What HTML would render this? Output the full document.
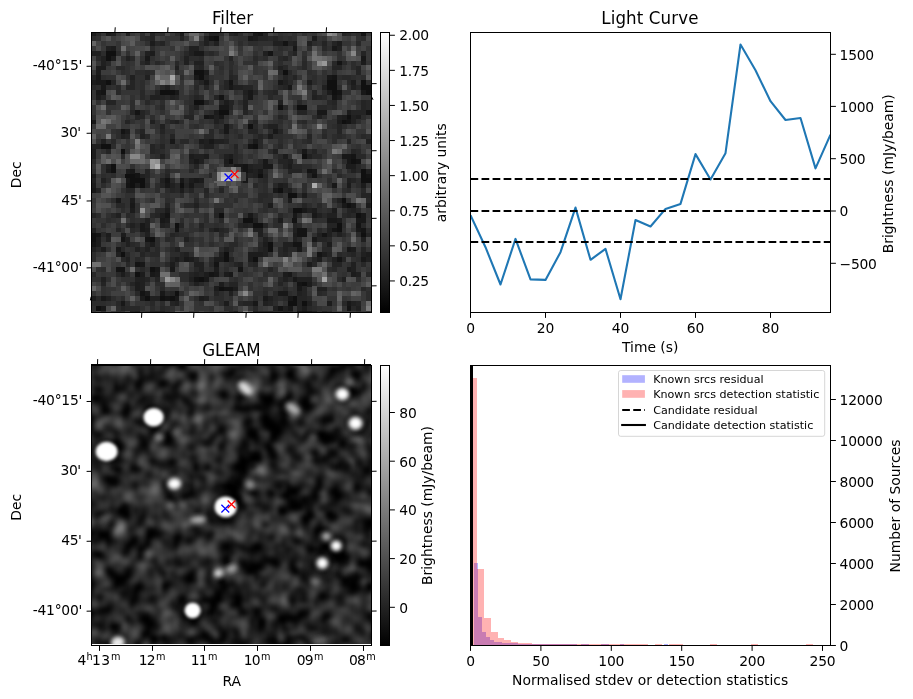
<!DOCTYPE html><html><head><meta charset="utf-8"><title>Candidate plot</title>
<style>html,body{margin:0;padding:0;background:#fff}svg{display:block}text{font-family:"DejaVu Sans","Liberation Sans",sans-serif;fill:#000}</style></head><body>
<svg width="913" height="699" viewBox="0 0 913 699">
<defs>
<linearGradient id="gg" x1="0" y1="1" x2="0" y2="0"><stop offset="0" stop-color="#000"/><stop offset="1" stop-color="#fff"/></linearGradient>
<filter id="b0" x="0" y="0" width="1" height="1" color-interpolation-filters="sRGB"><feGaussianBlur stdDeviation="2.0"/></filter>
<filter id="b1" x="-0.5" y="-0.5" width="2" height="2" color-interpolation-filters="sRGB"><feGaussianBlur stdDeviation="1.9"/></filter>
<filter id="b4" x="-0.5" y="-0.5" width="2" height="2" color-interpolation-filters="sRGB"><feGaussianBlur stdDeviation="1.35"/></filter>
<filter id="b3" x="-0.5" y="-0.5" width="2" height="2" color-interpolation-filters="sRGB"><feGaussianBlur stdDeviation="3"/></filter>
<filter id="b2" x="-0.5" y="-0.5" width="2" height="2" color-interpolation-filters="sRGB"><feGaussianBlur stdDeviation="2.4"/></filter>
<clipPath id="c1"><rect x="92.00" y="33.00" width="279.00" height="279.00"/></clipPath>
<clipPath id="c3"><rect x="91.00" y="364.00" width="280.00" height="279.90"/></clipPath>
<clipPath id="c2"><rect x="471.00" y="33.00" width="359.00" height="279.00"/></clipPath>
</defs>
<g clip-path="url(#c1)" shape-rendering="crispEdges">
<rect x="91" y="32" width="281" height="281" fill="#383838"/>
<path fill="rgb(16,16,16)" d="M213.8 35.9h5.0v5.0h-5.0zM371.0 45.7h5.0v5.0h-5.0zM105.7 50.6h5.0v5.0h-5.0zM110.6 50.6h5.0v5.0h-5.0zM105.7 55.6h5.0v5.0h-5.0zM194.2 70.3h5.0v5.0h-5.0zM199.1 70.3h5.0v5.0h-5.0zM282.6 70.3h5.0v5.0h-5.0zM199.1 75.2h5.0v5.0h-5.0zM105.7 80.1h5.0v5.0h-5.0zM326.8 80.1h5.0v5.0h-5.0zM331.7 80.1h5.0v5.0h-5.0zM361.2 80.1h5.0v5.0h-5.0zM326.8 85.0h5.0v5.0h-5.0zM331.7 85.0h5.0v5.0h-5.0zM361.2 85.0h5.0v5.0h-5.0zM366.1 85.0h5.0v5.0h-5.0zM159.8 89.9h5.0v5.0h-5.0zM164.7 89.9h5.0v5.0h-5.0zM169.6 89.9h5.0v5.0h-5.0zM331.7 89.9h5.0v5.0h-5.0zM366.1 89.9h5.0v5.0h-5.0zM194.2 99.8h5.0v5.0h-5.0zM199.1 99.8h5.0v5.0h-5.0zM277.7 104.7h5.0v5.0h-5.0zM297.3 104.7h5.0v5.0h-5.0zM302.2 104.7h5.0v5.0h-5.0zM218.7 109.6h5.0v5.0h-5.0zM223.6 109.6h5.0v5.0h-5.0zM346.4 114.5h5.0v5.0h-5.0zM341.5 119.4h5.0v5.0h-5.0zM248.2 124.3h5.0v5.0h-5.0zM100.8 144.0h5.0v5.0h-5.0zM105.7 144.0h5.0v5.0h-5.0zM253.1 144.0h5.0v5.0h-5.0zM120.5 148.9h5.0v5.0h-5.0zM302.2 153.8h5.0v5.0h-5.0zM228.5 158.7h5.0v5.0h-5.0zM351.3 158.7h5.0v5.0h-5.0zM110.6 163.6h5.0v5.0h-5.0zM110.6 168.5h5.0v5.0h-5.0zM361.2 168.5h5.0v5.0h-5.0zM125.4 173.4h5.0v5.0h-5.0zM130.3 173.4h5.0v5.0h-5.0zM258.0 173.4h5.0v5.0h-5.0zM361.2 173.4h5.0v5.0h-5.0zM130.3 178.4h5.0v5.0h-5.0zM135.2 178.4h5.0v5.0h-5.0zM140.1 178.4h5.0v5.0h-5.0zM361.2 178.4h5.0v5.0h-5.0zM366.1 178.4h5.0v5.0h-5.0zM130.3 183.3h5.0v5.0h-5.0zM140.1 183.3h5.0v5.0h-5.0zM179.4 183.3h5.0v5.0h-5.0zM277.7 188.2h5.0v5.0h-5.0zM287.5 193.1h5.0v5.0h-5.0zM292.4 193.1h5.0v5.0h-5.0zM341.5 198.0h5.0v5.0h-5.0zM346.4 202.9h5.0v5.0h-5.0zM292.4 207.8h5.0v5.0h-5.0zM297.3 207.8h5.0v5.0h-5.0zM218.7 212.7h5.0v5.0h-5.0zM356.2 212.7h5.0v5.0h-5.0zM243.3 217.7h5.0v5.0h-5.0zM248.2 217.7h5.0v5.0h-5.0zM174.5 222.6h5.0v5.0h-5.0zM253.1 222.6h5.0v5.0h-5.0zM258.0 222.6h5.0v5.0h-5.0zM336.6 222.6h5.0v5.0h-5.0zM336.6 227.5h5.0v5.0h-5.0zM91.0 232.4h5.0v5.0h-5.0zM361.2 232.4h5.0v5.0h-5.0zM91.0 237.3h5.0v5.0h-5.0zM149.9 237.3h5.0v5.0h-5.0zM267.8 242.2h5.0v5.0h-5.0zM267.8 247.1h5.0v5.0h-5.0zM120.5 252.0h5.0v5.0h-5.0zM223.6 252.0h5.0v5.0h-5.0zM223.6 257.0h5.0v5.0h-5.0zM253.1 257.0h5.0v5.0h-5.0zM149.9 266.8h5.0v5.0h-5.0zM135.2 271.7h5.0v5.0h-5.0zM199.1 276.6h5.0v5.0h-5.0zM302.2 281.5h5.0v5.0h-5.0zM218.7 286.4h5.0v5.0h-5.0zM174.5 291.3h5.0v5.0h-5.0zM145.0 296.2h5.0v5.0h-5.0zM159.8 296.2h5.0v5.0h-5.0zM169.6 296.2h5.0v5.0h-5.0zM292.4 296.2h5.0v5.0h-5.0zM287.5 301.2h5.0v5.0h-5.0zM292.4 301.2h5.0v5.0h-5.0zM302.2 301.2h5.0v5.0h-5.0zM95.9 306.1h5.0v5.0h-5.0z"/>
<path fill="rgb(20,20,20)" d="M258.0 31.0h5.0v5.0h-5.0zM361.2 31.0h5.0v5.0h-5.0zM208.9 35.9h5.0v5.0h-5.0zM282.6 40.8h5.0v5.0h-5.0zM267.8 50.6h5.0v5.0h-5.0zM336.6 60.5h5.0v5.0h-5.0zM331.7 75.2h5.0v5.0h-5.0zM228.5 80.1h5.0v5.0h-5.0zM100.8 89.9h5.0v5.0h-5.0zM336.6 89.9h5.0v5.0h-5.0zM218.7 94.9h5.0v5.0h-5.0zM331.7 94.9h5.0v5.0h-5.0zM135.2 109.6h5.0v5.0h-5.0zM366.1 109.6h5.0v5.0h-5.0zM204.0 114.5h5.0v5.0h-5.0zM346.4 119.4h5.0v5.0h-5.0zM120.5 129.2h5.0v5.0h-5.0zM248.2 144.0h5.0v5.0h-5.0zM351.3 153.8h5.0v5.0h-5.0zM356.2 158.7h5.0v5.0h-5.0zM243.3 163.6h5.0v5.0h-5.0zM243.3 168.5h5.0v5.0h-5.0zM307.1 168.5h5.0v5.0h-5.0zM135.2 173.4h5.0v5.0h-5.0zM312.0 173.4h5.0v5.0h-5.0zM366.1 173.4h5.0v5.0h-5.0zM164.7 178.4h5.0v5.0h-5.0zM125.4 183.3h5.0v5.0h-5.0zM164.7 212.7h5.0v5.0h-5.0zM292.4 217.7h5.0v5.0h-5.0zM356.2 222.6h5.0v5.0h-5.0zM174.5 227.5h5.0v5.0h-5.0zM297.3 227.5h5.0v5.0h-5.0zM302.2 227.5h5.0v5.0h-5.0zM331.7 227.5h5.0v5.0h-5.0zM361.2 227.5h5.0v5.0h-5.0zM95.9 232.4h5.0v5.0h-5.0zM297.3 232.4h5.0v5.0h-5.0zM302.2 232.4h5.0v5.0h-5.0zM321.9 232.4h5.0v5.0h-5.0zM120.5 237.3h5.0v5.0h-5.0zM145.0 237.3h5.0v5.0h-5.0zM91.0 242.2h5.0v5.0h-5.0zM292.4 242.2h5.0v5.0h-5.0zM297.3 242.2h5.0v5.0h-5.0zM317.0 252.0h5.0v5.0h-5.0zM336.6 257.0h5.0v5.0h-5.0zM135.2 261.9h5.0v5.0h-5.0zM213.8 261.9h5.0v5.0h-5.0zM115.6 266.8h5.0v5.0h-5.0zM120.5 266.8h5.0v5.0h-5.0zM238.4 266.8h5.0v5.0h-5.0zM208.9 271.7h5.0v5.0h-5.0zM194.2 276.6h5.0v5.0h-5.0zM297.3 281.5h5.0v5.0h-5.0zM223.6 286.4h5.0v5.0h-5.0zM228.5 286.4h5.0v5.0h-5.0zM140.1 291.3h5.0v5.0h-5.0zM164.7 296.2h5.0v5.0h-5.0zM277.7 306.1h5.0v5.0h-5.0zM346.4 306.1h5.0v5.0h-5.0zM302.2 311.0h5.0v5.0h-5.0z"/>
<path fill="rgb(24,24,24)" d="M253.1 31.0h5.0v5.0h-5.0zM248.2 35.9h5.0v5.0h-5.0zM371.0 40.8h5.0v5.0h-5.0zM292.4 45.7h5.0v5.0h-5.0zM331.7 45.7h5.0v5.0h-5.0zM194.2 50.6h5.0v5.0h-5.0zM199.1 50.6h5.0v5.0h-5.0zM145.0 55.6h5.0v5.0h-5.0zM361.2 55.6h5.0v5.0h-5.0zM95.9 75.2h5.0v5.0h-5.0zM194.2 75.2h5.0v5.0h-5.0zM326.8 75.2h5.0v5.0h-5.0zM95.9 80.1h5.0v5.0h-5.0zM100.8 80.1h5.0v5.0h-5.0zM204.0 80.1h5.0v5.0h-5.0zM277.7 80.1h5.0v5.0h-5.0zM100.8 85.0h5.0v5.0h-5.0zM228.5 85.0h5.0v5.0h-5.0zM287.5 85.0h5.0v5.0h-5.0zM95.9 89.9h5.0v5.0h-5.0zM174.5 89.9h5.0v5.0h-5.0zM248.2 89.9h5.0v5.0h-5.0zM361.2 89.9h5.0v5.0h-5.0zM248.2 94.9h5.0v5.0h-5.0zM218.7 104.7h5.0v5.0h-5.0zM223.6 104.7h5.0v5.0h-5.0zM317.0 109.6h5.0v5.0h-5.0zM321.9 109.6h5.0v5.0h-5.0zM208.9 114.5h5.0v5.0h-5.0zM218.7 114.5h5.0v5.0h-5.0zM91.0 119.4h5.0v5.0h-5.0zM223.6 124.3h5.0v5.0h-5.0zM223.6 129.2h5.0v5.0h-5.0zM272.7 129.2h5.0v5.0h-5.0zM169.6 139.1h5.0v5.0h-5.0zM208.9 139.1h5.0v5.0h-5.0zM302.2 148.9h5.0v5.0h-5.0zM341.5 153.8h5.0v5.0h-5.0zM346.4 153.8h5.0v5.0h-5.0zM194.2 158.7h5.0v5.0h-5.0zM262.9 158.7h5.0v5.0h-5.0zM346.4 158.7h5.0v5.0h-5.0zM233.4 163.6h5.0v5.0h-5.0zM238.4 163.6h5.0v5.0h-5.0zM262.9 163.6h5.0v5.0h-5.0zM267.8 163.6h5.0v5.0h-5.0zM130.3 168.5h5.0v5.0h-5.0zM258.0 168.5h5.0v5.0h-5.0zM312.0 168.5h5.0v5.0h-5.0zM91.0 173.4h5.0v5.0h-5.0zM125.4 178.4h5.0v5.0h-5.0zM179.4 178.4h5.0v5.0h-5.0zM194.2 178.4h5.0v5.0h-5.0zM243.3 178.4h5.0v5.0h-5.0zM164.7 183.3h5.0v5.0h-5.0zM189.2 183.3h5.0v5.0h-5.0zM331.7 183.3h5.0v5.0h-5.0zM91.0 188.2h5.0v5.0h-5.0zM272.7 188.2h5.0v5.0h-5.0zM115.6 198.0h5.0v5.0h-5.0zM130.3 202.9h5.0v5.0h-5.0zM341.5 202.9h5.0v5.0h-5.0zM351.3 202.9h5.0v5.0h-5.0zM302.2 207.8h5.0v5.0h-5.0zM248.2 212.7h5.0v5.0h-5.0zM292.4 212.7h5.0v5.0h-5.0zM312.0 212.7h5.0v5.0h-5.0zM361.2 212.7h5.0v5.0h-5.0zM159.8 217.7h5.0v5.0h-5.0zM326.8 217.7h5.0v5.0h-5.0zM331.7 217.7h5.0v5.0h-5.0zM356.2 217.7h5.0v5.0h-5.0zM361.2 217.7h5.0v5.0h-5.0zM140.1 222.6h5.0v5.0h-5.0zM140.1 227.5h5.0v5.0h-5.0zM356.2 227.5h5.0v5.0h-5.0zM312.0 237.3h5.0v5.0h-5.0zM115.6 247.1h5.0v5.0h-5.0zM297.3 247.1h5.0v5.0h-5.0zM346.4 247.1h5.0v5.0h-5.0zM184.3 257.0h5.0v5.0h-5.0zM361.2 257.0h5.0v5.0h-5.0zM140.1 261.9h5.0v5.0h-5.0zM154.9 266.8h5.0v5.0h-5.0zM169.6 266.8h5.0v5.0h-5.0zM149.9 271.7h5.0v5.0h-5.0zM213.8 271.7h5.0v5.0h-5.0zM228.5 271.7h5.0v5.0h-5.0zM287.5 271.7h5.0v5.0h-5.0zM204.0 276.6h5.0v5.0h-5.0zM292.4 276.6h5.0v5.0h-5.0zM297.3 286.4h5.0v5.0h-5.0zM159.8 291.3h5.0v5.0h-5.0zM277.7 291.3h5.0v5.0h-5.0zM282.6 291.3h5.0v5.0h-5.0zM371.0 291.3h5.0v5.0h-5.0zM100.8 296.2h5.0v5.0h-5.0zM174.5 296.2h5.0v5.0h-5.0zM262.9 296.2h5.0v5.0h-5.0zM287.5 296.2h5.0v5.0h-5.0zM120.5 301.2h5.0v5.0h-5.0zM253.1 301.2h5.0v5.0h-5.0zM346.4 301.2h5.0v5.0h-5.0zM100.8 306.1h5.0v5.0h-5.0zM287.5 306.1h5.0v5.0h-5.0zM297.3 311.0h5.0v5.0h-5.0zM307.1 311.0h5.0v5.0h-5.0z"/>
<path fill="rgb(28,28,28)" d="M91.0 31.0h5.0v5.0h-5.0zM105.7 31.0h5.0v5.0h-5.0zM179.4 31.0h5.0v5.0h-5.0zM253.1 35.9h5.0v5.0h-5.0zM312.0 35.9h5.0v5.0h-5.0zM149.9 40.8h5.0v5.0h-5.0zM336.6 40.8h5.0v5.0h-5.0zM110.6 45.7h5.0v5.0h-5.0zM149.9 50.6h5.0v5.0h-5.0zM110.6 55.6h5.0v5.0h-5.0zM361.2 60.5h5.0v5.0h-5.0zM95.9 65.4h5.0v5.0h-5.0zM100.8 65.4h5.0v5.0h-5.0zM95.9 70.3h5.0v5.0h-5.0zM204.0 70.3h5.0v5.0h-5.0zM91.0 80.1h5.0v5.0h-5.0zM307.1 80.1h5.0v5.0h-5.0zM351.3 80.1h5.0v5.0h-5.0zM326.8 89.9h5.0v5.0h-5.0zM371.0 89.9h5.0v5.0h-5.0zM95.9 94.9h5.0v5.0h-5.0zM336.6 94.9h5.0v5.0h-5.0zM223.6 99.8h5.0v5.0h-5.0zM213.8 109.6h5.0v5.0h-5.0zM346.4 109.6h5.0v5.0h-5.0zM341.5 114.5h5.0v5.0h-5.0zM356.2 114.5h5.0v5.0h-5.0zM336.6 119.4h5.0v5.0h-5.0zM125.4 129.2h5.0v5.0h-5.0zM267.8 134.2h5.0v5.0h-5.0zM199.1 139.1h5.0v5.0h-5.0zM253.1 139.1h5.0v5.0h-5.0zM91.0 148.9h5.0v5.0h-5.0zM91.0 153.8h5.0v5.0h-5.0zM189.2 153.8h5.0v5.0h-5.0zM204.0 153.8h5.0v5.0h-5.0zM228.5 153.8h5.0v5.0h-5.0zM282.6 153.8h5.0v5.0h-5.0zM223.6 158.7h5.0v5.0h-5.0zM287.5 163.6h5.0v5.0h-5.0zM346.4 163.6h5.0v5.0h-5.0zM351.3 163.6h5.0v5.0h-5.0zM105.7 168.5h5.0v5.0h-5.0zM125.4 168.5h5.0v5.0h-5.0zM238.4 168.5h5.0v5.0h-5.0zM248.2 168.5h5.0v5.0h-5.0zM243.3 173.4h5.0v5.0h-5.0zM189.2 178.4h5.0v5.0h-5.0zM199.1 178.4h5.0v5.0h-5.0zM371.0 178.4h5.0v5.0h-5.0zM91.0 183.3h5.0v5.0h-5.0zM135.2 183.3h5.0v5.0h-5.0zM277.7 183.3h5.0v5.0h-5.0zM346.4 183.3h5.0v5.0h-5.0zM361.2 183.3h5.0v5.0h-5.0zM179.4 188.2h5.0v5.0h-5.0zM302.2 193.1h5.0v5.0h-5.0zM130.3 198.0h5.0v5.0h-5.0zM287.5 198.0h5.0v5.0h-5.0zM267.8 202.9h5.0v5.0h-5.0zM366.1 202.9h5.0v5.0h-5.0zM130.3 207.8h5.0v5.0h-5.0zM164.7 207.8h5.0v5.0h-5.0zM312.0 207.8h5.0v5.0h-5.0zM331.7 207.8h5.0v5.0h-5.0zM159.8 212.7h5.0v5.0h-5.0zM164.7 217.7h5.0v5.0h-5.0zM277.7 217.7h5.0v5.0h-5.0zM336.6 217.7h5.0v5.0h-5.0zM145.0 227.5h5.0v5.0h-5.0zM213.8 227.5h5.0v5.0h-5.0zM105.7 232.4h5.0v5.0h-5.0zM120.5 232.4h5.0v5.0h-5.0zM292.4 232.4h5.0v5.0h-5.0zM95.9 237.3h5.0v5.0h-5.0zM95.9 242.2h5.0v5.0h-5.0zM149.9 242.2h5.0v5.0h-5.0zM262.9 242.2h5.0v5.0h-5.0zM326.8 242.2h5.0v5.0h-5.0zM100.8 247.1h5.0v5.0h-5.0zM351.3 247.1h5.0v5.0h-5.0zM248.2 252.0h5.0v5.0h-5.0zM253.1 252.0h5.0v5.0h-5.0zM258.0 252.0h5.0v5.0h-5.0zM321.9 252.0h5.0v5.0h-5.0zM366.1 252.0h5.0v5.0h-5.0zM174.5 257.0h5.0v5.0h-5.0zM189.2 257.0h5.0v5.0h-5.0zM213.8 257.0h5.0v5.0h-5.0zM218.7 257.0h5.0v5.0h-5.0zM248.2 257.0h5.0v5.0h-5.0zM317.0 257.0h5.0v5.0h-5.0zM169.6 261.9h5.0v5.0h-5.0zM307.1 261.9h5.0v5.0h-5.0zM213.8 266.8h5.0v5.0h-5.0zM346.4 266.8h5.0v5.0h-5.0zM120.5 271.7h5.0v5.0h-5.0zM140.1 271.7h5.0v5.0h-5.0zM154.9 271.7h5.0v5.0h-5.0zM204.0 271.7h5.0v5.0h-5.0zM223.6 271.7h5.0v5.0h-5.0zM282.6 271.7h5.0v5.0h-5.0zM351.3 271.7h5.0v5.0h-5.0zM135.2 281.5h5.0v5.0h-5.0zM218.7 281.5h5.0v5.0h-5.0zM307.1 281.5h5.0v5.0h-5.0zM135.2 286.4h5.0v5.0h-5.0zM213.8 286.4h5.0v5.0h-5.0zM233.4 286.4h5.0v5.0h-5.0zM371.0 286.4h5.0v5.0h-5.0zM145.0 291.3h5.0v5.0h-5.0zM91.0 296.2h5.0v5.0h-5.0zM140.1 296.2h5.0v5.0h-5.0zM199.1 296.2h5.0v5.0h-5.0zM223.6 301.2h5.0v5.0h-5.0zM326.8 301.2h5.0v5.0h-5.0zM302.2 306.1h5.0v5.0h-5.0z"/>
<path fill="rgb(32,32,32)" d="M110.6 31.0h5.0v5.0h-5.0zM125.4 31.0h5.0v5.0h-5.0zM233.4 31.0h5.0v5.0h-5.0zM204.0 35.9h5.0v5.0h-5.0zM204.0 40.8h5.0v5.0h-5.0zM213.8 40.8h5.0v5.0h-5.0zM272.7 40.8h5.0v5.0h-5.0zM277.7 40.8h5.0v5.0h-5.0zM292.4 40.8h5.0v5.0h-5.0zM307.1 40.8h5.0v5.0h-5.0zM105.7 45.7h5.0v5.0h-5.0zM189.2 45.7h5.0v5.0h-5.0zM194.2 45.7h5.0v5.0h-5.0zM336.6 45.7h5.0v5.0h-5.0zM91.0 50.6h5.0v5.0h-5.0zM95.9 50.6h5.0v5.0h-5.0zM145.0 50.6h5.0v5.0h-5.0zM189.2 50.6h5.0v5.0h-5.0zM262.9 50.6h5.0v5.0h-5.0zM100.8 55.6h5.0v5.0h-5.0zM125.4 55.6h5.0v5.0h-5.0zM184.3 55.6h5.0v5.0h-5.0zM100.8 60.5h5.0v5.0h-5.0zM145.0 60.5h5.0v5.0h-5.0zM184.3 60.5h5.0v5.0h-5.0zM194.2 60.5h5.0v5.0h-5.0zM199.1 60.5h5.0v5.0h-5.0zM174.5 65.4h5.0v5.0h-5.0zM277.7 65.4h5.0v5.0h-5.0zM130.3 75.2h5.0v5.0h-5.0zM145.0 75.2h5.0v5.0h-5.0zM282.6 80.1h5.0v5.0h-5.0zM164.7 85.0h5.0v5.0h-5.0zM233.4 85.0h5.0v5.0h-5.0zM238.4 85.0h5.0v5.0h-5.0zM321.9 85.0h5.0v5.0h-5.0zM351.3 85.0h5.0v5.0h-5.0zM243.3 89.9h5.0v5.0h-5.0zM149.9 94.9h5.0v5.0h-5.0zM154.9 94.9h5.0v5.0h-5.0zM169.6 94.9h5.0v5.0h-5.0zM312.0 94.9h5.0v5.0h-5.0zM243.3 99.8h5.0v5.0h-5.0zM277.7 99.8h5.0v5.0h-5.0zM194.2 104.7h5.0v5.0h-5.0zM243.3 104.7h5.0v5.0h-5.0zM213.8 114.5h5.0v5.0h-5.0zM317.0 114.5h5.0v5.0h-5.0zM336.6 114.5h5.0v5.0h-5.0zM351.3 114.5h5.0v5.0h-5.0zM149.9 119.4h5.0v5.0h-5.0zM174.5 119.4h5.0v5.0h-5.0zM213.8 119.4h5.0v5.0h-5.0zM351.3 119.4h5.0v5.0h-5.0zM159.8 124.3h5.0v5.0h-5.0zM267.8 124.3h5.0v5.0h-5.0zM272.7 124.3h5.0v5.0h-5.0zM120.5 134.2h5.0v5.0h-5.0zM140.1 134.2h5.0v5.0h-5.0zM100.8 139.1h5.0v5.0h-5.0zM204.0 139.1h5.0v5.0h-5.0zM213.8 139.1h5.0v5.0h-5.0zM218.7 139.1h5.0v5.0h-5.0zM366.1 139.1h5.0v5.0h-5.0zM91.0 144.0h5.0v5.0h-5.0zM95.9 144.0h5.0v5.0h-5.0zM204.0 144.0h5.0v5.0h-5.0zM208.9 144.0h5.0v5.0h-5.0zM272.7 148.9h5.0v5.0h-5.0zM159.8 153.8h5.0v5.0h-5.0zM194.2 153.8h5.0v5.0h-5.0zM199.1 153.8h5.0v5.0h-5.0zM223.6 153.8h5.0v5.0h-5.0zM307.1 153.8h5.0v5.0h-5.0zM189.2 158.7h5.0v5.0h-5.0zM199.1 158.7h5.0v5.0h-5.0zM287.5 158.7h5.0v5.0h-5.0zM105.7 163.6h5.0v5.0h-5.0zM223.6 163.6h5.0v5.0h-5.0zM248.2 163.6h5.0v5.0h-5.0zM253.1 168.5h5.0v5.0h-5.0zM351.3 168.5h5.0v5.0h-5.0zM366.1 168.5h5.0v5.0h-5.0zM140.1 173.4h5.0v5.0h-5.0zM253.1 173.4h5.0v5.0h-5.0zM91.0 178.4h5.0v5.0h-5.0zM100.8 178.4h5.0v5.0h-5.0zM159.8 178.4h5.0v5.0h-5.0zM346.4 178.4h5.0v5.0h-5.0zM169.6 183.3h5.0v5.0h-5.0zM282.6 183.3h5.0v5.0h-5.0zM287.5 188.2h5.0v5.0h-5.0zM336.6 198.0h5.0v5.0h-5.0zM194.2 202.9h5.0v5.0h-5.0zM307.1 207.8h5.0v5.0h-5.0zM351.3 207.8h5.0v5.0h-5.0zM115.6 212.7h5.0v5.0h-5.0zM317.0 212.7h5.0v5.0h-5.0zM326.8 212.7h5.0v5.0h-5.0zM331.7 212.7h5.0v5.0h-5.0zM145.0 217.7h5.0v5.0h-5.0zM253.1 217.7h5.0v5.0h-5.0zM130.3 222.6h5.0v5.0h-5.0zM145.0 222.6h5.0v5.0h-5.0zM159.8 222.6h5.0v5.0h-5.0zM243.3 222.6h5.0v5.0h-5.0zM91.0 227.5h5.0v5.0h-5.0zM253.1 227.5h5.0v5.0h-5.0zM258.0 227.5h5.0v5.0h-5.0zM292.4 227.5h5.0v5.0h-5.0zM326.8 227.5h5.0v5.0h-5.0zM145.0 232.4h5.0v5.0h-5.0zM258.0 232.4h5.0v5.0h-5.0zM317.0 232.4h5.0v5.0h-5.0zM326.8 232.4h5.0v5.0h-5.0zM336.6 232.4h5.0v5.0h-5.0zM105.7 237.3h5.0v5.0h-5.0zM125.4 237.3h5.0v5.0h-5.0zM184.3 237.3h5.0v5.0h-5.0zM262.9 237.3h5.0v5.0h-5.0zM292.4 237.3h5.0v5.0h-5.0zM361.2 237.3h5.0v5.0h-5.0zM125.4 242.2h5.0v5.0h-5.0zM282.6 242.2h5.0v5.0h-5.0zM287.5 242.2h5.0v5.0h-5.0zM91.0 247.1h5.0v5.0h-5.0zM135.2 247.1h5.0v5.0h-5.0zM145.0 247.1h5.0v5.0h-5.0zM174.5 247.1h5.0v5.0h-5.0zM223.6 247.1h5.0v5.0h-5.0zM262.9 247.1h5.0v5.0h-5.0zM282.6 247.1h5.0v5.0h-5.0zM115.6 252.0h5.0v5.0h-5.0zM184.3 252.0h5.0v5.0h-5.0zM218.7 252.0h5.0v5.0h-5.0zM262.9 252.0h5.0v5.0h-5.0zM361.2 252.0h5.0v5.0h-5.0zM125.4 257.0h5.0v5.0h-5.0zM331.7 257.0h5.0v5.0h-5.0zM366.1 257.0h5.0v5.0h-5.0zM194.2 261.9h5.0v5.0h-5.0zM199.1 261.9h5.0v5.0h-5.0zM238.4 261.9h5.0v5.0h-5.0zM351.3 261.9h5.0v5.0h-5.0zM199.1 266.8h5.0v5.0h-5.0zM351.3 266.8h5.0v5.0h-5.0zM194.2 271.7h5.0v5.0h-5.0zM356.2 271.7h5.0v5.0h-5.0zM100.8 276.6h5.0v5.0h-5.0zM135.2 276.6h5.0v5.0h-5.0zM140.1 276.6h5.0v5.0h-5.0zM189.2 276.6h5.0v5.0h-5.0zM282.6 276.6h5.0v5.0h-5.0zM297.3 276.6h5.0v5.0h-5.0zM302.2 276.6h5.0v5.0h-5.0zM307.1 276.6h5.0v5.0h-5.0zM341.5 276.6h5.0v5.0h-5.0zM140.1 281.5h5.0v5.0h-5.0zM194.2 281.5h5.0v5.0h-5.0zM140.1 286.4h5.0v5.0h-5.0zM317.0 286.4h5.0v5.0h-5.0zM321.9 286.4h5.0v5.0h-5.0zM228.5 291.3h5.0v5.0h-5.0zM297.3 291.3h5.0v5.0h-5.0zM105.7 296.2h5.0v5.0h-5.0zM149.9 296.2h5.0v5.0h-5.0zM154.9 296.2h5.0v5.0h-5.0zM204.0 296.2h5.0v5.0h-5.0zM267.8 296.2h5.0v5.0h-5.0zM174.5 301.2h5.0v5.0h-5.0zM262.9 301.2h5.0v5.0h-5.0zM307.1 301.2h5.0v5.0h-5.0zM351.3 301.2h5.0v5.0h-5.0zM272.7 306.1h5.0v5.0h-5.0zM282.6 306.1h5.0v5.0h-5.0zM356.2 306.1h5.0v5.0h-5.0zM135.2 311.0h5.0v5.0h-5.0zM159.8 311.0h5.0v5.0h-5.0zM233.4 311.0h5.0v5.0h-5.0zM253.1 311.0h5.0v5.0h-5.0zM312.0 311.0h5.0v5.0h-5.0z"/>
<path fill="rgb(36,36,36)" d="M149.9 31.0h5.0v5.0h-5.0zM208.9 31.0h5.0v5.0h-5.0zM213.8 31.0h5.0v5.0h-5.0zM228.5 31.0h5.0v5.0h-5.0zM262.9 31.0h5.0v5.0h-5.0zM341.5 31.0h5.0v5.0h-5.0zM149.9 35.9h5.0v5.0h-5.0zM179.4 35.9h5.0v5.0h-5.0zM258.0 35.9h5.0v5.0h-5.0zM262.9 35.9h5.0v5.0h-5.0zM272.7 35.9h5.0v5.0h-5.0zM159.8 40.8h5.0v5.0h-5.0zM287.5 40.8h5.0v5.0h-5.0zM321.9 40.8h5.0v5.0h-5.0zM331.7 40.8h5.0v5.0h-5.0zM292.4 50.6h5.0v5.0h-5.0zM361.2 50.6h5.0v5.0h-5.0zM228.5 55.6h5.0v5.0h-5.0zM282.6 55.6h5.0v5.0h-5.0zM199.1 65.4h5.0v5.0h-5.0zM331.7 65.4h5.0v5.0h-5.0zM336.6 65.4h5.0v5.0h-5.0zM356.2 65.4h5.0v5.0h-5.0zM356.2 70.3h5.0v5.0h-5.0zM91.0 75.2h5.0v5.0h-5.0zM204.0 75.2h5.0v5.0h-5.0zM228.5 75.2h5.0v5.0h-5.0zM282.6 75.2h5.0v5.0h-5.0zM292.4 75.2h5.0v5.0h-5.0zM110.6 80.1h5.0v5.0h-5.0zM130.3 80.1h5.0v5.0h-5.0zM199.1 80.1h5.0v5.0h-5.0zM223.6 80.1h5.0v5.0h-5.0zM125.4 85.0h5.0v5.0h-5.0zM130.3 85.0h5.0v5.0h-5.0zM204.0 85.0h5.0v5.0h-5.0zM223.6 85.0h5.0v5.0h-5.0zM243.3 85.0h5.0v5.0h-5.0zM248.2 85.0h5.0v5.0h-5.0zM282.6 85.0h5.0v5.0h-5.0zM154.9 89.9h5.0v5.0h-5.0zM253.1 89.9h5.0v5.0h-5.0zM272.7 89.9h5.0v5.0h-5.0zM312.0 89.9h5.0v5.0h-5.0zM100.8 94.9h5.0v5.0h-5.0zM159.8 94.9h5.0v5.0h-5.0zM174.5 94.9h5.0v5.0h-5.0zM194.2 94.9h5.0v5.0h-5.0zM213.8 94.9h5.0v5.0h-5.0zM243.3 94.9h5.0v5.0h-5.0zM317.0 94.9h5.0v5.0h-5.0zM105.7 99.8h5.0v5.0h-5.0zM110.6 99.8h5.0v5.0h-5.0zM204.0 99.8h5.0v5.0h-5.0zM228.5 99.8h5.0v5.0h-5.0zM331.7 99.8h5.0v5.0h-5.0zM361.2 99.8h5.0v5.0h-5.0zM228.5 104.7h5.0v5.0h-5.0zM361.2 104.7h5.0v5.0h-5.0zM130.3 109.6h5.0v5.0h-5.0zM140.1 109.6h5.0v5.0h-5.0zM243.3 109.6h5.0v5.0h-5.0zM297.3 109.6h5.0v5.0h-5.0zM302.2 109.6h5.0v5.0h-5.0zM351.3 109.6h5.0v5.0h-5.0zM356.2 109.6h5.0v5.0h-5.0zM361.2 109.6h5.0v5.0h-5.0zM135.2 114.5h5.0v5.0h-5.0zM140.1 114.5h5.0v5.0h-5.0zM184.3 114.5h5.0v5.0h-5.0zM189.2 114.5h5.0v5.0h-5.0zM277.7 114.5h5.0v5.0h-5.0zM125.4 119.4h5.0v5.0h-5.0zM169.6 119.4h5.0v5.0h-5.0zM253.1 119.4h5.0v5.0h-5.0zM336.6 124.3h5.0v5.0h-5.0zM140.1 129.2h5.0v5.0h-5.0zM159.8 129.2h5.0v5.0h-5.0zM248.2 129.2h5.0v5.0h-5.0zM253.1 129.2h5.0v5.0h-5.0zM277.7 129.2h5.0v5.0h-5.0zM336.6 129.2h5.0v5.0h-5.0zM125.4 134.2h5.0v5.0h-5.0zM169.6 134.2h5.0v5.0h-5.0zM258.0 134.2h5.0v5.0h-5.0zM307.1 134.2h5.0v5.0h-5.0zM223.6 139.1h5.0v5.0h-5.0zM346.4 139.1h5.0v5.0h-5.0zM371.0 139.1h5.0v5.0h-5.0zM149.9 144.0h5.0v5.0h-5.0zM159.8 144.0h5.0v5.0h-5.0zM233.4 144.0h5.0v5.0h-5.0zM105.7 148.9h5.0v5.0h-5.0zM149.9 148.9h5.0v5.0h-5.0zM312.0 148.9h5.0v5.0h-5.0zM351.3 148.9h5.0v5.0h-5.0zM277.7 158.7h5.0v5.0h-5.0zM282.6 158.7h5.0v5.0h-5.0zM194.2 163.6h5.0v5.0h-5.0zM228.5 163.6h5.0v5.0h-5.0zM253.1 163.6h5.0v5.0h-5.0zM258.0 163.6h5.0v5.0h-5.0zM282.6 163.6h5.0v5.0h-5.0zM145.0 168.5h5.0v5.0h-5.0zM287.5 168.5h5.0v5.0h-5.0zM292.4 168.5h5.0v5.0h-5.0zM297.3 168.5h5.0v5.0h-5.0zM145.0 173.4h5.0v5.0h-5.0zM164.7 173.4h5.0v5.0h-5.0zM248.2 173.4h5.0v5.0h-5.0zM262.9 173.4h5.0v5.0h-5.0zM307.1 173.4h5.0v5.0h-5.0zM351.3 178.4h5.0v5.0h-5.0zM145.0 183.3h5.0v5.0h-5.0zM159.8 183.3h5.0v5.0h-5.0zM184.3 183.3h5.0v5.0h-5.0zM95.9 188.2h5.0v5.0h-5.0zM125.4 188.2h5.0v5.0h-5.0zM130.3 188.2h5.0v5.0h-5.0zM169.6 188.2h5.0v5.0h-5.0zM189.2 188.2h5.0v5.0h-5.0zM204.0 188.2h5.0v5.0h-5.0zM218.7 188.2h5.0v5.0h-5.0zM282.6 188.2h5.0v5.0h-5.0zM361.2 193.1h5.0v5.0h-5.0zM366.1 193.1h5.0v5.0h-5.0zM164.7 202.9h5.0v5.0h-5.0zM302.2 202.9h5.0v5.0h-5.0zM346.4 207.8h5.0v5.0h-5.0zM91.0 212.7h5.0v5.0h-5.0zM154.9 212.7h5.0v5.0h-5.0zM213.8 212.7h5.0v5.0h-5.0zM346.4 212.7h5.0v5.0h-5.0zM371.0 212.7h5.0v5.0h-5.0zM164.7 222.6h5.0v5.0h-5.0zM179.4 222.6h5.0v5.0h-5.0zM199.1 222.6h5.0v5.0h-5.0zM238.4 222.6h5.0v5.0h-5.0zM248.2 222.6h5.0v5.0h-5.0zM262.9 222.6h5.0v5.0h-5.0zM292.4 222.6h5.0v5.0h-5.0zM326.8 222.6h5.0v5.0h-5.0zM331.7 222.6h5.0v5.0h-5.0zM115.6 227.5h5.0v5.0h-5.0zM208.9 227.5h5.0v5.0h-5.0zM218.7 227.5h5.0v5.0h-5.0zM169.6 232.4h5.0v5.0h-5.0zM366.1 232.4h5.0v5.0h-5.0zM317.0 237.3h5.0v5.0h-5.0zM321.9 237.3h5.0v5.0h-5.0zM145.0 242.2h5.0v5.0h-5.0zM258.0 247.1h5.0v5.0h-5.0zM361.2 247.1h5.0v5.0h-5.0zM140.1 252.0h5.0v5.0h-5.0zM179.4 252.0h5.0v5.0h-5.0zM282.6 252.0h5.0v5.0h-5.0zM326.8 252.0h5.0v5.0h-5.0zM351.3 252.0h5.0v5.0h-5.0zM371.0 252.0h5.0v5.0h-5.0zM169.6 257.0h5.0v5.0h-5.0zM179.4 257.0h5.0v5.0h-5.0zM194.2 257.0h5.0v5.0h-5.0zM228.5 257.0h5.0v5.0h-5.0zM312.0 257.0h5.0v5.0h-5.0zM341.5 257.0h5.0v5.0h-5.0zM233.4 261.9h5.0v5.0h-5.0zM253.1 261.9h5.0v5.0h-5.0zM331.7 261.9h5.0v5.0h-5.0zM336.6 261.9h5.0v5.0h-5.0zM267.8 266.8h5.0v5.0h-5.0zM189.2 271.7h5.0v5.0h-5.0zM199.1 271.7h5.0v5.0h-5.0zM145.0 276.6h5.0v5.0h-5.0zM154.9 276.6h5.0v5.0h-5.0zM100.8 281.5h5.0v5.0h-5.0zM130.3 281.5h5.0v5.0h-5.0zM228.5 281.5h5.0v5.0h-5.0zM233.4 281.5h5.0v5.0h-5.0zM277.7 281.5h5.0v5.0h-5.0zM302.2 286.4h5.0v5.0h-5.0zM169.6 291.3h5.0v5.0h-5.0zM213.8 291.3h5.0v5.0h-5.0zM302.2 291.3h5.0v5.0h-5.0zM297.3 296.2h5.0v5.0h-5.0zM302.2 296.2h5.0v5.0h-5.0zM169.6 301.2h5.0v5.0h-5.0zM243.3 301.2h5.0v5.0h-5.0zM248.2 301.2h5.0v5.0h-5.0zM267.8 301.2h5.0v5.0h-5.0zM297.3 301.2h5.0v5.0h-5.0zM356.2 301.2h5.0v5.0h-5.0zM120.5 306.1h5.0v5.0h-5.0zM297.3 306.1h5.0v5.0h-5.0zM130.3 311.0h5.0v5.0h-5.0zM149.9 311.0h5.0v5.0h-5.0zM154.9 311.0h5.0v5.0h-5.0zM282.6 311.0h5.0v5.0h-5.0zM321.9 311.0h5.0v5.0h-5.0z"/>
<path fill="rgb(40,40,40)" d="M95.9 31.0h5.0v5.0h-5.0zM346.4 31.0h5.0v5.0h-5.0zM145.0 35.9h5.0v5.0h-5.0zM267.8 35.9h5.0v5.0h-5.0zM154.9 40.8h5.0v5.0h-5.0zM356.2 40.8h5.0v5.0h-5.0zM321.9 45.7h5.0v5.0h-5.0zM184.3 50.6h5.0v5.0h-5.0zM208.9 50.6h5.0v5.0h-5.0zM95.9 55.6h5.0v5.0h-5.0zM130.3 55.6h5.0v5.0h-5.0zM199.1 55.6h5.0v5.0h-5.0zM253.1 55.6h5.0v5.0h-5.0zM277.7 55.6h5.0v5.0h-5.0zM105.7 60.5h5.0v5.0h-5.0zM140.1 60.5h5.0v5.0h-5.0zM154.9 60.5h5.0v5.0h-5.0zM174.5 60.5h5.0v5.0h-5.0zM302.2 60.5h5.0v5.0h-5.0zM331.7 60.5h5.0v5.0h-5.0zM341.5 60.5h5.0v5.0h-5.0zM115.6 65.4h5.0v5.0h-5.0zM120.5 65.4h5.0v5.0h-5.0zM194.2 65.4h5.0v5.0h-5.0zM282.6 65.4h5.0v5.0h-5.0zM302.2 65.4h5.0v5.0h-5.0zM145.0 70.3h5.0v5.0h-5.0zM228.5 70.3h5.0v5.0h-5.0zM277.7 70.3h5.0v5.0h-5.0zM287.5 70.3h5.0v5.0h-5.0zM233.4 75.2h5.0v5.0h-5.0zM341.5 75.2h5.0v5.0h-5.0zM346.4 75.2h5.0v5.0h-5.0zM287.5 80.1h5.0v5.0h-5.0zM346.4 80.1h5.0v5.0h-5.0zM91.0 85.0h5.0v5.0h-5.0zM115.6 85.0h5.0v5.0h-5.0zM159.8 85.0h5.0v5.0h-5.0zM194.2 85.0h5.0v5.0h-5.0zM277.7 85.0h5.0v5.0h-5.0zM356.2 85.0h5.0v5.0h-5.0zM115.6 89.9h5.0v5.0h-5.0zM140.1 89.9h5.0v5.0h-5.0zM267.8 89.9h5.0v5.0h-5.0zM140.1 94.9h5.0v5.0h-5.0zM164.7 94.9h5.0v5.0h-5.0zM199.1 94.9h5.0v5.0h-5.0zM267.8 94.9h5.0v5.0h-5.0zM321.9 94.9h5.0v5.0h-5.0zM145.0 99.8h5.0v5.0h-5.0zM218.7 99.8h5.0v5.0h-5.0zM297.3 99.8h5.0v5.0h-5.0zM326.8 99.8h5.0v5.0h-5.0zM366.1 99.8h5.0v5.0h-5.0zM159.8 104.7h5.0v5.0h-5.0zM189.2 104.7h5.0v5.0h-5.0zM282.6 104.7h5.0v5.0h-5.0zM317.0 104.7h5.0v5.0h-5.0zM321.9 104.7h5.0v5.0h-5.0zM331.7 104.7h5.0v5.0h-5.0zM366.1 104.7h5.0v5.0h-5.0zM371.0 104.7h5.0v5.0h-5.0zM189.2 109.6h5.0v5.0h-5.0zM371.0 109.6h5.0v5.0h-5.0zM218.7 119.4h5.0v5.0h-5.0zM302.2 119.4h5.0v5.0h-5.0zM228.5 124.3h5.0v5.0h-5.0zM253.1 124.3h5.0v5.0h-5.0zM262.9 124.3h5.0v5.0h-5.0zM208.9 129.2h5.0v5.0h-5.0zM218.7 129.2h5.0v5.0h-5.0zM145.0 134.2h5.0v5.0h-5.0zM204.0 134.2h5.0v5.0h-5.0zM208.9 134.2h5.0v5.0h-5.0zM238.4 134.2h5.0v5.0h-5.0zM321.9 134.2h5.0v5.0h-5.0zM336.6 134.2h5.0v5.0h-5.0zM361.2 134.2h5.0v5.0h-5.0zM110.6 139.1h5.0v5.0h-5.0zM179.4 139.1h5.0v5.0h-5.0zM184.3 139.1h5.0v5.0h-5.0zM258.0 139.1h5.0v5.0h-5.0zM307.1 139.1h5.0v5.0h-5.0zM199.1 144.0h5.0v5.0h-5.0zM258.0 144.0h5.0v5.0h-5.0zM277.7 144.0h5.0v5.0h-5.0zM154.9 148.9h5.0v5.0h-5.0zM233.4 148.9h5.0v5.0h-5.0zM356.2 148.9h5.0v5.0h-5.0zM120.5 153.8h5.0v5.0h-5.0zM233.4 153.8h5.0v5.0h-5.0zM277.7 153.8h5.0v5.0h-5.0zM312.0 153.8h5.0v5.0h-5.0zM317.0 153.8h5.0v5.0h-5.0zM356.2 153.8h5.0v5.0h-5.0zM361.2 153.8h5.0v5.0h-5.0zM91.0 158.7h5.0v5.0h-5.0zM233.4 158.7h5.0v5.0h-5.0zM258.0 158.7h5.0v5.0h-5.0zM292.4 163.6h5.0v5.0h-5.0zM297.3 163.6h5.0v5.0h-5.0zM356.2 163.6h5.0v5.0h-5.0zM164.7 168.5h5.0v5.0h-5.0zM189.2 168.5h5.0v5.0h-5.0zM233.4 168.5h5.0v5.0h-5.0zM262.9 168.5h5.0v5.0h-5.0zM331.7 168.5h5.0v5.0h-5.0zM356.2 168.5h5.0v5.0h-5.0zM208.9 173.4h5.0v5.0h-5.0zM336.6 173.4h5.0v5.0h-5.0zM145.0 178.4h5.0v5.0h-5.0zM169.6 178.4h5.0v5.0h-5.0zM184.3 178.4h5.0v5.0h-5.0zM223.6 178.4h5.0v5.0h-5.0zM238.4 178.4h5.0v5.0h-5.0zM262.9 178.4h5.0v5.0h-5.0zM174.5 183.3h5.0v5.0h-5.0zM194.2 183.3h5.0v5.0h-5.0zM199.1 183.3h5.0v5.0h-5.0zM253.1 183.3h5.0v5.0h-5.0zM272.7 183.3h5.0v5.0h-5.0zM174.5 188.2h5.0v5.0h-5.0zM346.4 188.2h5.0v5.0h-5.0zM361.2 188.2h5.0v5.0h-5.0zM204.0 193.1h5.0v5.0h-5.0zM258.0 193.1h5.0v5.0h-5.0zM262.9 193.1h5.0v5.0h-5.0zM194.2 198.0h5.0v5.0h-5.0zM258.0 198.0h5.0v5.0h-5.0zM366.1 198.0h5.0v5.0h-5.0zM115.6 202.9h5.0v5.0h-5.0zM120.5 202.9h5.0v5.0h-5.0zM184.3 202.9h5.0v5.0h-5.0zM189.2 202.9h5.0v5.0h-5.0zM317.0 202.9h5.0v5.0h-5.0zM154.9 207.8h5.0v5.0h-5.0zM159.8 207.8h5.0v5.0h-5.0zM213.8 207.8h5.0v5.0h-5.0zM218.7 207.8h5.0v5.0h-5.0zM356.2 207.8h5.0v5.0h-5.0zM110.6 212.7h5.0v5.0h-5.0zM125.4 212.7h5.0v5.0h-5.0zM149.9 212.7h5.0v5.0h-5.0zM253.1 212.7h5.0v5.0h-5.0zM277.7 212.7h5.0v5.0h-5.0zM297.3 212.7h5.0v5.0h-5.0zM321.9 212.7h5.0v5.0h-5.0zM341.5 212.7h5.0v5.0h-5.0zM351.3 212.7h5.0v5.0h-5.0zM218.7 217.7h5.0v5.0h-5.0zM125.4 222.6h5.0v5.0h-5.0zM135.2 222.6h5.0v5.0h-5.0zM297.3 222.6h5.0v5.0h-5.0zM361.2 222.6h5.0v5.0h-5.0zM130.3 227.5h5.0v5.0h-5.0zM199.1 227.5h5.0v5.0h-5.0zM223.6 227.5h5.0v5.0h-5.0zM317.0 227.5h5.0v5.0h-5.0zM100.8 232.4h5.0v5.0h-5.0zM174.5 232.4h5.0v5.0h-5.0zM218.7 232.4h5.0v5.0h-5.0zM341.5 232.4h5.0v5.0h-5.0zM356.2 232.4h5.0v5.0h-5.0zM371.0 232.4h5.0v5.0h-5.0zM164.7 237.3h5.0v5.0h-5.0zM297.3 237.3h5.0v5.0h-5.0zM326.8 237.3h5.0v5.0h-5.0zM130.3 242.2h5.0v5.0h-5.0zM228.5 242.2h5.0v5.0h-5.0zM233.4 242.2h5.0v5.0h-5.0zM258.0 242.2h5.0v5.0h-5.0zM371.0 242.2h5.0v5.0h-5.0zM95.9 247.1h5.0v5.0h-5.0zM120.5 247.1h5.0v5.0h-5.0zM140.1 247.1h5.0v5.0h-5.0zM154.9 247.1h5.0v5.0h-5.0zM169.6 247.1h5.0v5.0h-5.0zM228.5 247.1h5.0v5.0h-5.0zM277.7 247.1h5.0v5.0h-5.0zM287.5 247.1h5.0v5.0h-5.0zM292.4 247.1h5.0v5.0h-5.0zM321.9 247.1h5.0v5.0h-5.0zM326.8 247.1h5.0v5.0h-5.0zM125.4 252.0h5.0v5.0h-5.0zM149.9 252.0h5.0v5.0h-5.0zM154.9 252.0h5.0v5.0h-5.0zM277.7 252.0h5.0v5.0h-5.0zM336.6 252.0h5.0v5.0h-5.0zM346.4 252.0h5.0v5.0h-5.0zM120.5 257.0h5.0v5.0h-5.0zM135.2 257.0h5.0v5.0h-5.0zM125.4 261.9h5.0v5.0h-5.0zM164.7 261.9h5.0v5.0h-5.0zM208.9 261.9h5.0v5.0h-5.0zM248.2 261.9h5.0v5.0h-5.0zM312.0 261.9h5.0v5.0h-5.0zM361.2 261.9h5.0v5.0h-5.0zM140.1 266.8h5.0v5.0h-5.0zM194.2 266.8h5.0v5.0h-5.0zM331.7 266.8h5.0v5.0h-5.0zM91.0 271.7h5.0v5.0h-5.0zM115.6 271.7h5.0v5.0h-5.0zM125.4 271.7h5.0v5.0h-5.0zM366.1 271.7h5.0v5.0h-5.0zM277.7 276.6h5.0v5.0h-5.0zM287.5 276.6h5.0v5.0h-5.0zM199.1 281.5h5.0v5.0h-5.0zM159.8 286.4h5.0v5.0h-5.0zM282.6 286.4h5.0v5.0h-5.0zM361.2 286.4h5.0v5.0h-5.0zM135.2 291.3h5.0v5.0h-5.0zM164.7 291.3h5.0v5.0h-5.0zM262.9 291.3h5.0v5.0h-5.0zM272.7 291.3h5.0v5.0h-5.0zM317.0 291.3h5.0v5.0h-5.0zM95.9 296.2h5.0v5.0h-5.0zM272.7 296.2h5.0v5.0h-5.0zM282.6 296.2h5.0v5.0h-5.0zM307.1 296.2h5.0v5.0h-5.0zM115.6 301.2h5.0v5.0h-5.0zM149.9 301.2h5.0v5.0h-5.0zM238.4 301.2h5.0v5.0h-5.0zM341.5 301.2h5.0v5.0h-5.0zM125.4 306.1h5.0v5.0h-5.0zM130.3 306.1h5.0v5.0h-5.0zM135.2 306.1h5.0v5.0h-5.0zM159.8 306.1h5.0v5.0h-5.0zM253.1 306.1h5.0v5.0h-5.0zM307.1 306.1h5.0v5.0h-5.0zM351.3 306.1h5.0v5.0h-5.0zM228.5 311.0h5.0v5.0h-5.0zM258.0 311.0h5.0v5.0h-5.0zM262.9 311.0h5.0v5.0h-5.0zM267.8 311.0h5.0v5.0h-5.0zM287.5 311.0h5.0v5.0h-5.0z"/>
<path fill="rgb(44,44,44)" d="M140.1 31.0h5.0v5.0h-5.0zM159.8 31.0h5.0v5.0h-5.0zM174.5 31.0h5.0v5.0h-5.0zM218.7 31.0h5.0v5.0h-5.0zM238.4 31.0h5.0v5.0h-5.0zM356.2 31.0h5.0v5.0h-5.0zM91.0 35.9h5.0v5.0h-5.0zM140.1 35.9h5.0v5.0h-5.0zM277.7 35.9h5.0v5.0h-5.0zM287.5 35.9h5.0v5.0h-5.0zM361.2 35.9h5.0v5.0h-5.0zM199.1 40.8h5.0v5.0h-5.0zM208.9 40.8h5.0v5.0h-5.0zM238.4 40.8h5.0v5.0h-5.0zM248.2 40.8h5.0v5.0h-5.0zM253.1 40.8h5.0v5.0h-5.0zM312.0 40.8h5.0v5.0h-5.0zM149.9 45.7h5.0v5.0h-5.0zM277.7 45.7h5.0v5.0h-5.0zM307.1 45.7h5.0v5.0h-5.0zM100.8 50.6h5.0v5.0h-5.0zM115.6 50.6h5.0v5.0h-5.0zM204.0 50.6h5.0v5.0h-5.0zM287.5 50.6h5.0v5.0h-5.0zM371.0 50.6h5.0v5.0h-5.0zM189.2 55.6h5.0v5.0h-5.0zM194.2 55.6h5.0v5.0h-5.0zM262.9 55.6h5.0v5.0h-5.0zM302.2 55.6h5.0v5.0h-5.0zM213.8 60.5h5.0v5.0h-5.0zM228.5 60.5h5.0v5.0h-5.0zM253.1 60.5h5.0v5.0h-5.0zM277.7 60.5h5.0v5.0h-5.0zM351.3 60.5h5.0v5.0h-5.0zM218.7 65.4h5.0v5.0h-5.0zM228.5 65.4h5.0v5.0h-5.0zM351.3 65.4h5.0v5.0h-5.0zM120.5 70.3h5.0v5.0h-5.0zM135.2 70.3h5.0v5.0h-5.0zM140.1 70.3h5.0v5.0h-5.0zM149.9 70.3h5.0v5.0h-5.0zM174.5 70.3h5.0v5.0h-5.0zM307.1 70.3h5.0v5.0h-5.0zM331.7 70.3h5.0v5.0h-5.0zM100.8 75.2h5.0v5.0h-5.0zM179.4 75.2h5.0v5.0h-5.0zM287.5 75.2h5.0v5.0h-5.0zM312.0 75.2h5.0v5.0h-5.0zM336.6 75.2h5.0v5.0h-5.0zM351.3 75.2h5.0v5.0h-5.0zM361.2 75.2h5.0v5.0h-5.0zM140.1 80.1h5.0v5.0h-5.0zM194.2 80.1h5.0v5.0h-5.0zM208.9 80.1h5.0v5.0h-5.0zM233.4 80.1h5.0v5.0h-5.0zM312.0 80.1h5.0v5.0h-5.0zM321.9 80.1h5.0v5.0h-5.0zM366.1 80.1h5.0v5.0h-5.0zM95.9 85.0h5.0v5.0h-5.0zM105.7 85.0h5.0v5.0h-5.0zM140.1 85.0h5.0v5.0h-5.0zM218.7 85.0h5.0v5.0h-5.0zM307.1 85.0h5.0v5.0h-5.0zM336.6 85.0h5.0v5.0h-5.0zM194.2 89.9h5.0v5.0h-5.0zM262.9 89.9h5.0v5.0h-5.0zM321.9 89.9h5.0v5.0h-5.0zM189.2 94.9h5.0v5.0h-5.0zM130.3 99.8h5.0v5.0h-5.0zM159.8 99.8h5.0v5.0h-5.0zM189.2 99.8h5.0v5.0h-5.0zM238.4 99.8h5.0v5.0h-5.0zM130.3 104.7h5.0v5.0h-5.0zM292.4 104.7h5.0v5.0h-5.0zM326.8 104.7h5.0v5.0h-5.0zM145.0 109.6h5.0v5.0h-5.0zM208.9 109.6h5.0v5.0h-5.0zM228.5 109.6h5.0v5.0h-5.0zM91.0 114.5h5.0v5.0h-5.0zM149.9 114.5h5.0v5.0h-5.0zM282.6 114.5h5.0v5.0h-5.0zM312.0 114.5h5.0v5.0h-5.0zM321.9 114.5h5.0v5.0h-5.0zM361.2 114.5h5.0v5.0h-5.0zM164.7 119.4h5.0v5.0h-5.0zM179.4 119.4h5.0v5.0h-5.0zM248.2 119.4h5.0v5.0h-5.0zM277.7 119.4h5.0v5.0h-5.0zM297.3 119.4h5.0v5.0h-5.0zM356.2 119.4h5.0v5.0h-5.0zM194.2 124.3h5.0v5.0h-5.0zM213.8 124.3h5.0v5.0h-5.0zM331.7 124.3h5.0v5.0h-5.0zM341.5 124.3h5.0v5.0h-5.0zM115.6 129.2h5.0v5.0h-5.0zM135.2 129.2h5.0v5.0h-5.0zM233.4 129.2h5.0v5.0h-5.0zM267.8 129.2h5.0v5.0h-5.0zM321.9 129.2h5.0v5.0h-5.0zM115.6 134.2h5.0v5.0h-5.0zM159.8 134.2h5.0v5.0h-5.0zM223.6 134.2h5.0v5.0h-5.0zM253.1 134.2h5.0v5.0h-5.0zM262.9 134.2h5.0v5.0h-5.0zM272.7 134.2h5.0v5.0h-5.0zM277.7 134.2h5.0v5.0h-5.0zM331.7 134.2h5.0v5.0h-5.0zM341.5 134.2h5.0v5.0h-5.0zM366.1 134.2h5.0v5.0h-5.0zM159.8 139.1h5.0v5.0h-5.0zM248.2 139.1h5.0v5.0h-5.0zM277.7 139.1h5.0v5.0h-5.0zM302.2 139.1h5.0v5.0h-5.0zM331.7 139.1h5.0v5.0h-5.0zM110.6 144.0h5.0v5.0h-5.0zM154.9 144.0h5.0v5.0h-5.0zM174.5 144.0h5.0v5.0h-5.0zM159.8 148.9h5.0v5.0h-5.0zM267.8 148.9h5.0v5.0h-5.0zM297.3 148.9h5.0v5.0h-5.0zM307.1 148.9h5.0v5.0h-5.0zM154.9 153.8h5.0v5.0h-5.0zM218.7 153.8h5.0v5.0h-5.0zM238.4 153.8h5.0v5.0h-5.0zM341.5 158.7h5.0v5.0h-5.0zM302.2 163.6h5.0v5.0h-5.0zM307.1 163.6h5.0v5.0h-5.0zM91.0 168.5h5.0v5.0h-5.0zM346.4 168.5h5.0v5.0h-5.0zM100.8 173.4h5.0v5.0h-5.0zM110.6 173.4h5.0v5.0h-5.0zM213.8 173.4h5.0v5.0h-5.0zM238.4 173.4h5.0v5.0h-5.0zM317.0 173.4h5.0v5.0h-5.0zM105.7 178.4h5.0v5.0h-5.0zM218.7 178.4h5.0v5.0h-5.0zM258.0 178.4h5.0v5.0h-5.0zM326.8 178.4h5.0v5.0h-5.0zM356.2 178.4h5.0v5.0h-5.0zM100.8 183.3h5.0v5.0h-5.0zM154.9 183.3h5.0v5.0h-5.0zM218.7 183.3h5.0v5.0h-5.0zM262.9 183.3h5.0v5.0h-5.0zM302.2 183.3h5.0v5.0h-5.0zM356.2 183.3h5.0v5.0h-5.0zM154.9 188.2h5.0v5.0h-5.0zM164.7 188.2h5.0v5.0h-5.0zM184.3 188.2h5.0v5.0h-5.0zM262.9 188.2h5.0v5.0h-5.0zM302.2 188.2h5.0v5.0h-5.0zM341.5 188.2h5.0v5.0h-5.0zM179.4 193.1h5.0v5.0h-5.0zM267.8 193.1h5.0v5.0h-5.0zM277.7 193.1h5.0v5.0h-5.0zM297.3 193.1h5.0v5.0h-5.0zM110.6 198.0h5.0v5.0h-5.0zM164.7 198.0h5.0v5.0h-5.0zM233.4 198.0h5.0v5.0h-5.0zM262.9 198.0h5.0v5.0h-5.0zM267.8 198.0h5.0v5.0h-5.0zM331.7 198.0h5.0v5.0h-5.0zM262.9 202.9h5.0v5.0h-5.0zM307.1 202.9h5.0v5.0h-5.0zM336.6 202.9h5.0v5.0h-5.0zM120.5 207.8h5.0v5.0h-5.0zM262.9 207.8h5.0v5.0h-5.0zM287.5 207.8h5.0v5.0h-5.0zM317.0 207.8h5.0v5.0h-5.0zM326.8 207.8h5.0v5.0h-5.0zM95.9 212.7h5.0v5.0h-5.0zM130.3 212.7h5.0v5.0h-5.0zM204.0 212.7h5.0v5.0h-5.0zM243.3 212.7h5.0v5.0h-5.0zM105.7 217.7h5.0v5.0h-5.0zM130.3 217.7h5.0v5.0h-5.0zM140.1 217.7h5.0v5.0h-5.0zM179.4 217.7h5.0v5.0h-5.0zM204.0 217.7h5.0v5.0h-5.0zM272.7 217.7h5.0v5.0h-5.0zM312.0 217.7h5.0v5.0h-5.0zM100.8 222.6h5.0v5.0h-5.0zM213.8 222.6h5.0v5.0h-5.0zM272.7 222.6h5.0v5.0h-5.0zM277.7 222.6h5.0v5.0h-5.0zM341.5 222.6h5.0v5.0h-5.0zM135.2 227.5h5.0v5.0h-5.0zM366.1 227.5h5.0v5.0h-5.0zM140.1 232.4h5.0v5.0h-5.0zM179.4 232.4h5.0v5.0h-5.0zM184.3 232.4h5.0v5.0h-5.0zM331.7 232.4h5.0v5.0h-5.0zM154.9 237.3h5.0v5.0h-5.0zM169.6 237.3h5.0v5.0h-5.0zM189.2 237.3h5.0v5.0h-5.0zM233.4 237.3h5.0v5.0h-5.0zM267.8 237.3h5.0v5.0h-5.0zM371.0 237.3h5.0v5.0h-5.0zM120.5 242.2h5.0v5.0h-5.0zM135.2 242.2h5.0v5.0h-5.0zM154.9 242.2h5.0v5.0h-5.0zM208.9 242.2h5.0v5.0h-5.0zM321.9 242.2h5.0v5.0h-5.0zM218.7 247.1h5.0v5.0h-5.0zM91.0 252.0h5.0v5.0h-5.0zM145.0 252.0h5.0v5.0h-5.0zM169.6 252.0h5.0v5.0h-5.0zM174.5 252.0h5.0v5.0h-5.0zM189.2 252.0h5.0v5.0h-5.0zM287.5 252.0h5.0v5.0h-5.0zM341.5 252.0h5.0v5.0h-5.0zM91.0 257.0h5.0v5.0h-5.0zM140.1 257.0h5.0v5.0h-5.0zM208.9 257.0h5.0v5.0h-5.0zM326.8 257.0h5.0v5.0h-5.0zM356.2 257.0h5.0v5.0h-5.0zM174.5 261.9h5.0v5.0h-5.0zM228.5 261.9h5.0v5.0h-5.0zM100.8 266.8h5.0v5.0h-5.0zM223.6 266.8h5.0v5.0h-5.0zM326.8 266.8h5.0v5.0h-5.0zM179.4 271.7h5.0v5.0h-5.0zM184.3 271.7h5.0v5.0h-5.0zM262.9 271.7h5.0v5.0h-5.0zM292.4 271.7h5.0v5.0h-5.0zM179.4 276.6h5.0v5.0h-5.0zM184.3 276.6h5.0v5.0h-5.0zM233.4 276.6h5.0v5.0h-5.0zM336.6 276.6h5.0v5.0h-5.0zM356.2 276.6h5.0v5.0h-5.0zM154.9 281.5h5.0v5.0h-5.0zM159.8 281.5h5.0v5.0h-5.0zM189.2 281.5h5.0v5.0h-5.0zM223.6 281.5h5.0v5.0h-5.0zM312.0 281.5h5.0v5.0h-5.0zM262.9 286.4h5.0v5.0h-5.0zM179.4 291.3h5.0v5.0h-5.0zM218.7 291.3h5.0v5.0h-5.0zM287.5 291.3h5.0v5.0h-5.0zM321.9 291.3h5.0v5.0h-5.0zM366.1 291.3h5.0v5.0h-5.0zM110.6 296.2h5.0v5.0h-5.0zM120.5 296.2h5.0v5.0h-5.0zM194.2 296.2h5.0v5.0h-5.0zM213.8 296.2h5.0v5.0h-5.0zM218.7 296.2h5.0v5.0h-5.0zM253.1 296.2h5.0v5.0h-5.0zM277.7 296.2h5.0v5.0h-5.0zM366.1 296.2h5.0v5.0h-5.0zM371.0 296.2h5.0v5.0h-5.0zM91.0 301.2h5.0v5.0h-5.0zM95.9 301.2h5.0v5.0h-5.0zM100.8 301.2h5.0v5.0h-5.0zM125.4 301.2h5.0v5.0h-5.0zM159.8 301.2h5.0v5.0h-5.0zM218.7 301.2h5.0v5.0h-5.0zM272.7 301.2h5.0v5.0h-5.0zM115.6 306.1h5.0v5.0h-5.0zM149.9 306.1h5.0v5.0h-5.0zM164.7 306.1h5.0v5.0h-5.0zM223.6 306.1h5.0v5.0h-5.0zM228.5 306.1h5.0v5.0h-5.0zM312.0 306.1h5.0v5.0h-5.0zM164.7 311.0h5.0v5.0h-5.0zM272.7 311.0h5.0v5.0h-5.0zM277.7 311.0h5.0v5.0h-5.0zM326.8 311.0h5.0v5.0h-5.0z"/>
<path fill="rgb(48,48,48)" d="M154.9 31.0h5.0v5.0h-5.0zM277.7 31.0h5.0v5.0h-5.0zM292.4 31.0h5.0v5.0h-5.0zM302.2 31.0h5.0v5.0h-5.0zM351.3 31.0h5.0v5.0h-5.0zM95.9 35.9h5.0v5.0h-5.0zM238.4 35.9h5.0v5.0h-5.0zM243.3 35.9h5.0v5.0h-5.0zM282.6 35.9h5.0v5.0h-5.0zM292.4 35.9h5.0v5.0h-5.0zM321.9 35.9h5.0v5.0h-5.0zM356.2 35.9h5.0v5.0h-5.0zM145.0 40.8h5.0v5.0h-5.0zM258.0 40.8h5.0v5.0h-5.0zM262.9 40.8h5.0v5.0h-5.0zM267.8 40.8h5.0v5.0h-5.0zM317.0 40.8h5.0v5.0h-5.0zM199.1 45.7h5.0v5.0h-5.0zM282.6 45.7h5.0v5.0h-5.0zM326.8 45.7h5.0v5.0h-5.0zM125.4 50.6h5.0v5.0h-5.0zM213.8 50.6h5.0v5.0h-5.0zM253.1 50.6h5.0v5.0h-5.0zM272.7 50.6h5.0v5.0h-5.0zM277.7 50.6h5.0v5.0h-5.0zM302.2 50.6h5.0v5.0h-5.0zM336.6 50.6h5.0v5.0h-5.0zM120.5 55.6h5.0v5.0h-5.0zM140.1 55.6h5.0v5.0h-5.0zM149.9 55.6h5.0v5.0h-5.0zM179.4 55.6h5.0v5.0h-5.0zM258.0 55.6h5.0v5.0h-5.0zM287.5 55.6h5.0v5.0h-5.0zM336.6 55.6h5.0v5.0h-5.0zM125.4 60.5h5.0v5.0h-5.0zM159.8 60.5h5.0v5.0h-5.0zM218.7 60.5h5.0v5.0h-5.0zM243.3 60.5h5.0v5.0h-5.0zM248.2 60.5h5.0v5.0h-5.0zM125.4 65.4h5.0v5.0h-5.0zM272.7 65.4h5.0v5.0h-5.0zM297.3 65.4h5.0v5.0h-5.0zM125.4 70.3h5.0v5.0h-5.0zM218.7 70.3h5.0v5.0h-5.0zM312.0 70.3h5.0v5.0h-5.0zM321.9 70.3h5.0v5.0h-5.0zM105.7 75.2h5.0v5.0h-5.0zM110.6 75.2h5.0v5.0h-5.0zM125.4 75.2h5.0v5.0h-5.0zM135.2 75.2h5.0v5.0h-5.0zM140.1 75.2h5.0v5.0h-5.0zM208.9 75.2h5.0v5.0h-5.0zM277.7 75.2h5.0v5.0h-5.0zM307.1 75.2h5.0v5.0h-5.0zM321.9 75.2h5.0v5.0h-5.0zM356.2 75.2h5.0v5.0h-5.0zM135.2 80.1h5.0v5.0h-5.0zM218.7 80.1h5.0v5.0h-5.0zM253.1 80.1h5.0v5.0h-5.0zM110.6 85.0h5.0v5.0h-5.0zM135.2 85.0h5.0v5.0h-5.0zM169.6 85.0h5.0v5.0h-5.0zM253.1 85.0h5.0v5.0h-5.0zM272.7 85.0h5.0v5.0h-5.0zM346.4 85.0h5.0v5.0h-5.0zM233.4 89.9h5.0v5.0h-5.0zM341.5 89.9h5.0v5.0h-5.0zM346.4 89.9h5.0v5.0h-5.0zM130.3 94.9h5.0v5.0h-5.0zM145.0 94.9h5.0v5.0h-5.0zM223.6 94.9h5.0v5.0h-5.0zM272.7 94.9h5.0v5.0h-5.0zM277.7 94.9h5.0v5.0h-5.0zM95.9 99.8h5.0v5.0h-5.0zM149.9 99.8h5.0v5.0h-5.0zM184.3 99.8h5.0v5.0h-5.0zM208.9 99.8h5.0v5.0h-5.0zM356.2 99.8h5.0v5.0h-5.0zM154.9 104.7h5.0v5.0h-5.0zM105.7 109.6h5.0v5.0h-5.0zM159.8 109.6h5.0v5.0h-5.0zM204.0 109.6h5.0v5.0h-5.0zM248.2 109.6h5.0v5.0h-5.0zM125.4 114.5h5.0v5.0h-5.0zM223.6 114.5h5.0v5.0h-5.0zM238.4 114.5h5.0v5.0h-5.0zM130.3 119.4h5.0v5.0h-5.0zM154.9 119.4h5.0v5.0h-5.0zM199.1 119.4h5.0v5.0h-5.0zM208.9 119.4h5.0v5.0h-5.0zM272.7 119.4h5.0v5.0h-5.0zM326.8 119.4h5.0v5.0h-5.0zM331.7 119.4h5.0v5.0h-5.0zM154.9 124.3h5.0v5.0h-5.0zM189.2 124.3h5.0v5.0h-5.0zM218.7 124.3h5.0v5.0h-5.0zM277.7 124.3h5.0v5.0h-5.0zM326.8 124.3h5.0v5.0h-5.0zM110.6 129.2h5.0v5.0h-5.0zM164.7 129.2h5.0v5.0h-5.0zM169.6 129.2h5.0v5.0h-5.0zM228.5 129.2h5.0v5.0h-5.0zM233.4 134.2h5.0v5.0h-5.0zM282.6 134.2h5.0v5.0h-5.0zM287.5 134.2h5.0v5.0h-5.0zM356.2 134.2h5.0v5.0h-5.0zM95.9 139.1h5.0v5.0h-5.0zM164.7 139.1h5.0v5.0h-5.0zM194.2 139.1h5.0v5.0h-5.0zM292.4 139.1h5.0v5.0h-5.0zM169.6 144.0h5.0v5.0h-5.0zM213.8 144.0h5.0v5.0h-5.0zM228.5 144.0h5.0v5.0h-5.0zM243.3 144.0h5.0v5.0h-5.0zM272.7 144.0h5.0v5.0h-5.0zM292.4 144.0h5.0v5.0h-5.0zM356.2 144.0h5.0v5.0h-5.0zM100.8 148.9h5.0v5.0h-5.0zM125.4 148.9h5.0v5.0h-5.0zM189.2 148.9h5.0v5.0h-5.0zM213.8 148.9h5.0v5.0h-5.0zM218.7 148.9h5.0v5.0h-5.0zM223.6 148.9h5.0v5.0h-5.0zM228.5 148.9h5.0v5.0h-5.0zM321.9 148.9h5.0v5.0h-5.0zM149.9 153.8h5.0v5.0h-5.0zM164.7 153.8h5.0v5.0h-5.0zM248.2 153.8h5.0v5.0h-5.0zM272.7 153.8h5.0v5.0h-5.0zM287.5 153.8h5.0v5.0h-5.0zM238.4 158.7h5.0v5.0h-5.0zM267.8 158.7h5.0v5.0h-5.0zM91.0 163.6h5.0v5.0h-5.0zM100.8 163.6h5.0v5.0h-5.0zM130.3 163.6h5.0v5.0h-5.0zM189.2 163.6h5.0v5.0h-5.0zM277.7 163.6h5.0v5.0h-5.0zM361.2 163.6h5.0v5.0h-5.0zM100.8 168.5h5.0v5.0h-5.0zM169.6 168.5h5.0v5.0h-5.0zM174.5 168.5h5.0v5.0h-5.0zM213.8 168.5h5.0v5.0h-5.0zM302.2 168.5h5.0v5.0h-5.0zM336.6 168.5h5.0v5.0h-5.0zM105.7 173.4h5.0v5.0h-5.0zM159.8 173.4h5.0v5.0h-5.0zM228.5 173.4h5.0v5.0h-5.0zM233.4 173.4h5.0v5.0h-5.0zM341.5 173.4h5.0v5.0h-5.0zM282.6 178.4h5.0v5.0h-5.0zM258.0 183.3h5.0v5.0h-5.0zM326.8 183.3h5.0v5.0h-5.0zM120.5 188.2h5.0v5.0h-5.0zM258.0 188.2h5.0v5.0h-5.0zM292.4 188.2h5.0v5.0h-5.0zM125.4 193.1h5.0v5.0h-5.0zM130.3 193.1h5.0v5.0h-5.0zM164.7 193.1h5.0v5.0h-5.0zM194.2 193.1h5.0v5.0h-5.0zM228.5 193.1h5.0v5.0h-5.0zM238.4 193.1h5.0v5.0h-5.0zM243.3 193.1h5.0v5.0h-5.0zM307.1 193.1h5.0v5.0h-5.0zM312.0 193.1h5.0v5.0h-5.0zM120.5 198.0h5.0v5.0h-5.0zM125.4 198.0h5.0v5.0h-5.0zM149.9 198.0h5.0v5.0h-5.0zM169.6 198.0h5.0v5.0h-5.0zM223.6 198.0h5.0v5.0h-5.0zM253.1 198.0h5.0v5.0h-5.0zM346.4 198.0h5.0v5.0h-5.0zM125.4 202.9h5.0v5.0h-5.0zM135.2 202.9h5.0v5.0h-5.0zM199.1 202.9h5.0v5.0h-5.0zM204.0 202.9h5.0v5.0h-5.0zM213.8 202.9h5.0v5.0h-5.0zM218.7 202.9h5.0v5.0h-5.0zM223.6 202.9h5.0v5.0h-5.0zM228.5 202.9h5.0v5.0h-5.0zM297.3 202.9h5.0v5.0h-5.0zM371.0 202.9h5.0v5.0h-5.0zM135.2 207.8h5.0v5.0h-5.0zM194.2 207.8h5.0v5.0h-5.0zM258.0 207.8h5.0v5.0h-5.0zM272.7 207.8h5.0v5.0h-5.0zM321.9 207.8h5.0v5.0h-5.0zM341.5 207.8h5.0v5.0h-5.0zM105.7 212.7h5.0v5.0h-5.0zM184.3 212.7h5.0v5.0h-5.0zM282.6 212.7h5.0v5.0h-5.0zM110.6 217.7h5.0v5.0h-5.0zM135.2 217.7h5.0v5.0h-5.0zM149.9 217.7h5.0v5.0h-5.0zM238.4 217.7h5.0v5.0h-5.0zM317.0 217.7h5.0v5.0h-5.0zM321.9 217.7h5.0v5.0h-5.0zM341.5 217.7h5.0v5.0h-5.0zM115.6 222.6h5.0v5.0h-5.0zM189.2 222.6h5.0v5.0h-5.0zM204.0 222.6h5.0v5.0h-5.0zM208.9 222.6h5.0v5.0h-5.0zM218.7 222.6h5.0v5.0h-5.0zM371.0 222.6h5.0v5.0h-5.0zM120.5 227.5h5.0v5.0h-5.0zM179.4 227.5h5.0v5.0h-5.0zM189.2 227.5h5.0v5.0h-5.0zM194.2 227.5h5.0v5.0h-5.0zM321.9 227.5h5.0v5.0h-5.0zM341.5 227.5h5.0v5.0h-5.0zM371.0 227.5h5.0v5.0h-5.0zM262.9 232.4h5.0v5.0h-5.0zM312.0 232.4h5.0v5.0h-5.0zM100.8 237.3h5.0v5.0h-5.0zM199.1 237.3h5.0v5.0h-5.0zM258.0 237.3h5.0v5.0h-5.0zM169.6 242.2h5.0v5.0h-5.0zM184.3 242.2h5.0v5.0h-5.0zM189.2 242.2h5.0v5.0h-5.0zM199.1 242.2h5.0v5.0h-5.0zM223.6 242.2h5.0v5.0h-5.0zM312.0 242.2h5.0v5.0h-5.0zM105.7 247.1h5.0v5.0h-5.0zM130.3 247.1h5.0v5.0h-5.0zM149.9 247.1h5.0v5.0h-5.0zM164.7 247.1h5.0v5.0h-5.0zM253.1 247.1h5.0v5.0h-5.0zM228.5 252.0h5.0v5.0h-5.0zM267.8 252.0h5.0v5.0h-5.0zM356.2 252.0h5.0v5.0h-5.0zM154.9 257.0h5.0v5.0h-5.0zM351.3 257.0h5.0v5.0h-5.0zM149.9 261.9h5.0v5.0h-5.0zM154.9 261.9h5.0v5.0h-5.0zM223.6 261.9h5.0v5.0h-5.0zM346.4 261.9h5.0v5.0h-5.0zM95.9 266.8h5.0v5.0h-5.0zM135.2 266.8h5.0v5.0h-5.0zM145.0 266.8h5.0v5.0h-5.0zM208.9 266.8h5.0v5.0h-5.0zM253.1 266.8h5.0v5.0h-5.0zM272.7 266.8h5.0v5.0h-5.0zM218.7 271.7h5.0v5.0h-5.0zM243.3 271.7h5.0v5.0h-5.0zM272.7 271.7h5.0v5.0h-5.0zM341.5 271.7h5.0v5.0h-5.0zM371.0 271.7h5.0v5.0h-5.0zM91.0 276.6h5.0v5.0h-5.0zM95.9 276.6h5.0v5.0h-5.0zM105.7 276.6h5.0v5.0h-5.0zM120.5 276.6h5.0v5.0h-5.0zM125.4 276.6h5.0v5.0h-5.0zM130.3 276.6h5.0v5.0h-5.0zM228.5 276.6h5.0v5.0h-5.0zM258.0 276.6h5.0v5.0h-5.0zM371.0 276.6h5.0v5.0h-5.0zM125.4 281.5h5.0v5.0h-5.0zM145.0 281.5h5.0v5.0h-5.0zM204.0 281.5h5.0v5.0h-5.0zM248.2 281.5h5.0v5.0h-5.0zM282.6 281.5h5.0v5.0h-5.0zM292.4 281.5h5.0v5.0h-5.0zM100.8 286.4h5.0v5.0h-5.0zM130.3 286.4h5.0v5.0h-5.0zM248.2 286.4h5.0v5.0h-5.0zM267.8 286.4h5.0v5.0h-5.0zM277.7 286.4h5.0v5.0h-5.0zM292.4 286.4h5.0v5.0h-5.0zM331.7 286.4h5.0v5.0h-5.0zM366.1 286.4h5.0v5.0h-5.0zM100.8 291.3h5.0v5.0h-5.0zM253.1 291.3h5.0v5.0h-5.0zM258.0 291.3h5.0v5.0h-5.0zM292.4 291.3h5.0v5.0h-5.0zM228.5 296.2h5.0v5.0h-5.0zM105.7 301.2h5.0v5.0h-5.0zM145.0 301.2h5.0v5.0h-5.0zM179.4 301.2h5.0v5.0h-5.0zM199.1 301.2h5.0v5.0h-5.0zM282.6 301.2h5.0v5.0h-5.0zM312.0 301.2h5.0v5.0h-5.0zM91.0 306.1h5.0v5.0h-5.0zM140.1 306.1h5.0v5.0h-5.0zM169.6 306.1h5.0v5.0h-5.0zM208.9 306.1h5.0v5.0h-5.0zM317.0 306.1h5.0v5.0h-5.0zM100.8 311.0h5.0v5.0h-5.0zM115.6 311.0h5.0v5.0h-5.0zM356.2 311.0h5.0v5.0h-5.0z"/>
<path fill="rgb(52,52,52)" d="M100.8 31.0h5.0v5.0h-5.0zM204.0 31.0h5.0v5.0h-5.0zM248.2 31.0h5.0v5.0h-5.0zM282.6 31.0h5.0v5.0h-5.0zM312.0 31.0h5.0v5.0h-5.0zM164.7 35.9h5.0v5.0h-5.0zM169.6 35.9h5.0v5.0h-5.0zM174.5 35.9h5.0v5.0h-5.0zM184.3 35.9h5.0v5.0h-5.0zM233.4 35.9h5.0v5.0h-5.0zM317.0 35.9h5.0v5.0h-5.0zM100.8 40.8h5.0v5.0h-5.0zM115.6 40.8h5.0v5.0h-5.0zM164.7 40.8h5.0v5.0h-5.0zM243.3 40.8h5.0v5.0h-5.0zM326.8 40.8h5.0v5.0h-5.0zM341.5 40.8h5.0v5.0h-5.0zM346.4 40.8h5.0v5.0h-5.0zM115.6 45.7h5.0v5.0h-5.0zM169.6 45.7h5.0v5.0h-5.0zM184.3 45.7h5.0v5.0h-5.0zM238.4 45.7h5.0v5.0h-5.0zM258.0 45.7h5.0v5.0h-5.0zM272.7 45.7h5.0v5.0h-5.0zM287.5 45.7h5.0v5.0h-5.0zM366.1 45.7h5.0v5.0h-5.0zM179.4 50.6h5.0v5.0h-5.0zM223.6 55.6h5.0v5.0h-5.0zM341.5 55.6h5.0v5.0h-5.0zM95.9 60.5h5.0v5.0h-5.0zM120.5 60.5h5.0v5.0h-5.0zM130.3 60.5h5.0v5.0h-5.0zM149.9 60.5h5.0v5.0h-5.0zM179.4 60.5h5.0v5.0h-5.0zM189.2 60.5h5.0v5.0h-5.0zM272.7 60.5h5.0v5.0h-5.0zM356.2 60.5h5.0v5.0h-5.0zM366.1 60.5h5.0v5.0h-5.0zM371.0 60.5h5.0v5.0h-5.0zM233.4 65.4h5.0v5.0h-5.0zM253.1 65.4h5.0v5.0h-5.0zM341.5 65.4h5.0v5.0h-5.0zM179.4 70.3h5.0v5.0h-5.0zM213.8 70.3h5.0v5.0h-5.0zM233.4 70.3h5.0v5.0h-5.0zM253.1 70.3h5.0v5.0h-5.0zM262.9 70.3h5.0v5.0h-5.0zM292.4 70.3h5.0v5.0h-5.0zM213.8 75.2h5.0v5.0h-5.0zM218.7 75.2h5.0v5.0h-5.0zM262.9 75.2h5.0v5.0h-5.0zM297.3 75.2h5.0v5.0h-5.0zM317.0 75.2h5.0v5.0h-5.0zM179.4 80.1h5.0v5.0h-5.0zM248.2 80.1h5.0v5.0h-5.0zM272.7 80.1h5.0v5.0h-5.0zM317.0 80.1h5.0v5.0h-5.0zM336.6 80.1h5.0v5.0h-5.0zM356.2 80.1h5.0v5.0h-5.0zM154.9 85.0h5.0v5.0h-5.0zM179.4 85.0h5.0v5.0h-5.0zM208.9 85.0h5.0v5.0h-5.0zM371.0 85.0h5.0v5.0h-5.0zM91.0 89.9h5.0v5.0h-5.0zM120.5 89.9h5.0v5.0h-5.0zM125.4 89.9h5.0v5.0h-5.0zM130.3 89.9h5.0v5.0h-5.0zM135.2 89.9h5.0v5.0h-5.0zM149.9 89.9h5.0v5.0h-5.0zM179.4 89.9h5.0v5.0h-5.0zM189.2 89.9h5.0v5.0h-5.0zM208.9 89.9h5.0v5.0h-5.0zM218.7 89.9h5.0v5.0h-5.0zM238.4 89.9h5.0v5.0h-5.0zM91.0 94.9h5.0v5.0h-5.0zM179.4 94.9h5.0v5.0h-5.0zM184.3 94.9h5.0v5.0h-5.0zM253.1 94.9h5.0v5.0h-5.0zM292.4 94.9h5.0v5.0h-5.0zM297.3 94.9h5.0v5.0h-5.0zM326.8 94.9h5.0v5.0h-5.0zM302.2 99.8h5.0v5.0h-5.0zM91.0 104.7h5.0v5.0h-5.0zM105.7 104.7h5.0v5.0h-5.0zM110.6 104.7h5.0v5.0h-5.0zM199.1 104.7h5.0v5.0h-5.0zM238.4 104.7h5.0v5.0h-5.0zM356.2 104.7h5.0v5.0h-5.0zM91.0 109.6h5.0v5.0h-5.0zM184.3 109.6h5.0v5.0h-5.0zM194.2 109.6h5.0v5.0h-5.0zM262.9 109.6h5.0v5.0h-5.0zM277.7 109.6h5.0v5.0h-5.0zM307.1 109.6h5.0v5.0h-5.0zM253.1 114.5h5.0v5.0h-5.0zM272.7 114.5h5.0v5.0h-5.0zM366.1 114.5h5.0v5.0h-5.0zM140.1 119.4h5.0v5.0h-5.0zM204.0 119.4h5.0v5.0h-5.0zM223.6 119.4h5.0v5.0h-5.0zM267.8 119.4h5.0v5.0h-5.0zM287.5 119.4h5.0v5.0h-5.0zM312.0 119.4h5.0v5.0h-5.0zM140.1 124.3h5.0v5.0h-5.0zM149.9 124.3h5.0v5.0h-5.0zM164.7 124.3h5.0v5.0h-5.0zM199.1 124.3h5.0v5.0h-5.0zM233.4 124.3h5.0v5.0h-5.0zM243.3 124.3h5.0v5.0h-5.0zM287.5 124.3h5.0v5.0h-5.0zM302.2 124.3h5.0v5.0h-5.0zM351.3 124.3h5.0v5.0h-5.0zM154.9 129.2h5.0v5.0h-5.0zM238.4 129.2h5.0v5.0h-5.0zM258.0 129.2h5.0v5.0h-5.0zM307.1 129.2h5.0v5.0h-5.0zM326.8 129.2h5.0v5.0h-5.0zM331.7 129.2h5.0v5.0h-5.0zM356.2 129.2h5.0v5.0h-5.0zM361.2 129.2h5.0v5.0h-5.0zM164.7 134.2h5.0v5.0h-5.0zM189.2 134.2h5.0v5.0h-5.0zM228.5 134.2h5.0v5.0h-5.0zM326.8 134.2h5.0v5.0h-5.0zM346.4 134.2h5.0v5.0h-5.0zM105.7 139.1h5.0v5.0h-5.0zM125.4 139.1h5.0v5.0h-5.0zM154.9 139.1h5.0v5.0h-5.0zM174.5 139.1h5.0v5.0h-5.0zM228.5 139.1h5.0v5.0h-5.0zM233.4 139.1h5.0v5.0h-5.0zM282.6 139.1h5.0v5.0h-5.0zM297.3 139.1h5.0v5.0h-5.0zM125.4 144.0h5.0v5.0h-5.0zM164.7 144.0h5.0v5.0h-5.0zM179.4 144.0h5.0v5.0h-5.0zM297.3 144.0h5.0v5.0h-5.0zM351.3 144.0h5.0v5.0h-5.0zM371.0 144.0h5.0v5.0h-5.0zM164.7 148.9h5.0v5.0h-5.0zM194.2 148.9h5.0v5.0h-5.0zM204.0 148.9h5.0v5.0h-5.0zM238.4 148.9h5.0v5.0h-5.0zM253.1 148.9h5.0v5.0h-5.0zM317.0 148.9h5.0v5.0h-5.0zM321.9 153.8h5.0v5.0h-5.0zM253.1 158.7h5.0v5.0h-5.0zM208.9 163.6h5.0v5.0h-5.0zM312.0 163.6h5.0v5.0h-5.0zM194.2 168.5h5.0v5.0h-5.0zM223.6 168.5h5.0v5.0h-5.0zM149.9 173.4h5.0v5.0h-5.0zM204.0 173.4h5.0v5.0h-5.0zM326.8 173.4h5.0v5.0h-5.0zM346.4 173.4h5.0v5.0h-5.0zM351.3 173.4h5.0v5.0h-5.0zM371.0 173.4h5.0v5.0h-5.0zM272.7 178.4h5.0v5.0h-5.0zM277.7 178.4h5.0v5.0h-5.0zM287.5 183.3h5.0v5.0h-5.0zM341.5 183.3h5.0v5.0h-5.0zM351.3 183.3h5.0v5.0h-5.0zM366.1 183.3h5.0v5.0h-5.0zM140.1 188.2h5.0v5.0h-5.0zM194.2 188.2h5.0v5.0h-5.0zM199.1 188.2h5.0v5.0h-5.0zM213.8 188.2h5.0v5.0h-5.0zM238.4 188.2h5.0v5.0h-5.0zM331.7 188.2h5.0v5.0h-5.0zM159.8 193.1h5.0v5.0h-5.0zM169.6 193.1h5.0v5.0h-5.0zM174.5 193.1h5.0v5.0h-5.0zM189.2 193.1h5.0v5.0h-5.0zM208.9 193.1h5.0v5.0h-5.0zM233.4 193.1h5.0v5.0h-5.0zM272.7 193.1h5.0v5.0h-5.0zM282.6 193.1h5.0v5.0h-5.0zM91.0 198.0h5.0v5.0h-5.0zM204.0 198.0h5.0v5.0h-5.0zM228.5 198.0h5.0v5.0h-5.0zM248.2 198.0h5.0v5.0h-5.0zM282.6 198.0h5.0v5.0h-5.0zM312.0 198.0h5.0v5.0h-5.0zM179.4 202.9h5.0v5.0h-5.0zM287.5 202.9h5.0v5.0h-5.0zM292.4 202.9h5.0v5.0h-5.0zM312.0 202.9h5.0v5.0h-5.0zM321.9 202.9h5.0v5.0h-5.0zM125.4 207.8h5.0v5.0h-5.0zM169.6 207.8h5.0v5.0h-5.0zM243.3 207.8h5.0v5.0h-5.0zM267.8 207.8h5.0v5.0h-5.0zM366.1 207.8h5.0v5.0h-5.0zM189.2 212.7h5.0v5.0h-5.0zM194.2 212.7h5.0v5.0h-5.0zM199.1 212.7h5.0v5.0h-5.0zM228.5 212.7h5.0v5.0h-5.0zM233.4 212.7h5.0v5.0h-5.0zM287.5 212.7h5.0v5.0h-5.0zM366.1 212.7h5.0v5.0h-5.0zM95.9 217.7h5.0v5.0h-5.0zM100.8 217.7h5.0v5.0h-5.0zM115.6 217.7h5.0v5.0h-5.0zM213.8 217.7h5.0v5.0h-5.0zM371.0 217.7h5.0v5.0h-5.0zM91.0 222.6h5.0v5.0h-5.0zM95.9 227.5h5.0v5.0h-5.0zM169.6 227.5h5.0v5.0h-5.0zM238.4 227.5h5.0v5.0h-5.0zM307.1 227.5h5.0v5.0h-5.0zM351.3 227.5h5.0v5.0h-5.0zM164.7 232.4h5.0v5.0h-5.0zM208.9 232.4h5.0v5.0h-5.0zM346.4 232.4h5.0v5.0h-5.0zM194.2 237.3h5.0v5.0h-5.0zM208.9 237.3h5.0v5.0h-5.0zM218.7 237.3h5.0v5.0h-5.0zM277.7 237.3h5.0v5.0h-5.0zM282.6 237.3h5.0v5.0h-5.0zM341.5 237.3h5.0v5.0h-5.0zM115.6 242.2h5.0v5.0h-5.0zM213.8 242.2h5.0v5.0h-5.0zM238.4 242.2h5.0v5.0h-5.0zM272.7 242.2h5.0v5.0h-5.0zM277.7 242.2h5.0v5.0h-5.0zM346.4 242.2h5.0v5.0h-5.0zM361.2 242.2h5.0v5.0h-5.0zM125.4 247.1h5.0v5.0h-5.0zM302.2 247.1h5.0v5.0h-5.0zM341.5 247.1h5.0v5.0h-5.0zM366.1 247.1h5.0v5.0h-5.0zM130.3 252.0h5.0v5.0h-5.0zM130.3 257.0h5.0v5.0h-5.0zM149.9 257.0h5.0v5.0h-5.0zM199.1 257.0h5.0v5.0h-5.0zM307.1 257.0h5.0v5.0h-5.0zM130.3 261.9h5.0v5.0h-5.0zM159.8 261.9h5.0v5.0h-5.0zM302.2 261.9h5.0v5.0h-5.0zM341.5 261.9h5.0v5.0h-5.0zM356.2 261.9h5.0v5.0h-5.0zM189.2 266.8h5.0v5.0h-5.0zM204.0 266.8h5.0v5.0h-5.0zM218.7 266.8h5.0v5.0h-5.0zM243.3 266.8h5.0v5.0h-5.0zM262.9 266.8h5.0v5.0h-5.0zM336.6 266.8h5.0v5.0h-5.0zM341.5 266.8h5.0v5.0h-5.0zM356.2 266.8h5.0v5.0h-5.0zM366.1 266.8h5.0v5.0h-5.0zM100.8 271.7h5.0v5.0h-5.0zM238.4 271.7h5.0v5.0h-5.0zM248.2 271.7h5.0v5.0h-5.0zM267.8 271.7h5.0v5.0h-5.0zM277.7 271.7h5.0v5.0h-5.0zM307.1 271.7h5.0v5.0h-5.0zM336.6 271.7h5.0v5.0h-5.0zM149.9 276.6h5.0v5.0h-5.0zM208.9 276.6h5.0v5.0h-5.0zM238.4 276.6h5.0v5.0h-5.0zM262.9 276.6h5.0v5.0h-5.0zM115.6 281.5h5.0v5.0h-5.0zM272.7 281.5h5.0v5.0h-5.0zM105.7 286.4h5.0v5.0h-5.0zM110.6 286.4h5.0v5.0h-5.0zM154.9 286.4h5.0v5.0h-5.0zM169.6 286.4h5.0v5.0h-5.0zM174.5 286.4h5.0v5.0h-5.0zM204.0 286.4h5.0v5.0h-5.0zM258.0 286.4h5.0v5.0h-5.0zM272.7 286.4h5.0v5.0h-5.0zM287.5 286.4h5.0v5.0h-5.0zM326.8 286.4h5.0v5.0h-5.0zM346.4 286.4h5.0v5.0h-5.0zM91.0 291.3h5.0v5.0h-5.0zM105.7 291.3h5.0v5.0h-5.0zM223.6 291.3h5.0v5.0h-5.0zM233.4 291.3h5.0v5.0h-5.0zM307.1 291.3h5.0v5.0h-5.0zM115.6 296.2h5.0v5.0h-5.0zM208.9 296.2h5.0v5.0h-5.0zM223.6 296.2h5.0v5.0h-5.0zM258.0 296.2h5.0v5.0h-5.0zM326.8 296.2h5.0v5.0h-5.0zM331.7 296.2h5.0v5.0h-5.0zM341.5 296.2h5.0v5.0h-5.0zM110.6 301.2h5.0v5.0h-5.0zM135.2 301.2h5.0v5.0h-5.0zM140.1 301.2h5.0v5.0h-5.0zM194.2 301.2h5.0v5.0h-5.0zM228.5 301.2h5.0v5.0h-5.0zM331.7 301.2h5.0v5.0h-5.0zM154.9 306.1h5.0v5.0h-5.0zM179.4 306.1h5.0v5.0h-5.0zM194.2 306.1h5.0v5.0h-5.0zM199.1 306.1h5.0v5.0h-5.0zM204.0 306.1h5.0v5.0h-5.0zM233.4 306.1h5.0v5.0h-5.0zM248.2 306.1h5.0v5.0h-5.0zM321.9 306.1h5.0v5.0h-5.0zM326.8 306.1h5.0v5.0h-5.0zM341.5 306.1h5.0v5.0h-5.0zM120.5 311.0h5.0v5.0h-5.0zM145.0 311.0h5.0v5.0h-5.0zM169.6 311.0h5.0v5.0h-5.0zM317.0 311.0h5.0v5.0h-5.0zM366.1 311.0h5.0v5.0h-5.0z"/>
<path fill="rgb(60,60,60)" d="M243.3 31.0h5.0v5.0h-5.0zM272.7 31.0h5.0v5.0h-5.0zM297.3 31.0h5.0v5.0h-5.0zM110.6 35.9h5.0v5.0h-5.0zM159.8 35.9h5.0v5.0h-5.0zM199.1 35.9h5.0v5.0h-5.0zM346.4 35.9h5.0v5.0h-5.0zM105.7 40.8h5.0v5.0h-5.0zM110.6 40.8h5.0v5.0h-5.0zM140.1 40.8h5.0v5.0h-5.0zM218.7 40.8h5.0v5.0h-5.0zM159.8 45.7h5.0v5.0h-5.0zM164.7 45.7h5.0v5.0h-5.0zM204.0 45.7h5.0v5.0h-5.0zM346.4 45.7h5.0v5.0h-5.0zM356.2 45.7h5.0v5.0h-5.0zM174.5 50.6h5.0v5.0h-5.0zM331.7 50.6h5.0v5.0h-5.0zM174.5 55.6h5.0v5.0h-5.0zM233.4 55.6h5.0v5.0h-5.0zM243.3 55.6h5.0v5.0h-5.0zM272.7 55.6h5.0v5.0h-5.0zM164.7 60.5h5.0v5.0h-5.0zM208.9 60.5h5.0v5.0h-5.0zM110.6 65.4h5.0v5.0h-5.0zM140.1 65.4h5.0v5.0h-5.0zM179.4 65.4h5.0v5.0h-5.0zM204.0 65.4h5.0v5.0h-5.0zM262.9 65.4h5.0v5.0h-5.0zM326.8 65.4h5.0v5.0h-5.0zM346.4 65.4h5.0v5.0h-5.0zM371.0 65.4h5.0v5.0h-5.0zM100.8 70.3h5.0v5.0h-5.0zM105.7 70.3h5.0v5.0h-5.0zM223.6 70.3h5.0v5.0h-5.0zM336.6 70.3h5.0v5.0h-5.0zM351.3 70.3h5.0v5.0h-5.0zM361.2 70.3h5.0v5.0h-5.0zM189.2 75.2h5.0v5.0h-5.0zM223.6 75.2h5.0v5.0h-5.0zM125.4 80.1h5.0v5.0h-5.0zM267.8 80.1h5.0v5.0h-5.0zM189.2 85.0h5.0v5.0h-5.0zM267.8 85.0h5.0v5.0h-5.0zM199.1 89.9h5.0v5.0h-5.0zM223.6 89.9h5.0v5.0h-5.0zM258.0 89.9h5.0v5.0h-5.0zM287.5 89.9h5.0v5.0h-5.0zM317.0 89.9h5.0v5.0h-5.0zM356.2 89.9h5.0v5.0h-5.0zM120.5 94.9h5.0v5.0h-5.0zM258.0 94.9h5.0v5.0h-5.0zM125.4 99.8h5.0v5.0h-5.0zM258.0 99.8h5.0v5.0h-5.0zM292.4 99.8h5.0v5.0h-5.0zM312.0 99.8h5.0v5.0h-5.0zM317.0 99.8h5.0v5.0h-5.0zM336.6 99.8h5.0v5.0h-5.0zM346.4 99.8h5.0v5.0h-5.0zM233.4 104.7h5.0v5.0h-5.0zM253.1 104.7h5.0v5.0h-5.0zM258.0 104.7h5.0v5.0h-5.0zM272.7 104.7h5.0v5.0h-5.0zM336.6 104.7h5.0v5.0h-5.0zM346.4 104.7h5.0v5.0h-5.0zM125.4 109.6h5.0v5.0h-5.0zM164.7 109.6h5.0v5.0h-5.0zM253.1 109.6h5.0v5.0h-5.0zM292.4 109.6h5.0v5.0h-5.0zM120.5 114.5h5.0v5.0h-5.0zM145.0 114.5h5.0v5.0h-5.0zM154.9 114.5h5.0v5.0h-5.0zM169.6 114.5h5.0v5.0h-5.0zM179.4 114.5h5.0v5.0h-5.0zM228.5 114.5h5.0v5.0h-5.0zM194.2 119.4h5.0v5.0h-5.0zM233.4 119.4h5.0v5.0h-5.0zM321.9 119.4h5.0v5.0h-5.0zM174.5 124.3h5.0v5.0h-5.0zM208.9 124.3h5.0v5.0h-5.0zM282.6 124.3h5.0v5.0h-5.0zM361.2 124.3h5.0v5.0h-5.0zM243.3 129.2h5.0v5.0h-5.0zM341.5 129.2h5.0v5.0h-5.0zM95.9 134.2h5.0v5.0h-5.0zM135.2 134.2h5.0v5.0h-5.0zM154.9 134.2h5.0v5.0h-5.0zM184.3 134.2h5.0v5.0h-5.0zM199.1 134.2h5.0v5.0h-5.0zM213.8 134.2h5.0v5.0h-5.0zM351.3 134.2h5.0v5.0h-5.0zM371.0 134.2h5.0v5.0h-5.0zM115.6 139.1h5.0v5.0h-5.0zM149.9 139.1h5.0v5.0h-5.0zM287.5 139.1h5.0v5.0h-5.0zM336.6 139.1h5.0v5.0h-5.0zM351.3 139.1h5.0v5.0h-5.0zM130.3 144.0h5.0v5.0h-5.0zM194.2 144.0h5.0v5.0h-5.0zM312.0 144.0h5.0v5.0h-5.0zM346.4 144.0h5.0v5.0h-5.0zM361.2 144.0h5.0v5.0h-5.0zM208.9 148.9h5.0v5.0h-5.0zM248.2 148.9h5.0v5.0h-5.0zM292.4 148.9h5.0v5.0h-5.0zM331.7 153.8h5.0v5.0h-5.0zM366.1 153.8h5.0v5.0h-5.0zM179.4 158.7h5.0v5.0h-5.0zM218.7 158.7h5.0v5.0h-5.0zM317.0 158.7h5.0v5.0h-5.0zM164.7 163.6h5.0v5.0h-5.0zM199.1 163.6h5.0v5.0h-5.0zM115.6 168.5h5.0v5.0h-5.0zM140.1 168.5h5.0v5.0h-5.0zM115.6 173.4h5.0v5.0h-5.0zM179.4 173.4h5.0v5.0h-5.0zM184.3 173.4h5.0v5.0h-5.0zM189.2 173.4h5.0v5.0h-5.0zM194.2 173.4h5.0v5.0h-5.0zM267.8 173.4h5.0v5.0h-5.0zM267.8 178.4h5.0v5.0h-5.0zM312.0 178.4h5.0v5.0h-5.0zM321.9 178.4h5.0v5.0h-5.0zM331.7 178.4h5.0v5.0h-5.0zM341.5 178.4h5.0v5.0h-5.0zM95.9 183.3h5.0v5.0h-5.0zM120.5 183.3h5.0v5.0h-5.0zM223.6 188.2h5.0v5.0h-5.0zM243.3 188.2h5.0v5.0h-5.0zM351.3 188.2h5.0v5.0h-5.0zM115.6 193.1h5.0v5.0h-5.0zM223.6 193.1h5.0v5.0h-5.0zM253.1 193.1h5.0v5.0h-5.0zM371.0 193.1h5.0v5.0h-5.0zM135.2 198.0h5.0v5.0h-5.0zM189.2 198.0h5.0v5.0h-5.0zM238.4 198.0h5.0v5.0h-5.0zM110.6 202.9h5.0v5.0h-5.0zM208.9 202.9h5.0v5.0h-5.0zM238.4 202.9h5.0v5.0h-5.0zM258.0 202.9h5.0v5.0h-5.0zM282.6 202.9h5.0v5.0h-5.0zM356.2 202.9h5.0v5.0h-5.0zM91.0 207.8h5.0v5.0h-5.0zM105.7 207.8h5.0v5.0h-5.0zM282.6 207.8h5.0v5.0h-5.0zM361.2 207.8h5.0v5.0h-5.0zM135.2 212.7h5.0v5.0h-5.0zM169.6 212.7h5.0v5.0h-5.0zM307.1 212.7h5.0v5.0h-5.0zM282.6 217.7h5.0v5.0h-5.0zM95.9 222.6h5.0v5.0h-5.0zM120.5 222.6h5.0v5.0h-5.0zM223.6 222.6h5.0v5.0h-5.0zM307.1 222.6h5.0v5.0h-5.0zM351.3 222.6h5.0v5.0h-5.0zM366.1 222.6h5.0v5.0h-5.0zM110.6 227.5h5.0v5.0h-5.0zM164.7 227.5h5.0v5.0h-5.0zM228.5 227.5h5.0v5.0h-5.0zM287.5 227.5h5.0v5.0h-5.0zM110.6 232.4h5.0v5.0h-5.0zM115.6 232.4h5.0v5.0h-5.0zM135.2 232.4h5.0v5.0h-5.0zM199.1 232.4h5.0v5.0h-5.0zM233.4 232.4h5.0v5.0h-5.0zM159.8 237.3h5.0v5.0h-5.0zM179.4 237.3h5.0v5.0h-5.0zM243.3 237.3h5.0v5.0h-5.0zM346.4 237.3h5.0v5.0h-5.0zM105.7 242.2h5.0v5.0h-5.0zM174.5 242.2h5.0v5.0h-5.0zM194.2 242.2h5.0v5.0h-5.0zM341.5 242.2h5.0v5.0h-5.0zM159.8 247.1h5.0v5.0h-5.0zM238.4 247.1h5.0v5.0h-5.0zM100.8 252.0h5.0v5.0h-5.0zM164.7 252.0h5.0v5.0h-5.0zM233.4 252.0h5.0v5.0h-5.0zM312.0 252.0h5.0v5.0h-5.0zM238.4 257.0h5.0v5.0h-5.0zM371.0 257.0h5.0v5.0h-5.0zM110.6 261.9h5.0v5.0h-5.0zM243.3 261.9h5.0v5.0h-5.0zM272.7 261.9h5.0v5.0h-5.0zM125.4 266.8h5.0v5.0h-5.0zM174.5 266.8h5.0v5.0h-5.0zM233.4 266.8h5.0v5.0h-5.0zM248.2 266.8h5.0v5.0h-5.0zM361.2 266.8h5.0v5.0h-5.0zM253.1 271.7h5.0v5.0h-5.0zM326.8 271.7h5.0v5.0h-5.0zM95.9 281.5h5.0v5.0h-5.0zM184.3 281.5h5.0v5.0h-5.0zM243.3 281.5h5.0v5.0h-5.0zM253.1 281.5h5.0v5.0h-5.0zM317.0 281.5h5.0v5.0h-5.0zM351.3 281.5h5.0v5.0h-5.0zM356.2 281.5h5.0v5.0h-5.0zM115.6 286.4h5.0v5.0h-5.0zM238.4 286.4h5.0v5.0h-5.0zM336.6 286.4h5.0v5.0h-5.0zM351.3 286.4h5.0v5.0h-5.0zM130.3 291.3h5.0v5.0h-5.0zM208.9 291.3h5.0v5.0h-5.0zM326.8 291.3h5.0v5.0h-5.0zM331.7 291.3h5.0v5.0h-5.0zM258.0 301.2h5.0v5.0h-5.0zM277.7 301.2h5.0v5.0h-5.0zM145.0 306.1h5.0v5.0h-5.0zM262.9 306.1h5.0v5.0h-5.0zM331.7 306.1h5.0v5.0h-5.0zM189.2 311.0h5.0v5.0h-5.0zM204.0 311.0h5.0v5.0h-5.0zM218.7 311.0h5.0v5.0h-5.0zM331.7 311.0h5.0v5.0h-5.0zM361.2 311.0h5.0v5.0h-5.0z"/>
<path fill="rgb(64,64,64)" d="M120.5 31.0h5.0v5.0h-5.0zM135.2 31.0h5.0v5.0h-5.0zM145.0 31.0h5.0v5.0h-5.0zM307.1 35.9h5.0v5.0h-5.0zM341.5 35.9h5.0v5.0h-5.0zM135.2 40.8h5.0v5.0h-5.0zM189.2 40.8h5.0v5.0h-5.0zM194.2 40.8h5.0v5.0h-5.0zM351.3 40.8h5.0v5.0h-5.0zM361.2 40.8h5.0v5.0h-5.0zM366.1 40.8h5.0v5.0h-5.0zM125.4 45.7h5.0v5.0h-5.0zM179.4 45.7h5.0v5.0h-5.0zM262.9 45.7h5.0v5.0h-5.0zM297.3 45.7h5.0v5.0h-5.0zM164.7 50.6h5.0v5.0h-5.0zM169.6 50.6h5.0v5.0h-5.0zM282.6 50.6h5.0v5.0h-5.0zM307.1 50.6h5.0v5.0h-5.0zM326.8 50.6h5.0v5.0h-5.0zM356.2 50.6h5.0v5.0h-5.0zM159.8 55.6h5.0v5.0h-5.0zM208.9 55.6h5.0v5.0h-5.0zM267.8 55.6h5.0v5.0h-5.0zM204.0 60.5h5.0v5.0h-5.0zM297.3 60.5h5.0v5.0h-5.0zM238.4 65.4h5.0v5.0h-5.0zM317.0 70.3h5.0v5.0h-5.0zM341.5 70.3h5.0v5.0h-5.0zM149.9 75.2h5.0v5.0h-5.0zM184.3 75.2h5.0v5.0h-5.0zM248.2 75.2h5.0v5.0h-5.0zM272.7 75.2h5.0v5.0h-5.0zM238.4 80.1h5.0v5.0h-5.0zM262.9 80.1h5.0v5.0h-5.0zM302.2 80.1h5.0v5.0h-5.0zM341.5 80.1h5.0v5.0h-5.0zM120.5 85.0h5.0v5.0h-5.0zM145.0 85.0h5.0v5.0h-5.0zM262.9 85.0h5.0v5.0h-5.0zM292.4 85.0h5.0v5.0h-5.0zM312.0 85.0h5.0v5.0h-5.0zM213.8 89.9h5.0v5.0h-5.0zM105.7 94.9h5.0v5.0h-5.0zM125.4 94.9h5.0v5.0h-5.0zM233.4 94.9h5.0v5.0h-5.0zM238.4 94.9h5.0v5.0h-5.0zM341.5 94.9h5.0v5.0h-5.0zM351.3 94.9h5.0v5.0h-5.0zM371.0 94.9h5.0v5.0h-5.0zM100.8 99.8h5.0v5.0h-5.0zM179.4 99.8h5.0v5.0h-5.0zM307.1 99.8h5.0v5.0h-5.0zM140.1 104.7h5.0v5.0h-5.0zM149.9 104.7h5.0v5.0h-5.0zM174.5 104.7h5.0v5.0h-5.0zM208.9 104.7h5.0v5.0h-5.0zM213.8 104.7h5.0v5.0h-5.0zM307.1 104.7h5.0v5.0h-5.0zM149.9 109.6h5.0v5.0h-5.0zM272.7 109.6h5.0v5.0h-5.0zM326.8 109.6h5.0v5.0h-5.0zM341.5 109.6h5.0v5.0h-5.0zM233.4 114.5h5.0v5.0h-5.0zM326.8 114.5h5.0v5.0h-5.0zM159.8 119.4h5.0v5.0h-5.0zM262.9 119.4h5.0v5.0h-5.0zM105.7 124.3h5.0v5.0h-5.0zM110.6 124.3h5.0v5.0h-5.0zM135.2 124.3h5.0v5.0h-5.0zM204.0 124.3h5.0v5.0h-5.0zM297.3 124.3h5.0v5.0h-5.0zM307.1 124.3h5.0v5.0h-5.0zM174.5 129.2h5.0v5.0h-5.0zM179.4 129.2h5.0v5.0h-5.0zM184.3 129.2h5.0v5.0h-5.0zM189.2 129.2h5.0v5.0h-5.0zM262.9 129.2h5.0v5.0h-5.0zM149.9 134.2h5.0v5.0h-5.0zM174.5 134.2h5.0v5.0h-5.0zM179.4 134.2h5.0v5.0h-5.0zM302.2 134.2h5.0v5.0h-5.0zM312.0 134.2h5.0v5.0h-5.0zM243.3 139.1h5.0v5.0h-5.0zM312.0 139.1h5.0v5.0h-5.0zM341.5 139.1h5.0v5.0h-5.0zM218.7 144.0h5.0v5.0h-5.0zM321.9 144.0h5.0v5.0h-5.0zM326.8 144.0h5.0v5.0h-5.0zM179.4 148.9h5.0v5.0h-5.0zM243.3 148.9h5.0v5.0h-5.0zM341.5 148.9h5.0v5.0h-5.0zM145.0 153.8h5.0v5.0h-5.0zM184.3 153.8h5.0v5.0h-5.0zM371.0 153.8h5.0v5.0h-5.0zM120.5 158.7h5.0v5.0h-5.0zM159.8 158.7h5.0v5.0h-5.0zM184.3 158.7h5.0v5.0h-5.0zM248.2 158.7h5.0v5.0h-5.0zM302.2 158.7h5.0v5.0h-5.0zM307.1 158.7h5.0v5.0h-5.0zM331.7 158.7h5.0v5.0h-5.0zM135.2 163.6h5.0v5.0h-5.0zM120.5 168.5h5.0v5.0h-5.0zM277.7 168.5h5.0v5.0h-5.0zM341.5 168.5h5.0v5.0h-5.0zM218.7 173.4h5.0v5.0h-5.0zM223.6 173.4h5.0v5.0h-5.0zM331.7 173.4h5.0v5.0h-5.0zM356.2 173.4h5.0v5.0h-5.0zM95.9 178.4h5.0v5.0h-5.0zM174.5 178.4h5.0v5.0h-5.0zM204.0 178.4h5.0v5.0h-5.0zM228.5 178.4h5.0v5.0h-5.0zM292.4 178.4h5.0v5.0h-5.0zM204.0 183.3h5.0v5.0h-5.0zM307.1 183.3h5.0v5.0h-5.0zM371.0 183.3h5.0v5.0h-5.0zM297.3 188.2h5.0v5.0h-5.0zM336.6 188.2h5.0v5.0h-5.0zM91.0 193.1h5.0v5.0h-5.0zM317.0 193.1h5.0v5.0h-5.0zM243.3 198.0h5.0v5.0h-5.0zM159.8 202.9h5.0v5.0h-5.0zM233.4 202.9h5.0v5.0h-5.0zM243.3 202.9h5.0v5.0h-5.0zM149.9 207.8h5.0v5.0h-5.0zM228.5 207.8h5.0v5.0h-5.0zM253.1 207.8h5.0v5.0h-5.0zM277.7 207.8h5.0v5.0h-5.0zM100.8 212.7h5.0v5.0h-5.0zM120.5 212.7h5.0v5.0h-5.0zM174.5 212.7h5.0v5.0h-5.0zM223.6 212.7h5.0v5.0h-5.0zM262.9 212.7h5.0v5.0h-5.0zM272.7 212.7h5.0v5.0h-5.0zM336.6 212.7h5.0v5.0h-5.0zM154.9 217.7h5.0v5.0h-5.0zM174.5 217.7h5.0v5.0h-5.0zM184.3 217.7h5.0v5.0h-5.0zM228.5 217.7h5.0v5.0h-5.0zM233.4 217.7h5.0v5.0h-5.0zM267.8 217.7h5.0v5.0h-5.0zM297.3 217.7h5.0v5.0h-5.0zM110.6 222.6h5.0v5.0h-5.0zM169.6 222.6h5.0v5.0h-5.0zM184.3 222.6h5.0v5.0h-5.0zM302.2 222.6h5.0v5.0h-5.0zM317.0 222.6h5.0v5.0h-5.0zM105.7 227.5h5.0v5.0h-5.0zM243.3 227.5h5.0v5.0h-5.0zM262.9 227.5h5.0v5.0h-5.0zM312.0 227.5h5.0v5.0h-5.0zM204.0 232.4h5.0v5.0h-5.0zM213.8 232.4h5.0v5.0h-5.0zM130.3 237.3h5.0v5.0h-5.0zM174.5 237.3h5.0v5.0h-5.0zM204.0 237.3h5.0v5.0h-5.0zM331.7 237.3h5.0v5.0h-5.0zM336.6 237.3h5.0v5.0h-5.0zM356.2 237.3h5.0v5.0h-5.0zM140.1 242.2h5.0v5.0h-5.0zM164.7 242.2h5.0v5.0h-5.0zM243.3 242.2h5.0v5.0h-5.0zM356.2 242.2h5.0v5.0h-5.0zM272.7 247.1h5.0v5.0h-5.0zM95.9 257.0h5.0v5.0h-5.0zM100.8 257.0h5.0v5.0h-5.0zM110.6 257.0h5.0v5.0h-5.0zM120.5 261.9h5.0v5.0h-5.0zM326.8 261.9h5.0v5.0h-5.0zM164.7 266.8h5.0v5.0h-5.0zM302.2 266.8h5.0v5.0h-5.0zM307.1 266.8h5.0v5.0h-5.0zM272.7 276.6h5.0v5.0h-5.0zM361.2 276.6h5.0v5.0h-5.0zM105.7 281.5h5.0v5.0h-5.0zM120.5 281.5h5.0v5.0h-5.0zM179.4 281.5h5.0v5.0h-5.0zM208.9 281.5h5.0v5.0h-5.0zM331.7 281.5h5.0v5.0h-5.0zM346.4 281.5h5.0v5.0h-5.0zM194.2 286.4h5.0v5.0h-5.0zM356.2 286.4h5.0v5.0h-5.0zM95.9 291.3h5.0v5.0h-5.0zM110.6 291.3h5.0v5.0h-5.0zM115.6 291.3h5.0v5.0h-5.0zM120.5 291.3h5.0v5.0h-5.0zM184.3 291.3h5.0v5.0h-5.0zM135.2 296.2h5.0v5.0h-5.0zM130.3 301.2h5.0v5.0h-5.0zM361.2 301.2h5.0v5.0h-5.0zM174.5 306.1h5.0v5.0h-5.0zM110.6 311.0h5.0v5.0h-5.0zM238.4 311.0h5.0v5.0h-5.0z"/>
<path fill="rgb(68,68,68)" d="M223.6 31.0h5.0v5.0h-5.0zM317.0 31.0h5.0v5.0h-5.0zM115.6 35.9h5.0v5.0h-5.0zM154.9 35.9h5.0v5.0h-5.0zM95.9 40.8h5.0v5.0h-5.0zM169.6 40.8h5.0v5.0h-5.0zM223.6 40.8h5.0v5.0h-5.0zM130.3 45.7h5.0v5.0h-5.0zM208.9 45.7h5.0v5.0h-5.0zM213.8 45.7h5.0v5.0h-5.0zM223.6 45.7h5.0v5.0h-5.0zM267.8 45.7h5.0v5.0h-5.0zM317.0 45.7h5.0v5.0h-5.0zM361.2 45.7h5.0v5.0h-5.0zM130.3 50.6h5.0v5.0h-5.0zM218.7 50.6h5.0v5.0h-5.0zM223.6 50.6h5.0v5.0h-5.0zM248.2 50.6h5.0v5.0h-5.0zM341.5 50.6h5.0v5.0h-5.0zM91.0 55.6h5.0v5.0h-5.0zM204.0 55.6h5.0v5.0h-5.0zM371.0 55.6h5.0v5.0h-5.0zM110.6 60.5h5.0v5.0h-5.0zM169.6 60.5h5.0v5.0h-5.0zM135.2 65.4h5.0v5.0h-5.0zM184.3 65.4h5.0v5.0h-5.0zM243.3 65.4h5.0v5.0h-5.0zM361.2 65.4h5.0v5.0h-5.0zM110.6 70.3h5.0v5.0h-5.0zM297.3 70.3h5.0v5.0h-5.0zM346.4 70.3h5.0v5.0h-5.0zM258.0 75.2h5.0v5.0h-5.0zM184.3 89.9h5.0v5.0h-5.0zM277.7 89.9h5.0v5.0h-5.0zM135.2 104.7h5.0v5.0h-5.0zM164.7 104.7h5.0v5.0h-5.0zM204.0 104.7h5.0v5.0h-5.0zM287.5 104.7h5.0v5.0h-5.0zM312.0 104.7h5.0v5.0h-5.0zM341.5 104.7h5.0v5.0h-5.0zM110.6 109.6h5.0v5.0h-5.0zM115.6 109.6h5.0v5.0h-5.0zM120.5 109.6h5.0v5.0h-5.0zM199.1 109.6h5.0v5.0h-5.0zM258.0 109.6h5.0v5.0h-5.0zM307.1 114.5h5.0v5.0h-5.0zM371.0 114.5h5.0v5.0h-5.0zM130.3 124.3h5.0v5.0h-5.0zM169.6 124.3h5.0v5.0h-5.0zM184.3 124.3h5.0v5.0h-5.0zM95.9 129.2h5.0v5.0h-5.0zM100.8 129.2h5.0v5.0h-5.0zM312.0 129.2h5.0v5.0h-5.0zM100.8 134.2h5.0v5.0h-5.0zM120.5 139.1h5.0v5.0h-5.0zM130.3 139.1h5.0v5.0h-5.0zM140.1 139.1h5.0v5.0h-5.0zM356.2 139.1h5.0v5.0h-5.0zM189.2 144.0h5.0v5.0h-5.0zM115.6 148.9h5.0v5.0h-5.0zM199.1 148.9h5.0v5.0h-5.0zM258.0 148.9h5.0v5.0h-5.0zM277.7 148.9h5.0v5.0h-5.0zM287.5 148.9h5.0v5.0h-5.0zM326.8 148.9h5.0v5.0h-5.0zM258.0 153.8h5.0v5.0h-5.0zM326.8 153.8h5.0v5.0h-5.0zM95.9 158.7h5.0v5.0h-5.0zM208.9 158.7h5.0v5.0h-5.0zM336.6 158.7h5.0v5.0h-5.0zM371.0 158.7h5.0v5.0h-5.0zM145.0 163.6h5.0v5.0h-5.0zM184.3 163.6h5.0v5.0h-5.0zM218.7 163.6h5.0v5.0h-5.0zM228.5 168.5h5.0v5.0h-5.0zM317.0 168.5h5.0v5.0h-5.0zM302.2 173.4h5.0v5.0h-5.0zM208.9 178.4h5.0v5.0h-5.0zM233.4 178.4h5.0v5.0h-5.0zM248.2 178.4h5.0v5.0h-5.0zM297.3 178.4h5.0v5.0h-5.0zM302.2 178.4h5.0v5.0h-5.0zM149.9 183.3h5.0v5.0h-5.0zM213.8 183.3h5.0v5.0h-5.0zM267.8 183.3h5.0v5.0h-5.0zM321.9 183.3h5.0v5.0h-5.0zM115.6 188.2h5.0v5.0h-5.0zM159.8 188.2h5.0v5.0h-5.0zM208.9 188.2h5.0v5.0h-5.0zM248.2 188.2h5.0v5.0h-5.0zM307.1 188.2h5.0v5.0h-5.0zM95.9 193.1h5.0v5.0h-5.0zM149.9 193.1h5.0v5.0h-5.0zM184.3 193.1h5.0v5.0h-5.0zM248.2 193.1h5.0v5.0h-5.0zM100.8 198.0h5.0v5.0h-5.0zM140.1 198.0h5.0v5.0h-5.0zM159.8 198.0h5.0v5.0h-5.0zM184.3 198.0h5.0v5.0h-5.0zM253.1 202.9h5.0v5.0h-5.0zM272.7 202.9h5.0v5.0h-5.0zM100.8 207.8h5.0v5.0h-5.0zM110.6 207.8h5.0v5.0h-5.0zM204.0 207.8h5.0v5.0h-5.0zM336.6 207.8h5.0v5.0h-5.0zM302.2 212.7h5.0v5.0h-5.0zM208.9 217.7h5.0v5.0h-5.0zM346.4 217.7h5.0v5.0h-5.0zM228.5 222.6h5.0v5.0h-5.0zM312.0 222.6h5.0v5.0h-5.0zM149.9 227.5h5.0v5.0h-5.0zM159.8 227.5h5.0v5.0h-5.0zM346.4 227.5h5.0v5.0h-5.0zM194.2 232.4h5.0v5.0h-5.0zM238.4 232.4h5.0v5.0h-5.0zM277.7 232.4h5.0v5.0h-5.0zM272.7 237.3h5.0v5.0h-5.0zM287.5 237.3h5.0v5.0h-5.0zM302.2 237.3h5.0v5.0h-5.0zM110.6 242.2h5.0v5.0h-5.0zM159.8 242.2h5.0v5.0h-5.0zM302.2 242.2h5.0v5.0h-5.0zM331.7 242.2h5.0v5.0h-5.0zM366.1 242.2h5.0v5.0h-5.0zM110.6 247.1h5.0v5.0h-5.0zM317.0 247.1h5.0v5.0h-5.0zM243.3 252.0h5.0v5.0h-5.0zM145.0 257.0h5.0v5.0h-5.0zM204.0 257.0h5.0v5.0h-5.0zM243.3 257.0h5.0v5.0h-5.0zM277.7 261.9h5.0v5.0h-5.0zM233.4 271.7h5.0v5.0h-5.0zM258.0 271.7h5.0v5.0h-5.0zM213.8 276.6h5.0v5.0h-5.0zM243.3 276.6h5.0v5.0h-5.0zM91.0 281.5h5.0v5.0h-5.0zM287.5 281.5h5.0v5.0h-5.0zM371.0 281.5h5.0v5.0h-5.0zM125.4 286.4h5.0v5.0h-5.0zM189.2 286.4h5.0v5.0h-5.0zM149.9 291.3h5.0v5.0h-5.0zM125.4 296.2h5.0v5.0h-5.0zM243.3 296.2h5.0v5.0h-5.0zM351.3 296.2h5.0v5.0h-5.0zM356.2 296.2h5.0v5.0h-5.0zM164.7 301.2h5.0v5.0h-5.0zM218.7 306.1h5.0v5.0h-5.0zM238.4 306.1h5.0v5.0h-5.0zM267.8 306.1h5.0v5.0h-5.0zM361.2 306.1h5.0v5.0h-5.0zM95.9 311.0h5.0v5.0h-5.0zM371.0 311.0h5.0v5.0h-5.0z"/>
<path fill="rgb(72,72,72)" d="M164.7 31.0h5.0v5.0h-5.0zM267.8 31.0h5.0v5.0h-5.0zM371.0 31.0h5.0v5.0h-5.0zM100.8 35.9h5.0v5.0h-5.0zM326.8 35.9h5.0v5.0h-5.0zM366.1 35.9h5.0v5.0h-5.0zM120.5 40.8h5.0v5.0h-5.0zM174.5 40.8h5.0v5.0h-5.0zM179.4 40.8h5.0v5.0h-5.0zM135.2 45.7h5.0v5.0h-5.0zM140.1 45.7h5.0v5.0h-5.0zM302.2 45.7h5.0v5.0h-5.0zM120.5 50.6h5.0v5.0h-5.0zM243.3 50.6h5.0v5.0h-5.0zM297.3 50.6h5.0v5.0h-5.0zM135.2 55.6h5.0v5.0h-5.0zM213.8 55.6h5.0v5.0h-5.0zM218.7 55.6h5.0v5.0h-5.0zM238.4 55.6h5.0v5.0h-5.0zM297.3 55.6h5.0v5.0h-5.0zM331.7 55.6h5.0v5.0h-5.0zM135.2 60.5h5.0v5.0h-5.0zM238.4 60.5h5.0v5.0h-5.0zM258.0 60.5h5.0v5.0h-5.0zM169.6 65.4h5.0v5.0h-5.0zM321.9 65.4h5.0v5.0h-5.0zM208.9 70.3h5.0v5.0h-5.0zM248.2 70.3h5.0v5.0h-5.0zM302.2 70.3h5.0v5.0h-5.0zM120.5 75.2h5.0v5.0h-5.0zM253.1 75.2h5.0v5.0h-5.0zM115.6 80.1h5.0v5.0h-5.0zM149.9 80.1h5.0v5.0h-5.0zM213.8 80.1h5.0v5.0h-5.0zM243.3 80.1h5.0v5.0h-5.0zM149.9 85.0h5.0v5.0h-5.0zM184.3 85.0h5.0v5.0h-5.0zM204.0 89.9h5.0v5.0h-5.0zM228.5 89.9h5.0v5.0h-5.0zM351.3 89.9h5.0v5.0h-5.0zM346.4 94.9h5.0v5.0h-5.0zM356.2 94.9h5.0v5.0h-5.0zM91.0 99.8h5.0v5.0h-5.0zM164.7 99.8h5.0v5.0h-5.0zM174.5 99.8h5.0v5.0h-5.0zM262.9 99.8h5.0v5.0h-5.0zM371.0 99.8h5.0v5.0h-5.0zM262.9 104.7h5.0v5.0h-5.0zM351.3 104.7h5.0v5.0h-5.0zM95.9 109.6h5.0v5.0h-5.0zM238.4 109.6h5.0v5.0h-5.0zM174.5 114.5h5.0v5.0h-5.0zM243.3 114.5h5.0v5.0h-5.0zM287.5 114.5h5.0v5.0h-5.0zM302.2 114.5h5.0v5.0h-5.0zM184.3 119.4h5.0v5.0h-5.0zM228.5 119.4h5.0v5.0h-5.0zM258.0 119.4h5.0v5.0h-5.0zM317.0 119.4h5.0v5.0h-5.0zM145.0 124.3h5.0v5.0h-5.0zM356.2 124.3h5.0v5.0h-5.0zM366.1 124.3h5.0v5.0h-5.0zM371.0 124.3h5.0v5.0h-5.0zM91.0 129.2h5.0v5.0h-5.0zM105.7 129.2h5.0v5.0h-5.0zM130.3 129.2h5.0v5.0h-5.0zM317.0 129.2h5.0v5.0h-5.0zM351.3 129.2h5.0v5.0h-5.0zM297.3 134.2h5.0v5.0h-5.0zM262.9 139.1h5.0v5.0h-5.0zM317.0 139.1h5.0v5.0h-5.0zM321.9 139.1h5.0v5.0h-5.0zM361.2 139.1h5.0v5.0h-5.0zM267.8 144.0h5.0v5.0h-5.0zM140.1 148.9h5.0v5.0h-5.0zM262.9 148.9h5.0v5.0h-5.0zM282.6 148.9h5.0v5.0h-5.0zM267.8 153.8h5.0v5.0h-5.0zM213.8 158.7h5.0v5.0h-5.0zM312.0 158.7h5.0v5.0h-5.0zM361.2 158.7h5.0v5.0h-5.0zM125.4 163.6h5.0v5.0h-5.0zM140.1 163.6h5.0v5.0h-5.0zM179.4 163.6h5.0v5.0h-5.0zM272.7 163.6h5.0v5.0h-5.0zM366.1 163.6h5.0v5.0h-5.0zM204.0 168.5h5.0v5.0h-5.0zM169.6 173.4h5.0v5.0h-5.0zM287.5 178.4h5.0v5.0h-5.0zM100.8 188.2h5.0v5.0h-5.0zM135.2 188.2h5.0v5.0h-5.0zM317.0 188.2h5.0v5.0h-5.0zM366.1 188.2h5.0v5.0h-5.0zM110.6 193.1h5.0v5.0h-5.0zM145.0 193.1h5.0v5.0h-5.0zM179.4 198.0h5.0v5.0h-5.0zM208.9 198.0h5.0v5.0h-5.0zM218.7 198.0h5.0v5.0h-5.0zM184.3 207.8h5.0v5.0h-5.0zM189.2 207.8h5.0v5.0h-5.0zM145.0 212.7h5.0v5.0h-5.0zM208.9 212.7h5.0v5.0h-5.0zM351.3 217.7h5.0v5.0h-5.0zM321.9 222.6h5.0v5.0h-5.0zM253.1 232.4h5.0v5.0h-5.0zM267.8 232.4h5.0v5.0h-5.0zM307.1 232.4h5.0v5.0h-5.0zM213.8 237.3h5.0v5.0h-5.0zM366.1 237.3h5.0v5.0h-5.0zM199.1 247.1h5.0v5.0h-5.0zM204.0 247.1h5.0v5.0h-5.0zM371.0 247.1h5.0v5.0h-5.0zM105.7 257.0h5.0v5.0h-5.0zM302.2 257.0h5.0v5.0h-5.0zM346.4 257.0h5.0v5.0h-5.0zM100.8 261.9h5.0v5.0h-5.0zM105.7 261.9h5.0v5.0h-5.0zM292.4 261.9h5.0v5.0h-5.0zM331.7 271.7h5.0v5.0h-5.0zM361.2 271.7h5.0v5.0h-5.0zM218.7 276.6h5.0v5.0h-5.0zM223.6 276.6h5.0v5.0h-5.0zM248.2 276.6h5.0v5.0h-5.0zM331.7 276.6h5.0v5.0h-5.0zM149.9 281.5h5.0v5.0h-5.0zM262.9 281.5h5.0v5.0h-5.0zM361.2 281.5h5.0v5.0h-5.0zM149.9 286.4h5.0v5.0h-5.0zM179.4 286.4h5.0v5.0h-5.0zM199.1 286.4h5.0v5.0h-5.0zM125.4 291.3h5.0v5.0h-5.0zM346.4 291.3h5.0v5.0h-5.0zM179.4 296.2h5.0v5.0h-5.0zM312.0 296.2h5.0v5.0h-5.0zM317.0 296.2h5.0v5.0h-5.0zM317.0 301.2h5.0v5.0h-5.0zM321.9 301.2h5.0v5.0h-5.0zM105.7 306.1h5.0v5.0h-5.0zM213.8 306.1h5.0v5.0h-5.0zM125.4 311.0h5.0v5.0h-5.0zM199.1 311.0h5.0v5.0h-5.0zM213.8 311.0h5.0v5.0h-5.0z"/>
<path fill="rgb(76,76,76)" d="M184.3 31.0h5.0v5.0h-5.0zM321.9 31.0h5.0v5.0h-5.0zM120.5 35.9h5.0v5.0h-5.0zM135.2 35.9h5.0v5.0h-5.0zM351.3 35.9h5.0v5.0h-5.0zM125.4 40.8h5.0v5.0h-5.0zM95.9 45.7h5.0v5.0h-5.0zM218.7 45.7h5.0v5.0h-5.0zM233.4 45.7h5.0v5.0h-5.0zM243.3 45.7h5.0v5.0h-5.0zM341.5 45.7h5.0v5.0h-5.0zM159.8 50.6h5.0v5.0h-5.0zM317.0 50.6h5.0v5.0h-5.0zM115.6 55.6h5.0v5.0h-5.0zM326.8 60.5h5.0v5.0h-5.0zM91.0 65.4h5.0v5.0h-5.0zM154.9 65.4h5.0v5.0h-5.0zM267.8 65.4h5.0v5.0h-5.0zM189.2 70.3h5.0v5.0h-5.0zM238.4 70.3h5.0v5.0h-5.0zM366.1 70.3h5.0v5.0h-5.0zM371.0 70.3h5.0v5.0h-5.0zM238.4 75.2h5.0v5.0h-5.0zM302.2 75.2h5.0v5.0h-5.0zM105.7 89.9h5.0v5.0h-5.0zM204.0 94.9h5.0v5.0h-5.0zM228.5 94.9h5.0v5.0h-5.0zM213.8 99.8h5.0v5.0h-5.0zM287.5 99.8h5.0v5.0h-5.0zM341.5 99.8h5.0v5.0h-5.0zM169.6 104.7h5.0v5.0h-5.0zM100.8 109.6h5.0v5.0h-5.0zM115.6 114.5h5.0v5.0h-5.0zM194.2 114.5h5.0v5.0h-5.0zM248.2 114.5h5.0v5.0h-5.0zM267.8 114.5h5.0v5.0h-5.0zM297.3 114.5h5.0v5.0h-5.0zM115.6 119.4h5.0v5.0h-5.0zM238.4 119.4h5.0v5.0h-5.0zM366.1 119.4h5.0v5.0h-5.0zM115.6 124.3h5.0v5.0h-5.0zM238.4 124.3h5.0v5.0h-5.0zM312.0 124.3h5.0v5.0h-5.0zM145.0 129.2h5.0v5.0h-5.0zM194.2 129.2h5.0v5.0h-5.0zM204.0 129.2h5.0v5.0h-5.0zM371.0 129.2h5.0v5.0h-5.0zM115.6 144.0h5.0v5.0h-5.0zM145.0 144.0h5.0v5.0h-5.0zM184.3 144.0h5.0v5.0h-5.0zM307.1 144.0h5.0v5.0h-5.0zM110.6 148.9h5.0v5.0h-5.0zM145.0 148.9h5.0v5.0h-5.0zM366.1 148.9h5.0v5.0h-5.0zM105.7 153.8h5.0v5.0h-5.0zM262.9 153.8h5.0v5.0h-5.0zM110.6 158.7h5.0v5.0h-5.0zM321.9 158.7h5.0v5.0h-5.0zM115.6 163.6h5.0v5.0h-5.0zM120.5 163.6h5.0v5.0h-5.0zM169.6 163.6h5.0v5.0h-5.0zM321.9 163.6h5.0v5.0h-5.0zM336.6 163.6h5.0v5.0h-5.0zM218.7 168.5h5.0v5.0h-5.0zM120.5 178.4h5.0v5.0h-5.0zM149.9 178.4h5.0v5.0h-5.0zM115.6 183.3h5.0v5.0h-5.0zM292.4 183.3h5.0v5.0h-5.0zM326.8 188.2h5.0v5.0h-5.0zM154.9 193.1h5.0v5.0h-5.0zM199.1 193.1h5.0v5.0h-5.0zM336.6 193.1h5.0v5.0h-5.0zM346.4 193.1h5.0v5.0h-5.0zM351.3 193.1h5.0v5.0h-5.0zM95.9 198.0h5.0v5.0h-5.0zM174.5 198.0h5.0v5.0h-5.0zM351.3 198.0h5.0v5.0h-5.0zM145.0 202.9h5.0v5.0h-5.0zM199.1 207.8h5.0v5.0h-5.0zM223.6 207.8h5.0v5.0h-5.0zM154.9 222.6h5.0v5.0h-5.0zM125.4 227.5h5.0v5.0h-5.0zM233.4 227.5h5.0v5.0h-5.0zM140.1 237.3h5.0v5.0h-5.0zM253.1 237.3h5.0v5.0h-5.0zM307.1 237.3h5.0v5.0h-5.0zM248.2 242.2h5.0v5.0h-5.0zM317.0 242.2h5.0v5.0h-5.0zM351.3 242.2h5.0v5.0h-5.0zM208.9 247.1h5.0v5.0h-5.0zM243.3 247.1h5.0v5.0h-5.0zM110.6 252.0h5.0v5.0h-5.0zM297.3 252.0h5.0v5.0h-5.0zM331.7 252.0h5.0v5.0h-5.0zM159.8 257.0h5.0v5.0h-5.0zM258.0 261.9h5.0v5.0h-5.0zM267.8 261.9h5.0v5.0h-5.0zM297.3 261.9h5.0v5.0h-5.0zM317.0 261.9h5.0v5.0h-5.0zM91.0 266.8h5.0v5.0h-5.0zM105.7 266.8h5.0v5.0h-5.0zM282.6 266.8h5.0v5.0h-5.0zM110.6 276.6h5.0v5.0h-5.0zM366.1 276.6h5.0v5.0h-5.0zM110.6 281.5h5.0v5.0h-5.0zM321.9 281.5h5.0v5.0h-5.0zM326.8 281.5h5.0v5.0h-5.0zM336.6 281.5h5.0v5.0h-5.0zM95.9 286.4h5.0v5.0h-5.0zM199.1 291.3h5.0v5.0h-5.0zM341.5 291.3h5.0v5.0h-5.0zM233.4 296.2h5.0v5.0h-5.0zM321.9 296.2h5.0v5.0h-5.0zM208.9 301.2h5.0v5.0h-5.0zM189.2 306.1h5.0v5.0h-5.0zM336.6 311.0h5.0v5.0h-5.0z"/>
<path fill="rgb(80,80,80)" d="M199.1 31.0h5.0v5.0h-5.0zM223.6 35.9h5.0v5.0h-5.0zM297.3 35.9h5.0v5.0h-5.0zM336.6 35.9h5.0v5.0h-5.0zM228.5 40.8h5.0v5.0h-5.0zM297.3 40.8h5.0v5.0h-5.0zM145.0 45.7h5.0v5.0h-5.0zM174.5 45.7h5.0v5.0h-5.0zM356.2 55.6h5.0v5.0h-5.0zM262.9 60.5h5.0v5.0h-5.0zM292.4 60.5h5.0v5.0h-5.0zM312.0 60.5h5.0v5.0h-5.0zM145.0 65.4h5.0v5.0h-5.0zM149.9 65.4h5.0v5.0h-5.0zM164.7 70.3h5.0v5.0h-5.0zM243.3 70.3h5.0v5.0h-5.0zM115.6 75.2h5.0v5.0h-5.0zM174.5 80.1h5.0v5.0h-5.0zM125.4 104.7h5.0v5.0h-5.0zM267.8 109.6h5.0v5.0h-5.0zM287.5 109.6h5.0v5.0h-5.0zM331.7 109.6h5.0v5.0h-5.0zM100.8 114.5h5.0v5.0h-5.0zM159.8 114.5h5.0v5.0h-5.0zM110.6 119.4h5.0v5.0h-5.0zM145.0 119.4h5.0v5.0h-5.0zM292.4 119.4h5.0v5.0h-5.0zM149.9 129.2h5.0v5.0h-5.0zM346.4 129.2h5.0v5.0h-5.0zM91.0 139.1h5.0v5.0h-5.0zM287.5 144.0h5.0v5.0h-5.0zM169.6 148.9h5.0v5.0h-5.0zM174.5 148.9h5.0v5.0h-5.0zM115.6 153.8h5.0v5.0h-5.0zM125.4 153.8h5.0v5.0h-5.0zM125.4 158.7h5.0v5.0h-5.0zM154.9 168.5h5.0v5.0h-5.0zM199.1 168.5h5.0v5.0h-5.0zM326.8 168.5h5.0v5.0h-5.0zM277.7 173.4h5.0v5.0h-5.0zM110.6 183.3h5.0v5.0h-5.0zM208.9 183.3h5.0v5.0h-5.0zM248.2 183.3h5.0v5.0h-5.0zM336.6 183.3h5.0v5.0h-5.0zM110.6 188.2h5.0v5.0h-5.0zM228.5 188.2h5.0v5.0h-5.0zM312.0 188.2h5.0v5.0h-5.0zM321.9 188.2h5.0v5.0h-5.0zM331.7 193.1h5.0v5.0h-5.0zM154.9 198.0h5.0v5.0h-5.0zM292.4 198.0h5.0v5.0h-5.0zM100.8 202.9h5.0v5.0h-5.0zM105.7 202.9h5.0v5.0h-5.0zM95.9 207.8h5.0v5.0h-5.0zM145.0 207.8h5.0v5.0h-5.0zM174.5 207.8h5.0v5.0h-5.0zM169.6 217.7h5.0v5.0h-5.0zM194.2 217.7h5.0v5.0h-5.0zM262.9 217.7h5.0v5.0h-5.0zM346.4 222.6h5.0v5.0h-5.0zM287.5 232.4h5.0v5.0h-5.0zM213.8 247.1h5.0v5.0h-5.0zM199.1 252.0h5.0v5.0h-5.0zM208.9 252.0h5.0v5.0h-5.0zM302.2 252.0h5.0v5.0h-5.0zM115.6 257.0h5.0v5.0h-5.0zM179.4 261.9h5.0v5.0h-5.0zM159.8 266.8h5.0v5.0h-5.0zM179.4 266.8h5.0v5.0h-5.0zM184.3 266.8h5.0v5.0h-5.0zM351.3 276.6h5.0v5.0h-5.0zM145.0 286.4h5.0v5.0h-5.0zM312.0 286.4h5.0v5.0h-5.0zM184.3 301.2h5.0v5.0h-5.0zM189.2 301.2h5.0v5.0h-5.0zM204.0 301.2h5.0v5.0h-5.0zM105.7 311.0h5.0v5.0h-5.0z"/>
<path fill="rgb(84,84,84)" d="M336.6 31.0h5.0v5.0h-5.0zM105.7 35.9h5.0v5.0h-5.0zM125.4 35.9h5.0v5.0h-5.0zM189.2 35.9h5.0v5.0h-5.0zM302.2 35.9h5.0v5.0h-5.0zM184.3 40.8h5.0v5.0h-5.0zM248.2 45.7h5.0v5.0h-5.0zM292.4 55.6h5.0v5.0h-5.0zM307.1 55.6h5.0v5.0h-5.0zM346.4 55.6h5.0v5.0h-5.0zM91.0 60.5h5.0v5.0h-5.0zM115.6 60.5h5.0v5.0h-5.0zM312.0 65.4h5.0v5.0h-5.0zM302.2 85.0h5.0v5.0h-5.0zM110.6 89.9h5.0v5.0h-5.0zM292.4 89.9h5.0v5.0h-5.0zM115.6 94.9h5.0v5.0h-5.0zM272.7 99.8h5.0v5.0h-5.0zM95.9 104.7h5.0v5.0h-5.0zM179.4 109.6h5.0v5.0h-5.0zM336.6 109.6h5.0v5.0h-5.0zM95.9 114.5h5.0v5.0h-5.0zM262.9 114.5h5.0v5.0h-5.0zM321.9 124.3h5.0v5.0h-5.0zM302.2 129.2h5.0v5.0h-5.0zM366.1 129.2h5.0v5.0h-5.0zM130.3 134.2h5.0v5.0h-5.0zM140.1 144.0h5.0v5.0h-5.0zM331.7 144.0h5.0v5.0h-5.0zM130.3 148.9h5.0v5.0h-5.0zM110.6 153.8h5.0v5.0h-5.0zM297.3 153.8h5.0v5.0h-5.0zM164.7 158.7h5.0v5.0h-5.0zM174.5 158.7h5.0v5.0h-5.0zM174.5 163.6h5.0v5.0h-5.0zM326.8 163.6h5.0v5.0h-5.0zM95.9 168.5h5.0v5.0h-5.0zM292.4 173.4h5.0v5.0h-5.0zM297.3 183.3h5.0v5.0h-5.0zM100.8 193.1h5.0v5.0h-5.0zM105.7 193.1h5.0v5.0h-5.0zM135.2 193.1h5.0v5.0h-5.0zM140.1 193.1h5.0v5.0h-5.0zM277.7 198.0h5.0v5.0h-5.0zM326.8 198.0h5.0v5.0h-5.0zM95.9 202.9h5.0v5.0h-5.0zM140.1 202.9h5.0v5.0h-5.0zM277.7 202.9h5.0v5.0h-5.0zM361.2 202.9h5.0v5.0h-5.0zM208.9 207.8h5.0v5.0h-5.0zM267.8 212.7h5.0v5.0h-5.0zM287.5 222.6h5.0v5.0h-5.0zM159.8 232.4h5.0v5.0h-5.0zM115.6 237.3h5.0v5.0h-5.0zM253.1 242.2h5.0v5.0h-5.0zM105.7 252.0h5.0v5.0h-5.0zM204.0 252.0h5.0v5.0h-5.0zM272.7 252.0h5.0v5.0h-5.0zM277.7 266.8h5.0v5.0h-5.0zM321.9 266.8h5.0v5.0h-5.0zM159.8 276.6h5.0v5.0h-5.0zM326.8 276.6h5.0v5.0h-5.0zM346.4 276.6h5.0v5.0h-5.0zM243.3 286.4h5.0v5.0h-5.0zM248.2 291.3h5.0v5.0h-5.0zM336.6 301.2h5.0v5.0h-5.0zM184.3 306.1h5.0v5.0h-5.0zM243.3 306.1h5.0v5.0h-5.0zM184.3 311.0h5.0v5.0h-5.0z"/>
<path fill="rgb(88,88,88)" d="M130.3 35.9h5.0v5.0h-5.0zM331.7 35.9h5.0v5.0h-5.0zM302.2 40.8h5.0v5.0h-5.0zM312.0 45.7h5.0v5.0h-5.0zM351.3 55.6h5.0v5.0h-5.0zM159.8 65.4h5.0v5.0h-5.0zM189.2 65.4h5.0v5.0h-5.0zM248.2 65.4h5.0v5.0h-5.0zM317.0 65.4h5.0v5.0h-5.0zM159.8 70.3h5.0v5.0h-5.0zM174.5 75.2h5.0v5.0h-5.0zM267.8 75.2h5.0v5.0h-5.0zM366.1 75.2h5.0v5.0h-5.0zM184.3 80.1h5.0v5.0h-5.0zM213.8 85.0h5.0v5.0h-5.0zM341.5 85.0h5.0v5.0h-5.0zM282.6 94.9h5.0v5.0h-5.0zM135.2 99.8h5.0v5.0h-5.0zM233.4 109.6h5.0v5.0h-5.0zM105.7 114.5h5.0v5.0h-5.0zM258.0 114.5h5.0v5.0h-5.0zM95.9 119.4h5.0v5.0h-5.0zM371.0 119.4h5.0v5.0h-5.0zM287.5 129.2h5.0v5.0h-5.0zM336.6 144.0h5.0v5.0h-5.0zM184.3 148.9h5.0v5.0h-5.0zM95.9 163.6h5.0v5.0h-5.0zM204.0 163.6h5.0v5.0h-5.0zM297.3 173.4h5.0v5.0h-5.0zM110.6 178.4h5.0v5.0h-5.0zM149.9 202.9h5.0v5.0h-5.0zM154.9 202.9h5.0v5.0h-5.0zM174.5 202.9h5.0v5.0h-5.0zM326.8 202.9h5.0v5.0h-5.0zM238.4 212.7h5.0v5.0h-5.0zM223.6 217.7h5.0v5.0h-5.0zM154.9 227.5h5.0v5.0h-5.0zM282.6 227.5h5.0v5.0h-5.0zM228.5 232.4h5.0v5.0h-5.0zM243.3 232.4h5.0v5.0h-5.0zM351.3 232.4h5.0v5.0h-5.0zM110.6 237.3h5.0v5.0h-5.0zM135.2 237.3h5.0v5.0h-5.0zM223.6 237.3h5.0v5.0h-5.0zM228.5 237.3h5.0v5.0h-5.0zM336.6 242.2h5.0v5.0h-5.0zM312.0 247.1h5.0v5.0h-5.0zM336.6 247.1h5.0v5.0h-5.0zM159.8 252.0h5.0v5.0h-5.0zM277.7 257.0h5.0v5.0h-5.0zM287.5 257.0h5.0v5.0h-5.0zM184.3 261.9h5.0v5.0h-5.0zM287.5 266.8h5.0v5.0h-5.0zM292.4 266.8h5.0v5.0h-5.0zM297.3 266.8h5.0v5.0h-5.0zM317.0 276.6h5.0v5.0h-5.0zM267.8 281.5h5.0v5.0h-5.0zM194.2 291.3h5.0v5.0h-5.0zM312.0 291.3h5.0v5.0h-5.0zM233.4 301.2h5.0v5.0h-5.0zM179.4 311.0h5.0v5.0h-5.0zM248.2 311.0h5.0v5.0h-5.0z"/>
<path fill="rgb(92,92,92)" d="M130.3 40.8h5.0v5.0h-5.0zM233.4 50.6h5.0v5.0h-5.0zM346.4 50.6h5.0v5.0h-5.0zM169.6 55.6h5.0v5.0h-5.0zM326.8 55.6h5.0v5.0h-5.0zM208.9 65.4h5.0v5.0h-5.0zM366.1 65.4h5.0v5.0h-5.0zM169.6 70.3h5.0v5.0h-5.0zM189.2 80.1h5.0v5.0h-5.0zM297.3 80.1h5.0v5.0h-5.0zM282.6 89.9h5.0v5.0h-5.0zM110.6 94.9h5.0v5.0h-5.0zM302.2 94.9h5.0v5.0h-5.0zM282.6 99.8h5.0v5.0h-5.0zM120.5 104.7h5.0v5.0h-5.0zM248.2 104.7h5.0v5.0h-5.0zM169.6 109.6h5.0v5.0h-5.0zM174.5 109.6h5.0v5.0h-5.0zM110.6 114.5h5.0v5.0h-5.0zM292.4 114.5h5.0v5.0h-5.0zM297.3 129.2h5.0v5.0h-5.0zM100.8 153.8h5.0v5.0h-5.0zM169.6 153.8h5.0v5.0h-5.0zM292.4 153.8h5.0v5.0h-5.0zM100.8 158.7h5.0v5.0h-5.0zM145.0 158.7h5.0v5.0h-5.0zM169.6 158.7h5.0v5.0h-5.0zM159.8 163.6h5.0v5.0h-5.0zM272.7 168.5h5.0v5.0h-5.0zM297.3 198.0h5.0v5.0h-5.0zM179.4 207.8h5.0v5.0h-5.0zM272.7 232.4h5.0v5.0h-5.0zM331.7 247.1h5.0v5.0h-5.0zM267.8 257.0h5.0v5.0h-5.0zM272.7 257.0h5.0v5.0h-5.0zM317.0 271.7h5.0v5.0h-5.0zM366.1 281.5h5.0v5.0h-5.0zM120.5 286.4h5.0v5.0h-5.0zM356.2 291.3h5.0v5.0h-5.0zM371.0 301.2h5.0v5.0h-5.0z"/>
<path fill="rgb(96,96,96)" d="M135.2 50.6h5.0v5.0h-5.0zM267.8 60.5h5.0v5.0h-5.0zM164.7 65.4h5.0v5.0h-5.0zM154.9 70.3h5.0v5.0h-5.0zM243.3 75.2h5.0v5.0h-5.0zM258.0 80.1h5.0v5.0h-5.0zM267.8 99.8h5.0v5.0h-5.0zM179.4 104.7h5.0v5.0h-5.0zM267.8 104.7h5.0v5.0h-5.0zM243.3 119.4h5.0v5.0h-5.0zM91.0 134.2h5.0v5.0h-5.0zM135.2 148.9h5.0v5.0h-5.0zM366.1 158.7h5.0v5.0h-5.0zM213.8 178.4h5.0v5.0h-5.0zM336.6 178.4h5.0v5.0h-5.0zM105.7 188.2h5.0v5.0h-5.0zM233.4 188.2h5.0v5.0h-5.0zM321.9 193.1h5.0v5.0h-5.0zM272.7 198.0h5.0v5.0h-5.0zM140.1 212.7h5.0v5.0h-5.0zM149.9 222.6h5.0v5.0h-5.0zM154.9 232.4h5.0v5.0h-5.0zM194.2 252.0h5.0v5.0h-5.0zM297.3 257.0h5.0v5.0h-5.0zM371.0 261.9h5.0v5.0h-5.0zM312.0 271.7h5.0v5.0h-5.0zM267.8 276.6h5.0v5.0h-5.0zM169.6 281.5h5.0v5.0h-5.0zM174.5 281.5h5.0v5.0h-5.0zM189.2 291.3h5.0v5.0h-5.0zM336.6 291.3h5.0v5.0h-5.0zM130.3 296.2h5.0v5.0h-5.0zM184.3 296.2h5.0v5.0h-5.0zM371.0 306.1h5.0v5.0h-5.0zM174.5 311.0h5.0v5.0h-5.0z"/>
<path fill="rgb(100,100,100)" d="M91.0 40.8h5.0v5.0h-5.0zM351.3 45.7h5.0v5.0h-5.0zM184.3 70.3h5.0v5.0h-5.0zM159.8 75.2h5.0v5.0h-5.0zM164.7 75.2h5.0v5.0h-5.0zM154.9 80.1h5.0v5.0h-5.0zM258.0 85.0h5.0v5.0h-5.0zM297.3 89.9h5.0v5.0h-5.0zM169.6 99.8h5.0v5.0h-5.0zM341.5 144.0h5.0v5.0h-5.0zM174.5 153.8h5.0v5.0h-5.0zM115.6 158.7h5.0v5.0h-5.0zM297.3 158.7h5.0v5.0h-5.0zM174.5 173.4h5.0v5.0h-5.0zM228.5 183.3h5.0v5.0h-5.0zM233.4 183.3h5.0v5.0h-5.0zM317.0 183.3h5.0v5.0h-5.0zM326.8 193.1h5.0v5.0h-5.0zM321.9 198.0h5.0v5.0h-5.0zM248.2 227.5h5.0v5.0h-5.0zM282.6 232.4h5.0v5.0h-5.0zM179.4 242.2h5.0v5.0h-5.0zM262.9 257.0h5.0v5.0h-5.0zM287.5 261.9h5.0v5.0h-5.0zM321.9 261.9h5.0v5.0h-5.0zM164.7 281.5h5.0v5.0h-5.0zM91.0 286.4h5.0v5.0h-5.0zM238.4 291.3h5.0v5.0h-5.0zM351.3 291.3h5.0v5.0h-5.0zM336.6 296.2h5.0v5.0h-5.0zM110.6 306.1h5.0v5.0h-5.0z"/>
<path fill="rgb(104,104,104)" d="M189.2 31.0h5.0v5.0h-5.0zM194.2 31.0h5.0v5.0h-5.0zM228.5 45.7h5.0v5.0h-5.0zM321.9 55.6h5.0v5.0h-5.0zM272.7 70.3h5.0v5.0h-5.0zM95.9 124.3h5.0v5.0h-5.0zM100.8 124.3h5.0v5.0h-5.0zM292.4 129.2h5.0v5.0h-5.0zM140.1 153.8h5.0v5.0h-5.0zM130.3 158.7h5.0v5.0h-5.0zM135.2 158.7h5.0v5.0h-5.0zM361.2 198.0h5.0v5.0h-5.0zM307.1 217.7h5.0v5.0h-5.0zM267.8 227.5h5.0v5.0h-5.0zM272.7 227.5h5.0v5.0h-5.0zM351.3 237.3h5.0v5.0h-5.0zM307.1 242.2h5.0v5.0h-5.0zM194.2 247.1h5.0v5.0h-5.0zM292.4 252.0h5.0v5.0h-5.0zM336.6 306.1h5.0v5.0h-5.0z"/>
<path fill="rgb(108,108,108)" d="M120.5 45.7h5.0v5.0h-5.0zM267.8 70.3h5.0v5.0h-5.0zM120.5 80.1h5.0v5.0h-5.0zM371.0 80.1h5.0v5.0h-5.0zM100.8 104.7h5.0v5.0h-5.0zM105.7 119.4h5.0v5.0h-5.0zM199.1 129.2h5.0v5.0h-5.0zM336.6 148.9h5.0v5.0h-5.0zM105.7 158.7h5.0v5.0h-5.0zM140.1 158.7h5.0v5.0h-5.0zM321.9 168.5h5.0v5.0h-5.0zM272.7 173.4h5.0v5.0h-5.0zM115.6 178.4h5.0v5.0h-5.0zM282.6 261.9h5.0v5.0h-5.0zM130.3 266.8h5.0v5.0h-5.0zM366.1 301.2h5.0v5.0h-5.0z"/>
<path fill="rgb(112,112,112)" d="M312.0 50.6h5.0v5.0h-5.0zM317.0 55.6h5.0v5.0h-5.0zM164.7 80.1h5.0v5.0h-5.0zM292.4 124.3h5.0v5.0h-5.0zM135.2 144.0h5.0v5.0h-5.0zM326.8 158.7h5.0v5.0h-5.0zM356.2 198.0h5.0v5.0h-5.0zM120.5 217.7h5.0v5.0h-5.0zM292.4 257.0h5.0v5.0h-5.0zM91.0 261.9h5.0v5.0h-5.0zM95.9 261.9h5.0v5.0h-5.0zM371.0 266.8h5.0v5.0h-5.0zM159.8 271.7h5.0v5.0h-5.0zM164.7 271.7h5.0v5.0h-5.0zM321.9 271.7h5.0v5.0h-5.0zM174.5 276.6h5.0v5.0h-5.0z"/>
<path fill="rgb(116,116,116)" d="M312.0 55.6h5.0v5.0h-5.0zM371.0 75.2h5.0v5.0h-5.0zM371.0 168.5h5.0v5.0h-5.0zM213.8 198.0h5.0v5.0h-5.0zM302.2 217.7h5.0v5.0h-5.0zM262.9 261.9h5.0v5.0h-5.0z"/>
<path fill="rgb(120,120,120)" d="M297.3 85.0h5.0v5.0h-5.0zM100.8 119.4h5.0v5.0h-5.0zM331.7 148.9h5.0v5.0h-5.0zM248.2 232.4h5.0v5.0h-5.0zM307.1 247.1h5.0v5.0h-5.0zM307.1 252.0h5.0v5.0h-5.0zM312.0 266.8h5.0v5.0h-5.0zM317.0 266.8h5.0v5.0h-5.0z"/>
<path fill="rgb(124,124,124)" d="M228.5 50.6h5.0v5.0h-5.0zM154.9 75.2h5.0v5.0h-5.0zM302.2 89.9h5.0v5.0h-5.0zM105.7 134.2h5.0v5.0h-5.0zM135.2 139.1h5.0v5.0h-5.0zM371.0 188.2h5.0v5.0h-5.0zM282.6 222.6h5.0v5.0h-5.0zM366.1 306.1h5.0v5.0h-5.0zM243.3 311.0h5.0v5.0h-5.0z"/>
<path fill="rgb(128,128,128)" d="M331.7 31.0h5.0v5.0h-5.0zM194.2 35.9h5.0v5.0h-5.0zM282.6 257.0h5.0v5.0h-5.0z"/>
<path fill="rgb(132,132,132)" d="M159.8 80.1h5.0v5.0h-5.0zM317.0 124.3h5.0v5.0h-5.0zM371.0 163.6h5.0v5.0h-5.0z"/>
<path fill="rgb(136,136,136)" d="M351.3 50.6h5.0v5.0h-5.0zM317.0 60.5h5.0v5.0h-5.0zM130.3 153.8h5.0v5.0h-5.0zM135.2 153.8h5.0v5.0h-5.0zM169.6 276.6h5.0v5.0h-5.0zM243.3 291.3h5.0v5.0h-5.0z"/>
<path fill="rgb(144,144,144)" d="M326.8 31.0h5.0v5.0h-5.0zM169.6 80.1h5.0v5.0h-5.0zM154.9 158.7h5.0v5.0h-5.0zM140.1 207.8h5.0v5.0h-5.0z"/>
<path fill="rgb(148,148,148)" d="M149.9 163.6h5.0v5.0h-5.0z"/>
<path fill="rgb(152,152,152)" d="M321.9 60.5h5.0v5.0h-5.0zM149.9 158.7h5.0v5.0h-5.0z"/>
<path fill="rgb(156,156,156)" d="M164.7 276.6h5.0v5.0h-5.0z"/>
<path fill="rgb(164,164,164)" d="M321.9 276.6h5.0v5.0h-5.0z"/>
<path fill="rgb(168,168,168)" d="M169.6 75.2h5.0v5.0h-5.0z"/>
<path fill="rgb(172,172,172)" d="M312.0 183.3h5.0v5.0h-5.0z"/>
<path fill="rgb(176,176,176)" d="M154.9 163.6h5.0v5.0h-5.0z"/>
<rect x="217" y="167" width="4" height="5" fill="rgb(85,85,85)"/>
<rect x="221" y="167" width="5" height="5" fill="rgb(95,95,95)"/>
<rect x="226" y="167" width="5" height="5" fill="rgb(90,90,90)"/>
<rect x="231" y="167" width="5" height="5" fill="rgb(135,135,135)"/>
<rect x="236" y="167" width="5" height="5" fill="rgb(90,90,90)"/>
<rect x="217" y="172" width="4" height="9" fill="rgb(140,140,140)"/>
<rect x="221" y="172" width="10" height="4.5" fill="rgb(185,185,185)"/>
<rect x="221" y="176.5" width="10" height="4.5" fill="rgb(198,198,198)"/>
<rect x="231" y="172" width="5" height="4.5" fill="rgb(180,180,180)"/>
<rect x="231" y="176.5" width="5" height="4.5" fill="rgb(190,190,190)"/>
<rect x="236" y="172" width="5" height="4.5" fill="rgb(160,160,160)"/>
<rect x="236" y="176.5" width="5" height="4.5" fill="rgb(140,140,140)"/>
<rect x="217" y="181" width="9" height="5" fill="rgb(100,100,100)"/>
<rect x="226" y="181" width="5" height="5" fill="rgb(75,75,75)"/>
<rect x="231" y="181" width="5" height="5" fill="rgb(85,85,85)"/>
<rect x="236" y="181" width="5" height="5" fill="rgb(70,70,70)"/>
<rect x="212" y="172" width="5" height="9" fill="rgb(62,62,62)"/>
<rect x="241" y="172" width="5" height="9" fill="rgb(66,66,66)"/>
</g>
<rect x="91.5" y="32.5" width="280.00" height="280.00" fill="none" stroke="#000" stroke-width="1.0"/>
<line x1="114.90" y1="32.00" x2="115.25" y2="27.30" stroke="#000" stroke-width="1.0"/>
<line x1="167.70" y1="32.00" x2="168.05" y2="27.30" stroke="#000" stroke-width="1.0"/>
<line x1="220.70" y1="32.00" x2="221.05" y2="27.30" stroke="#000" stroke-width="1.0"/>
<line x1="273.60" y1="32.00" x2="273.95" y2="27.30" stroke="#000" stroke-width="1.0"/>
<line x1="326.20" y1="32.00" x2="326.55" y2="27.30" stroke="#000" stroke-width="1.0"/>
<line x1="141.80" y1="313.00" x2="141.50" y2="317.80" stroke="#000" stroke-width="1.0"/>
<line x1="193.90" y1="313.00" x2="193.60" y2="317.80" stroke="#000" stroke-width="1.0"/>
<line x1="246.20" y1="313.00" x2="245.90" y2="317.80" stroke="#000" stroke-width="1.0"/>
<line x1="298.20" y1="313.00" x2="297.90" y2="317.80" stroke="#000" stroke-width="1.0"/>
<line x1="350.40" y1="313.00" x2="350.10" y2="317.80" stroke="#000" stroke-width="1.0"/>
<line x1="92.00" y1="66.20" x2="86.60" y2="66.30" stroke="#000" stroke-width="1.0"/>
<text x="82.1" y="70.0" font-size="13.89" text-anchor="end" letter-spacing="-0.25">-40°15'</text>
<line x1="92.00" y1="133.20" x2="86.60" y2="133.30" stroke="#000" stroke-width="1.0"/>
<text x="80.8" y="137.0" font-size="13.89" text-anchor="end" letter-spacing="-0.4">30'</text>
<line x1="92.00" y1="200.90" x2="86.60" y2="201.00" stroke="#000" stroke-width="1.0"/>
<text x="81.5" y="204.70000000000002" font-size="13.89" text-anchor="end" letter-spacing="-0.4">45'</text>
<line x1="92.00" y1="267.80" x2="86.60" y2="267.90" stroke="#000" stroke-width="1.0"/>
<text x="82.1" y="271.6" font-size="13.89" text-anchor="end" letter-spacing="-0.25">-41°00'</text>
<line x1="371.00" y1="83.70" x2="376.60" y2="83.60" stroke="#000" stroke-width="1.0"/>
<line x1="371.00" y1="150.80" x2="376.60" y2="150.70" stroke="#000" stroke-width="1.0"/>
<line x1="371.00" y1="218.40" x2="376.60" y2="218.30" stroke="#000" stroke-width="1.0"/>
<line x1="371.00" y1="285.90" x2="376.60" y2="285.80" stroke="#000" stroke-width="1.0"/>
<line x1="371.80" y1="97.20" x2="373.00" y2="99.80" stroke="#000" stroke-width="1.0"/>
<line x1="91.20" y1="296.60" x2="90.40" y2="300.40" stroke="#000" stroke-width="1.0"/>
<text x="0" y="0" font-size="16.67" text-anchor="middle" transform="translate(232.6 24.1) scale(1 1.09)">Filter</text>
<text x="21.0" y="174.8" font-size="13.89" text-anchor="middle" transform="rotate(-90 21.0 174.8)">Dec</text>
<path d="M230.7 170.29999999999998L238.5 178.1M230.7 178.1L238.5 170.29999999999998" stroke="#f00" stroke-width="1.25" fill="none"/>
<path d="M224.54999999999998 173.5L232.35 181.3M224.54999999999998 181.3L232.35 173.5" stroke="#00f" stroke-width="1.25" fill="none"/>
<rect x="380.5" y="32.5" width="9.00" height="280.00" fill="url(#gg)" stroke="#000" stroke-width="1"/>
<line x1="390.00" y1="35.25" x2="394.90" y2="35.25" stroke="#000" stroke-width="1.0"/>
<text x="399.3" y="40.45" font-size="13.89" text-anchor="start" letter-spacing="-0.4">2.00</text>
<line x1="390.00" y1="70.35" x2="394.90" y2="70.35" stroke="#000" stroke-width="1.0"/>
<text x="399.3" y="75.55" font-size="13.89" text-anchor="start" letter-spacing="-0.4">1.75</text>
<line x1="390.00" y1="105.45" x2="394.90" y2="105.45" stroke="#000" stroke-width="1.0"/>
<text x="399.3" y="110.65" font-size="13.89" text-anchor="start" letter-spacing="-0.4">1.50</text>
<line x1="390.00" y1="140.55" x2="394.90" y2="140.55" stroke="#000" stroke-width="1.0"/>
<text x="399.3" y="145.75" font-size="13.89" text-anchor="start" letter-spacing="-0.4">1.25</text>
<line x1="390.00" y1="175.65" x2="394.90" y2="175.65" stroke="#000" stroke-width="1.0"/>
<text x="399.3" y="180.85" font-size="13.89" text-anchor="start" letter-spacing="-0.4">1.00</text>
<line x1="390.00" y1="210.75" x2="394.90" y2="210.75" stroke="#000" stroke-width="1.0"/>
<text x="399.3" y="215.95" font-size="13.89" text-anchor="start" letter-spacing="-0.4">0.75</text>
<line x1="390.00" y1="245.85" x2="394.90" y2="245.85" stroke="#000" stroke-width="1.0"/>
<text x="399.3" y="251.05" font-size="13.89" text-anchor="start" letter-spacing="-0.4">0.50</text>
<line x1="390.00" y1="280.95" x2="394.90" y2="280.95" stroke="#000" stroke-width="1.0"/>
<text x="399.3" y="286.15000000000003" font-size="13.89" text-anchor="start" letter-spacing="-0.4">0.25</text>
<text x="445.55" y="172.8" font-size="13.89" text-anchor="middle" transform="rotate(-90 445.55 172.8)">arbitrary units</text>
<text x="0" y="0" font-size="16.67" text-anchor="middle" transform="translate(649.9 24.1) scale(1 1.09)" letter-spacing="0.12">Light Curve</text>
<g clip-path="url(#c2)"><polyline points="470.50,215.2 485.50,247.2 500.50,284.5 515.50,238.89999999999998 530.50,279.4 545.50,279.9 560.50,252.2 575.50,207.6 590.50,259.8 605.50,248.89999999999998 620.50,299.3 635.50,220.0 650.50,226.5 665.50,208.89999999999998 680.50,203.89999999999998 695.50,154.1 710.50,179.5 725.50,153.2 740.50,44.5 755.50,70.2 770.50,101.2 785.50,120.0 800.50,118.0 815.50,168.39999999999998 830.50,134.6" fill="none" stroke="#1f77b4" stroke-width="2.08" stroke-linejoin="round"/>
<line x1="470.50" y1="179.00" x2="830.50" y2="179.00" stroke="#000" stroke-width="2.08" stroke-dasharray="7.71 3.33"/>
<line x1="470.50" y1="211.00" x2="830.50" y2="211.00" stroke="#000" stroke-width="2.08" stroke-dasharray="7.71 3.33"/>
<line x1="470.50" y1="242.00" x2="830.50" y2="242.00" stroke="#000" stroke-width="2.08" stroke-dasharray="7.71 3.33"/>
</g>
<rect x="470.5" y="32.5" width="360.00" height="280.00" fill="none" stroke="#000" stroke-width="1.0"/>
<line x1="470.50" y1="313.00" x2="470.50" y2="317.90" stroke="#000" stroke-width="1.0"/>
<text x="470.5" y="332.9" font-size="13.89" text-anchor="middle" letter-spacing="-0.2">0</text>
<line x1="545.50" y1="313.00" x2="545.50" y2="317.90" stroke="#000" stroke-width="1.0"/>
<text x="545.5" y="332.9" font-size="13.89" text-anchor="middle" letter-spacing="-0.2">20</text>
<line x1="620.50" y1="313.00" x2="620.50" y2="317.90" stroke="#000" stroke-width="1.0"/>
<text x="620.5" y="332.9" font-size="13.89" text-anchor="middle" letter-spacing="-0.2">40</text>
<line x1="695.50" y1="313.00" x2="695.50" y2="317.90" stroke="#000" stroke-width="1.0"/>
<text x="695.5" y="332.9" font-size="13.89" text-anchor="middle" letter-spacing="-0.2">60</text>
<line x1="770.50" y1="313.00" x2="770.50" y2="317.90" stroke="#000" stroke-width="1.0"/>
<text x="770.5" y="332.9" font-size="13.89" text-anchor="middle" letter-spacing="-0.2">80</text>
<line x1="831.00" y1="54.30" x2="835.90" y2="54.30" stroke="#000" stroke-width="1.0"/>
<text x="839.6" y="59.699999999999996" font-size="13.89" text-anchor="start" letter-spacing="-0.25">1500</text>
<line x1="831.00" y1="106.40" x2="835.90" y2="106.40" stroke="#000" stroke-width="1.0"/>
<text x="839.6" y="111.80000000000001" font-size="13.89" text-anchor="start" letter-spacing="-0.25">1000</text>
<line x1="831.00" y1="158.70" x2="835.90" y2="158.70" stroke="#000" stroke-width="1.0"/>
<text x="839.6" y="164.1" font-size="13.89" text-anchor="start" letter-spacing="-0.25">500</text>
<line x1="831.00" y1="211.00" x2="835.90" y2="211.00" stroke="#000" stroke-width="1.0"/>
<text x="839.6" y="216.4" font-size="13.89" text-anchor="start" letter-spacing="-0.25">0</text>
<line x1="831.00" y1="263.30" x2="835.90" y2="263.30" stroke="#000" stroke-width="1.0"/>
<text x="839.6" y="268.7" font-size="13.89" text-anchor="start" letter-spacing="-0.25">−500</text>
<text x="650.2" y="352.4" font-size="13.89" text-anchor="middle">Time (s)</text>
<text x="893.1" y="173.8" font-size="13.89" text-anchor="middle" transform="rotate(-90 893.1 173.8)">Brightness (mJy/beam)</text>
<g clip-path="url(#c3)">
<g filter="url(#b0)">
<rect x="81" y="354" width="310" height="310" fill="rgb(37,37,37)"/>
<path fill="rgb(0,0,0)" d="M134 359h4v4h-4zM166 359h4v4h-4zM170 359h4v4h-4zM178 359h4v4h-4zM182 359h4v4h-4zM346 359h4v4h-4zM350 359h4v4h-4zM362 359h4v4h-4zM366 359h4v4h-4zM178 363h4v4h-4zM182 363h4v4h-4zM330 367h4v4h-4zM230 371h4v4h-4zM286 371h4v4h-4zM290 371h4v4h-4zM330 371h4v4h-4zM354 371h4v4h-4zM190 375h4v4h-4zM274 375h4v4h-4zM290 375h4v4h-4zM354 375h4v4h-4zM138 379h4v4h-4zM138 383h4v4h-4zM162 383h4v4h-4zM378 383h4v4h-4zM350 387h4v4h-4zM222 391h4v4h-4zM346 391h4v4h-4zM350 391h4v4h-4zM354 391h4v4h-4zM94 395h4v4h-4zM222 395h4v4h-4zM238 395h4v4h-4zM262 395h4v4h-4zM266 395h4v4h-4zM270 395h4v4h-4zM286 395h4v4h-4zM262 399h4v4h-4zM266 399h4v4h-4zM270 399h4v4h-4zM302 399h4v4h-4zM306 399h4v4h-4zM266 403h4v4h-4zM302 403h4v4h-4zM306 403h4v4h-4zM102 407h4v4h-4zM126 407h4v4h-4zM150 407h4v4h-4zM238 407h4v4h-4zM242 407h4v4h-4zM246 407h4v4h-4zM306 407h4v4h-4zM122 411h4v4h-4zM150 411h4v4h-4zM282 411h4v4h-4zM262 415h4v4h-4zM266 415h4v4h-4zM282 415h4v4h-4zM86 419h4v4h-4zM246 419h4v4h-4zM262 419h4v4h-4zM266 419h4v4h-4zM270 419h4v4h-4zM282 419h4v4h-4zM322 419h4v4h-4zM86 423h4v4h-4zM154 423h4v4h-4zM262 423h4v4h-4zM266 423h4v4h-4zM270 423h4v4h-4zM274 423h4v4h-4zM86 427h4v4h-4zM154 427h4v4h-4zM266 427h4v4h-4zM270 427h4v4h-4zM274 427h4v4h-4zM278 427h4v4h-4zM154 431h4v4h-4zM246 431h4v4h-4zM250 431h4v4h-4zM254 431h4v4h-4zM270 431h4v4h-4zM274 431h4v4h-4zM278 431h4v4h-4zM318 431h4v4h-4zM322 431h4v4h-4zM158 435h4v4h-4zM162 435h4v4h-4zM166 435h4v4h-4zM250 435h4v4h-4zM254 435h4v4h-4zM270 435h4v4h-4zM274 435h4v4h-4zM306 435h4v4h-4zM318 435h4v4h-4zM322 435h4v4h-4zM326 435h4v4h-4zM114 439h4v4h-4zM162 439h4v4h-4zM166 439h4v4h-4zM322 439h4v4h-4zM114 443h4v4h-4zM118 443h4v4h-4zM142 443h4v4h-4zM266 443h4v4h-4zM342 443h4v4h-4zM114 447h4v4h-4zM118 447h4v4h-4zM266 447h4v4h-4zM270 447h4v4h-4zM254 451h4v4h-4zM270 451h4v4h-4zM314 451h4v4h-4zM330 451h4v4h-4zM250 455h4v4h-4zM254 455h4v4h-4zM258 455h4v4h-4zM270 455h4v4h-4zM170 459h4v4h-4zM238 459h4v4h-4zM242 459h4v4h-4zM246 459h4v4h-4zM250 459h4v4h-4zM254 459h4v4h-4zM194 463h4v4h-4zM234 463h4v4h-4zM238 463h4v4h-4zM242 463h4v4h-4zM114 467h4v4h-4zM134 467h4v4h-4zM194 467h4v4h-4zM234 467h4v4h-4zM238 467h4v4h-4zM242 467h4v4h-4zM366 467h4v4h-4zM242 471h4v4h-4zM106 479h4v4h-4zM110 479h4v4h-4zM114 479h4v4h-4zM238 479h4v4h-4zM318 479h4v4h-4zM226 483h4v4h-4zM230 483h4v4h-4zM238 483h4v4h-4zM318 483h4v4h-4zM226 487h4v4h-4zM230 487h4v4h-4zM234 487h4v4h-4zM290 487h4v4h-4zM294 487h4v4h-4zM334 487h4v4h-4zM354 487h4v4h-4zM190 491h4v4h-4zM230 491h4v4h-4zM234 491h4v4h-4zM250 491h4v4h-4zM254 491h4v4h-4zM270 491h4v4h-4zM286 491h4v4h-4zM290 491h4v4h-4zM294 491h4v4h-4zM314 491h4v4h-4zM330 491h4v4h-4zM334 491h4v4h-4zM370 491h4v4h-4zM182 495h4v4h-4zM230 495h4v4h-4zM234 495h4v4h-4zM282 495h4v4h-4zM286 495h4v4h-4zM314 495h4v4h-4zM334 495h4v4h-4zM338 495h4v4h-4zM230 499h4v4h-4zM234 499h4v4h-4zM238 499h4v4h-4zM290 499h4v4h-4zM302 499h4v4h-4zM86 503h4v4h-4zM122 503h4v4h-4zM230 503h4v4h-4zM290 503h4v4h-4zM294 503h4v4h-4zM298 503h4v4h-4zM118 507h4v4h-4zM122 507h4v4h-4zM278 507h4v4h-4zM282 507h4v4h-4zM290 507h4v4h-4zM294 507h4v4h-4zM118 511h4v4h-4zM122 511h4v4h-4zM126 511h4v4h-4zM282 511h4v4h-4zM326 511h4v4h-4zM302 515h4v4h-4zM306 515h4v4h-4zM310 515h4v4h-4zM326 515h4v4h-4zM330 515h4v4h-4zM334 515h4v4h-4zM378 515h4v4h-4zM302 519h4v4h-4zM306 519h4v4h-4zM366 519h4v4h-4zM370 519h4v4h-4zM374 519h4v4h-4zM378 519h4v4h-4zM366 523h4v4h-4zM370 523h4v4h-4zM374 523h4v4h-4zM378 523h4v4h-4zM314 527h4v4h-4zM318 527h4v4h-4zM374 527h4v4h-4zM378 527h4v4h-4zM86 531h4v4h-4zM90 531h4v4h-4zM98 531h4v4h-4zM102 531h4v4h-4zM106 531h4v4h-4zM146 531h4v4h-4zM150 531h4v4h-4zM154 531h4v4h-4zM314 531h4v4h-4zM98 535h4v4h-4zM102 535h4v4h-4zM106 535h4v4h-4zM146 535h4v4h-4zM150 535h4v4h-4zM174 535h4v4h-4zM178 535h4v4h-4zM106 539h4v4h-4zM130 539h4v4h-4zM134 539h4v4h-4zM146 539h4v4h-4zM174 539h4v4h-4zM294 539h4v4h-4zM374 539h4v4h-4zM378 539h4v4h-4zM126 543h4v4h-4zM130 543h4v4h-4zM146 543h4v4h-4zM174 543h4v4h-4zM222 543h4v4h-4zM226 543h4v4h-4zM254 543h4v4h-4zM322 543h4v4h-4zM374 543h4v4h-4zM378 543h4v4h-4zM126 547h4v4h-4zM138 547h4v4h-4zM250 547h4v4h-4zM254 547h4v4h-4zM258 547h4v4h-4zM310 547h4v4h-4zM322 547h4v4h-4zM326 547h4v4h-4zM374 547h4v4h-4zM94 551h4v4h-4zM98 551h4v4h-4zM330 551h4v4h-4zM334 551h4v4h-4zM338 551h4v4h-4zM342 551h4v4h-4zM374 551h4v4h-4zM98 555h4v4h-4zM138 555h4v4h-4zM334 555h4v4h-4zM338 555h4v4h-4zM342 555h4v4h-4zM222 559h4v4h-4zM226 559h4v4h-4zM266 559h4v4h-4zM270 559h4v4h-4zM274 559h4v4h-4zM338 559h4v4h-4zM358 559h4v4h-4zM366 559h4v4h-4zM242 563h4v4h-4zM250 563h4v4h-4zM254 563h4v4h-4zM258 563h4v4h-4zM274 563h4v4h-4zM290 563h4v4h-4zM358 563h4v4h-4zM362 563h4v4h-4zM366 563h4v4h-4zM370 563h4v4h-4zM246 567h4v4h-4zM250 567h4v4h-4zM254 567h4v4h-4zM290 567h4v4h-4zM370 567h4v4h-4zM110 571h4v4h-4zM126 571h4v4h-4zM190 571h4v4h-4zM294 571h4v4h-4zM338 571h4v4h-4zM342 571h4v4h-4zM114 575h4v4h-4zM118 575h4v4h-4zM122 575h4v4h-4zM126 575h4v4h-4zM186 575h4v4h-4zM190 575h4v4h-4zM342 575h4v4h-4zM354 575h4v4h-4zM86 579h4v4h-4zM114 579h4v4h-4zM118 579h4v4h-4zM122 579h4v4h-4zM186 579h4v4h-4zM190 579h4v4h-4zM218 579h4v4h-4zM342 579h4v4h-4zM354 579h4v4h-4zM86 583h4v4h-4zM90 583h4v4h-4zM114 583h4v4h-4zM138 583h4v4h-4zM162 583h4v4h-4zM166 583h4v4h-4zM222 583h4v4h-4zM350 583h4v4h-4zM354 583h4v4h-4zM366 583h4v4h-4zM370 583h4v4h-4zM86 587h4v4h-4zM134 587h4v4h-4zM138 587h4v4h-4zM222 587h4v4h-4zM350 587h4v4h-4zM354 587h4v4h-4zM366 587h4v4h-4zM370 587h4v4h-4zM86 591h4v4h-4zM134 591h4v4h-4zM218 591h4v4h-4zM214 595h4v4h-4zM218 595h4v4h-4zM234 595h4v4h-4zM238 595h4v4h-4zM318 595h4v4h-4zM322 595h4v4h-4zM182 599h4v4h-4zM202 599h4v4h-4zM206 599h4v4h-4zM210 599h4v4h-4zM214 599h4v4h-4zM218 599h4v4h-4zM234 599h4v4h-4zM238 599h4v4h-4zM290 599h4v4h-4zM210 603h4v4h-4zM214 603h4v4h-4zM234 603h4v4h-4zM238 603h4v4h-4zM86 607h4v4h-4zM106 607h4v4h-4zM210 607h4v4h-4zM86 611h4v4h-4zM90 611h4v4h-4zM210 611h4v4h-4zM242 611h4v4h-4zM254 611h4v4h-4zM298 611h4v4h-4zM302 611h4v4h-4zM86 615h4v4h-4zM142 615h4v4h-4zM146 615h4v4h-4zM194 615h4v4h-4zM278 615h4v4h-4zM282 615h4v4h-4zM286 615h4v4h-4zM290 615h4v4h-4zM298 615h4v4h-4zM326 615h4v4h-4zM370 615h4v4h-4zM374 615h4v4h-4zM142 619h4v4h-4zM146 619h4v4h-4zM190 619h4v4h-4zM258 619h4v4h-4zM262 619h4v4h-4zM278 619h4v4h-4zM282 619h4v4h-4zM146 623h4v4h-4zM150 623h4v4h-4zM258 623h4v4h-4zM114 627h4v4h-4zM146 627h4v4h-4zM142 631h4v4h-4zM146 631h4v4h-4zM202 631h4v4h-4zM222 631h4v4h-4zM150 635h4v4h-4zM162 635h4v4h-4zM202 635h4v4h-4zM206 635h4v4h-4zM222 635h4v4h-4zM150 639h4v4h-4zM154 639h4v4h-4zM186 639h4v4h-4zM190 639h4v4h-4zM210 639h4v4h-4zM218 639h4v4h-4zM270 639h4v4h-4zM274 639h4v4h-4zM286 639h4v4h-4zM282 643h4v4h-4zM286 643h4v4h-4zM106 647h4v4h-4zM242 647h4v4h-4zM278 647h4v4h-4zM122 651h4v4h-4zM150 651h4v4h-4zM154 651h4v4h-4zM238 651h4v4h-4zM242 651h4v4h-4zM278 651h4v4h-4z"/>
<path fill="rgb(4,4,4)" d="M98 359h4v4h-4zM342 363h4v4h-4zM334 367h4v4h-4zM194 375h4v4h-4zM270 375h4v4h-4zM286 375h4v4h-4zM158 383h4v4h-4zM174 383h4v4h-4zM306 383h4v4h-4zM98 387h4v4h-4zM114 387h4v4h-4zM378 387h4v4h-4zM342 391h4v4h-4zM94 399h4v4h-4zM282 399h4v4h-4zM102 403h4v4h-4zM126 403h4v4h-4zM278 403h4v4h-4zM282 403h4v4h-4zM234 407h4v4h-4zM254 407h4v4h-4zM258 407h4v4h-4zM302 407h4v4h-4zM102 411h4v4h-4zM126 411h4v4h-4zM86 415h4v4h-4zM326 419h4v4h-4zM282 423h4v4h-4zM218 427h4v4h-4zM250 427h4v4h-4zM150 431h4v4h-4zM166 431h4v4h-4zM306 431h4v4h-4zM142 439h4v4h-4zM158 439h4v4h-4zM170 439h4v4h-4zM254 439h4v4h-4zM270 439h4v4h-4zM326 439h4v4h-4zM242 443h4v4h-4zM86 447h4v4h-4zM238 455h4v4h-4zM150 459h4v4h-4zM314 459h4v4h-4zM370 459h4v4h-4zM338 463h4v4h-4zM118 467h4v4h-4zM130 467h4v4h-4zM206 467h4v4h-4zM366 471h4v4h-4zM106 475h4v4h-4zM234 479h4v4h-4zM222 483h4v4h-4zM234 483h4v4h-4zM354 483h4v4h-4zM286 487h4v4h-4zM314 487h4v4h-4zM338 491h4v4h-4zM166 495h4v4h-4zM170 495h4v4h-4zM238 495h4v4h-4zM86 499h4v4h-4zM226 499h4v4h-4zM294 499h4v4h-4zM298 507h4v4h-4zM98 511h4v4h-4zM278 511h4v4h-4zM306 511h4v4h-4zM310 511h4v4h-4zM330 511h4v4h-4zM122 515h4v4h-4zM126 515h4v4h-4zM222 519h4v4h-4zM226 519h4v4h-4zM150 527h4v4h-4zM322 527h4v4h-4zM366 527h4v4h-4zM326 531h4v4h-4zM186 539h4v4h-4zM258 543h4v4h-4zM326 543h4v4h-4zM142 547h4v4h-4zM222 547h4v4h-4zM226 547h4v4h-4zM306 547h4v4h-4zM318 547h4v4h-4zM138 551h4v4h-4zM226 555h4v4h-4zM346 555h4v4h-4zM370 559h4v4h-4zM106 567h4v4h-4zM258 567h4v4h-4zM294 567h4v4h-4zM106 571h4v4h-4zM210 571h4v4h-4zM246 571h4v4h-4zM250 571h4v4h-4zM110 575h4v4h-4zM218 575h4v4h-4zM302 575h4v4h-4zM346 575h4v4h-4zM222 579h4v4h-4zM346 579h4v4h-4zM350 579h4v4h-4zM118 583h4v4h-4zM342 583h4v4h-4zM346 583h4v4h-4zM162 587h4v4h-4zM214 591h4v4h-4zM98 595h4v4h-4zM134 595h4v4h-4zM182 595h4v4h-4zM130 599h4v4h-4zM134 599h4v4h-4zM178 599h4v4h-4zM230 603h4v4h-4zM102 607h4v4h-4zM254 607h4v4h-4zM206 611h4v4h-4zM294 615h4v4h-4zM322 615h4v4h-4zM150 619h4v4h-4zM194 619h4v4h-4zM294 619h4v4h-4zM374 619h4v4h-4zM110 623h4v4h-4zM114 623h4v4h-4zM262 623h4v4h-4zM258 627h4v4h-4zM234 631h4v4h-4zM142 635h4v4h-4zM266 639h4v4h-4zM342 639h4v4h-4zM134 643h4v4h-4zM274 643h4v4h-4zM166 647h4v4h-4zM282 647h4v4h-4zM234 651h4v4h-4zM254 651h4v4h-4zM282 651h4v4h-4zM294 651h4v4h-4z"/>
<path fill="rgb(8,8,8)" d="M286 359h4v4h-4zM350 363h4v4h-4zM378 363h4v4h-4zM338 367h4v4h-4zM138 371h4v4h-4zM226 371h4v4h-4zM270 371h4v4h-4zM326 375h4v4h-4zM350 375h4v4h-4zM162 379h4v4h-4zM238 379h4v4h-4zM270 379h4v4h-4zM114 383h4v4h-4zM134 383h4v4h-4zM94 387h4v4h-4zM118 387h4v4h-4zM242 391h4v4h-4zM286 391h4v4h-4zM310 391h4v4h-4zM90 395h4v4h-4zM98 395h4v4h-4zM166 395h4v4h-4zM242 395h4v4h-4zM258 395h4v4h-4zM306 395h4v4h-4zM186 399h4v4h-4zM262 403h4v4h-4zM310 403h4v4h-4zM106 407h4v4h-4zM146 407h4v4h-4zM262 407h4v4h-4zM282 407h4v4h-4zM106 411h4v4h-4zM190 411h4v4h-4zM90 415h4v4h-4zM330 415h4v4h-4zM90 419h4v4h-4zM138 419h4v4h-4zM278 419h4v4h-4zM330 419h4v4h-4zM246 423h4v4h-4zM278 423h4v4h-4zM222 427h4v4h-4zM334 431h4v4h-4zM138 435h4v4h-4zM210 435h4v4h-4zM242 439h4v4h-4zM338 439h4v4h-4zM342 439h4v4h-4zM166 443h4v4h-4zM338 443h4v4h-4zM250 451h4v4h-4zM334 451h4v4h-4zM242 455h4v4h-4zM274 455h4v4h-4zM326 455h4v4h-4zM258 459h4v4h-4zM322 459h4v4h-4zM170 463h4v4h-4zM246 463h4v4h-4zM270 463h4v4h-4zM370 463h4v4h-4zM362 467h4v4h-4zM238 471h4v4h-4zM238 475h4v4h-4zM110 483h4v4h-4zM114 483h4v4h-4zM134 483h4v4h-4zM286 483h4v4h-4zM222 487h4v4h-4zM298 487h4v4h-4zM318 487h4v4h-4zM266 491h4v4h-4zM186 495h4v4h-4zM310 495h4v4h-4zM170 499h4v4h-4zM306 499h4v4h-4zM334 499h4v4h-4zM234 503h4v4h-4zM238 503h4v4h-4zM242 503h4v4h-4zM126 507h4v4h-4zM286 507h4v4h-4zM102 511h4v4h-4zM142 515h4v4h-4zM206 515h4v4h-4zM138 519h4v4h-4zM210 519h4v4h-4zM362 519h4v4h-4zM110 523h4v4h-4zM318 523h4v4h-4zM158 531h4v4h-4zM322 531h4v4h-4zM86 535h4v4h-4zM206 535h4v4h-4zM270 535h4v4h-4zM322 535h4v4h-4zM326 535h4v4h-4zM378 535h4v4h-4zM94 539h4v4h-4zM298 539h4v4h-4zM242 547h4v4h-4zM330 547h4v4h-4zM122 551h4v4h-4zM378 551h4v4h-4zM330 555h4v4h-4zM370 555h4v4h-4zM262 559h4v4h-4zM290 559h4v4h-4zM334 559h4v4h-4zM342 559h4v4h-4zM362 559h4v4h-4zM246 563h4v4h-4zM126 567h4v4h-4zM366 567h4v4h-4zM254 571h4v4h-4zM370 571h4v4h-4zM338 575h4v4h-4zM350 575h4v4h-4zM358 575h4v4h-4zM90 579h4v4h-4zM206 579h4v4h-4zM226 583h4v4h-4zM90 587h4v4h-4zM358 587h4v4h-4zM122 591h4v4h-4zM350 591h4v4h-4zM86 599h4v4h-4zM130 603h4v4h-4zM214 607h4v4h-4zM238 607h4v4h-4zM98 611h4v4h-4zM186 611h4v4h-4zM218 611h4v4h-4zM306 611h4v4h-4zM182 615h4v4h-4zM366 615h4v4h-4zM290 619h4v4h-4zM322 619h4v4h-4zM370 619h4v4h-4zM98 623h4v4h-4zM110 627h4v4h-4zM218 627h4v4h-4zM310 627h4v4h-4zM374 631h4v4h-4zM154 635h4v4h-4zM198 635h4v4h-4zM286 635h4v4h-4zM298 635h4v4h-4zM370 635h4v4h-4zM162 639h4v4h-4zM206 639h4v4h-4zM214 639h4v4h-4zM222 639h4v4h-4zM234 639h4v4h-4zM346 639h4v4h-4zM106 643h4v4h-4zM242 643h4v4h-4zM86 647h4v4h-4zM238 647h4v4h-4zM90 651h4v4h-4zM106 651h4v4h-4zM118 651h4v4h-4zM158 651h4v4h-4zM194 651h4v4h-4z"/>
<path fill="rgb(12,12,12)" d="M102 359h4v4h-4zM114 359h4v4h-4zM130 359h4v4h-4zM150 359h4v4h-4zM162 359h4v4h-4zM174 359h4v4h-4zM282 359h4v4h-4zM342 359h4v4h-4zM166 363h4v4h-4zM182 367h4v4h-4zM230 367h4v4h-4zM290 367h4v4h-4zM342 367h4v4h-4zM190 371h4v4h-4zM274 371h4v4h-4zM358 371h4v4h-4zM150 375h4v4h-4zM226 375h4v4h-4zM294 379h4v4h-4zM362 383h4v4h-4zM374 383h4v4h-4zM122 387h4v4h-4zM138 387h4v4h-4zM174 387h4v4h-4zM306 387h4v4h-4zM310 387h4v4h-4zM362 387h4v4h-4zM174 391h4v4h-4zM218 391h4v4h-4zM306 391h4v4h-4zM358 391h4v4h-4zM142 395h4v4h-4zM170 395h4v4h-4zM174 395h4v4h-4zM290 395h4v4h-4zM302 395h4v4h-4zM342 395h4v4h-4zM98 399h4v4h-4zM102 399h4v4h-4zM138 399h4v4h-4zM182 399h4v4h-4zM238 399h4v4h-4zM286 399h4v4h-4zM298 399h4v4h-4zM190 403h4v4h-4zM254 403h4v4h-4zM258 403h4v4h-4zM298 403h4v4h-4zM122 407h4v4h-4zM190 407h4v4h-4zM250 407h4v4h-4zM266 407h4v4h-4zM370 407h4v4h-4zM146 411h4v4h-4zM262 411h4v4h-4zM278 411h4v4h-4zM366 411h4v4h-4zM322 415h4v4h-4zM326 415h4v4h-4zM134 419h4v4h-4zM298 419h4v4h-4zM90 423h4v4h-4zM286 423h4v4h-4zM90 427h4v4h-4zM170 427h4v4h-4zM246 427h4v4h-4zM334 427h4v4h-4zM94 431h4v4h-4zM98 431h4v4h-4zM114 431h4v4h-4zM218 431h4v4h-4zM154 435h4v4h-4zM170 435h4v4h-4zM246 435h4v4h-4zM330 435h4v4h-4zM206 439h4v4h-4zM210 439h4v4h-4zM350 439h4v4h-4zM86 443h4v4h-4zM206 443h4v4h-4zM218 443h4v4h-4zM222 443h4v4h-4zM350 443h4v4h-4zM142 447h4v4h-4zM218 447h4v4h-4zM238 447h4v4h-4zM242 447h4v4h-4zM370 447h4v4h-4zM238 451h4v4h-4zM246 451h4v4h-4zM258 451h4v4h-4zM294 455h4v4h-4zM314 455h4v4h-4zM322 455h4v4h-4zM374 455h4v4h-4zM118 459h4v4h-4zM218 459h4v4h-4zM318 459h4v4h-4zM358 459h4v4h-4zM206 463h4v4h-4zM358 463h4v4h-4zM138 467h4v4h-4zM246 467h4v4h-4zM334 467h4v4h-4zM362 471h4v4h-4zM110 475h4v4h-4zM114 475h4v4h-4zM230 475h4v4h-4zM242 475h4v4h-4zM318 475h4v4h-4zM226 479h4v4h-4zM230 479h4v4h-4zM166 483h4v4h-4zM218 483h4v4h-4zM190 487h4v4h-4zM214 487h4v4h-4zM330 487h4v4h-4zM358 487h4v4h-4zM166 491h4v4h-4zM186 491h4v4h-4zM282 491h4v4h-4zM302 495h4v4h-4zM306 495h4v4h-4zM286 499h4v4h-4zM298 499h4v4h-4zM314 499h4v4h-4zM226 503h4v4h-4zM286 503h4v4h-4zM302 503h4v4h-4zM306 503h4v4h-4zM242 507h4v4h-4zM306 507h4v4h-4zM98 515h4v4h-4zM218 515h4v4h-4zM230 519h4v4h-4zM330 519h4v4h-4zM302 523h4v4h-4zM362 523h4v4h-4zM146 527h4v4h-4zM194 527h4v4h-4zM362 527h4v4h-4zM198 531h4v4h-4zM210 531h4v4h-4zM318 531h4v4h-4zM366 531h4v4h-4zM134 535h4v4h-4zM314 535h4v4h-4zM110 539h4v4h-4zM190 539h4v4h-4zM322 539h4v4h-4zM342 539h4v4h-4zM142 543h4v4h-4zM230 543h4v4h-4zM362 543h4v4h-4zM246 547h4v4h-4zM286 547h4v4h-4zM314 547h4v4h-4zM90 551h4v4h-4zM126 551h4v4h-4zM250 551h4v4h-4zM318 551h4v4h-4zM94 555h4v4h-4zM222 555h4v4h-4zM262 555h4v4h-4zM86 559h4v4h-4zM174 559h4v4h-4zM206 559h4v4h-4zM242 559h4v4h-4zM330 559h4v4h-4zM346 559h4v4h-4zM178 563h4v4h-4zM262 563h4v4h-4zM342 563h4v4h-4zM242 567h4v4h-4zM342 567h4v4h-4zM114 571h4v4h-4zM162 571h4v4h-4zM354 571h4v4h-4zM182 575h4v4h-4zM122 583h4v4h-4zM134 583h4v4h-4zM218 583h4v4h-4zM230 583h4v4h-4zM262 583h4v4h-4zM218 587h4v4h-4zM234 591h4v4h-4zM322 591h4v4h-4zM378 591h4v4h-4zM86 595h4v4h-4zM130 595h4v4h-4zM150 595h4v4h-4zM178 595h4v4h-4zM202 595h4v4h-4zM210 595h4v4h-4zM230 595h4v4h-4zM290 595h4v4h-4zM302 595h4v4h-4zM326 595h4v4h-4zM338 595h4v4h-4zM150 599h4v4h-4zM302 599h4v4h-4zM98 607h4v4h-4zM258 607h4v4h-4zM274 607h4v4h-4zM102 611h4v4h-4zM106 611h4v4h-4zM182 611h4v4h-4zM238 611h4v4h-4zM258 611h4v4h-4zM326 611h4v4h-4zM374 611h4v4h-4zM126 615h4v4h-4zM138 615h4v4h-4zM186 615h4v4h-4zM254 615h4v4h-4zM258 615h4v4h-4zM302 615h4v4h-4zM378 615h4v4h-4zM138 619h4v4h-4zM250 619h4v4h-4zM286 619h4v4h-4zM154 623h4v4h-4zM274 623h4v4h-4zM282 623h4v4h-4zM282 627h4v4h-4zM194 635h4v4h-4zM270 635h4v4h-4zM302 635h4v4h-4zM374 635h4v4h-4zM166 639h4v4h-4zM238 639h4v4h-4zM290 639h4v4h-4zM318 639h4v4h-4zM238 643h4v4h-4zM278 643h4v4h-4zM134 647h4v4h-4zM274 647h4v4h-4zM294 647h4v4h-4zM314 647h4v4h-4zM246 651h4v4h-4zM290 651h4v4h-4z"/>
<path fill="rgb(16,16,16)" d="M310 359h4v4h-4zM322 359h4v4h-4zM378 359h4v4h-4zM338 363h4v4h-4zM346 363h4v4h-4zM366 363h4v4h-4zM178 367h4v4h-4zM270 367h4v4h-4zM366 367h4v4h-4zM150 371h4v4h-4zM194 371h4v4h-4zM222 371h4v4h-4zM350 371h4v4h-4zM94 375h4v4h-4zM138 375h4v4h-4zM142 375h4v4h-4zM146 375h4v4h-4zM238 375h4v4h-4zM310 375h4v4h-4zM314 375h4v4h-4zM330 375h4v4h-4zM358 375h4v4h-4zM142 379h4v4h-4zM158 379h4v4h-4zM178 379h4v4h-4zM306 379h4v4h-4zM378 379h4v4h-4zM122 383h4v4h-4zM346 387h4v4h-4zM238 391h4v4h-4zM162 395h4v4h-4zM182 395h4v4h-4zM90 399h4v4h-4zM142 399h4v4h-4zM170 399h4v4h-4zM186 403h4v4h-4zM234 403h4v4h-4zM270 403h4v4h-4zM166 407h4v4h-4zM278 407h4v4h-4zM310 407h4v4h-4zM166 411h4v4h-4zM266 411h4v4h-4zM122 415h4v4h-4zM154 419h4v4h-4zM250 419h4v4h-4zM274 419h4v4h-4zM286 419h4v4h-4zM150 423h4v4h-4zM298 423h4v4h-4zM150 427h4v4h-4zM254 427h4v4h-4zM282 427h4v4h-4zM158 431h4v4h-4zM170 431h4v4h-4zM190 431h4v4h-4zM214 431h4v4h-4zM222 431h4v4h-4zM310 431h4v4h-4zM314 431h4v4h-4zM94 435h4v4h-4zM98 435h4v4h-4zM142 435h4v4h-4zM150 435h4v4h-4zM302 435h4v4h-4zM338 435h4v4h-4zM146 439h4v4h-4zM274 439h4v4h-4zM138 443h4v4h-4zM146 443h4v4h-4zM170 443h4v4h-4zM246 443h4v4h-4zM262 443h4v4h-4zM138 447h4v4h-4zM190 447h4v4h-4zM286 447h4v4h-4zM290 447h4v4h-4zM266 451h4v4h-4zM274 451h4v4h-4zM290 451h4v4h-4zM310 451h4v4h-4zM370 451h4v4h-4zM190 455h4v4h-4zM246 455h4v4h-4zM298 455h4v4h-4zM330 455h4v4h-4zM114 459h4v4h-4zM154 459h4v4h-4zM130 463h4v4h-4zM158 463h4v4h-4zM162 463h4v4h-4zM166 463h4v4h-4zM330 463h4v4h-4zM334 463h4v4h-4zM230 467h4v4h-4zM338 467h4v4h-4zM118 471h4v4h-4zM102 475h4v4h-4zM190 475h4v4h-4zM198 475h4v4h-4zM234 475h4v4h-4zM362 475h4v4h-4zM202 479h4v4h-4zM190 483h4v4h-4zM334 483h4v4h-4zM358 483h4v4h-4zM238 487h4v4h-4zM182 491h4v4h-4zM226 491h4v4h-4zM310 491h4v4h-4zM190 495h4v4h-4zM226 495h4v4h-4zM270 495h4v4h-4zM290 495h4v4h-4zM310 499h4v4h-4zM258 503h4v4h-4zM310 503h4v4h-4zM330 503h4v4h-4zM110 507h4v4h-4zM262 507h4v4h-4zM266 507h4v4h-4zM322 507h4v4h-4zM342 507h4v4h-4zM142 511h4v4h-4zM206 511h4v4h-4zM346 511h4v4h-4zM94 515h4v4h-4zM138 515h4v4h-4zM138 523h4v4h-4zM262 523h4v4h-4zM154 527h4v4h-4zM370 527h4v4h-4zM94 531h4v4h-4zM194 531h4v4h-4zM378 531h4v4h-4zM90 535h4v4h-4zM130 535h4v4h-4zM154 535h4v4h-4zM158 535h4v4h-4zM366 535h4v4h-4zM86 539h4v4h-4zM178 539h4v4h-4zM106 543h4v4h-4zM134 543h4v4h-4zM234 543h4v4h-4zM238 543h4v4h-4zM306 543h4v4h-4zM230 547h4v4h-4zM334 547h4v4h-4zM338 547h4v4h-4zM370 547h4v4h-4zM230 551h4v4h-4zM254 551h4v4h-4zM310 551h4v4h-4zM102 555h4v4h-4zM178 559h4v4h-4zM238 559h4v4h-4zM250 559h4v4h-4zM258 559h4v4h-4zM238 563h4v4h-4zM270 563h4v4h-4zM110 567h4v4h-4zM130 567h4v4h-4zM158 567h4v4h-4zM86 571h4v4h-4zM130 571h4v4h-4zM214 571h4v4h-4zM298 571h4v4h-4zM302 571h4v4h-4zM254 575h4v4h-4zM182 579h4v4h-4zM302 579h4v4h-4zM126 587h4v4h-4zM214 587h4v4h-4zM234 587h4v4h-4zM298 587h4v4h-4zM346 587h4v4h-4zM126 591h4v4h-4zM130 591h4v4h-4zM222 591h4v4h-4zM238 591h4v4h-4zM302 591h4v4h-4zM354 591h4v4h-4zM122 595h4v4h-4zM338 599h4v4h-4zM178 603h4v4h-4zM110 607h4v4h-4zM174 607h4v4h-4zM270 607h4v4h-4zM94 611h4v4h-4zM190 611h4v4h-4zM286 611h4v4h-4zM366 611h4v4h-4zM90 615h4v4h-4zM126 619h4v4h-4zM214 619h4v4h-4zM274 619h4v4h-4zM94 623h4v4h-4zM142 623h4v4h-4zM190 623h4v4h-4zM194 623h4v4h-4zM250 623h4v4h-4zM294 623h4v4h-4zM306 623h4v4h-4zM98 627h4v4h-4zM150 627h4v4h-4zM154 627h4v4h-4zM234 627h4v4h-4zM262 627h4v4h-4zM314 627h4v4h-4zM354 627h4v4h-4zM358 627h4v4h-4zM378 631h4v4h-4zM146 635h4v4h-4zM234 635h4v4h-4zM294 635h4v4h-4zM138 639h4v4h-4zM242 639h4v4h-4zM246 639h4v4h-4zM302 639h4v4h-4zM306 639h4v4h-4zM138 643h4v4h-4zM166 643h4v4h-4zM210 643h4v4h-4zM214 643h4v4h-4zM234 643h4v4h-4zM270 643h4v4h-4zM306 643h4v4h-4zM334 643h4v4h-4zM102 647h4v4h-4zM122 647h4v4h-4zM334 647h4v4h-4zM126 651h4v4h-4zM206 651h4v4h-4zM310 651h4v4h-4zM350 651h4v4h-4z"/>
<path fill="rgb(20,20,20)" d="M262 359h4v4h-4zM94 363h4v4h-4zM174 363h4v4h-4zM286 363h4v4h-4zM138 367h4v4h-4zM150 367h4v4h-4zM234 367h4v4h-4zM250 367h4v4h-4zM158 371h4v4h-4zM334 371h4v4h-4zM126 375h4v4h-4zM186 375h4v4h-4zM210 375h4v4h-4zM230 375h4v4h-4zM126 379h4v4h-4zM190 379h4v4h-4zM290 379h4v4h-4zM326 379h4v4h-4zM166 383h4v4h-4zM178 383h4v4h-4zM134 387h4v4h-4zM170 387h4v4h-4zM354 387h4v4h-4zM358 387h4v4h-4zM98 391h4v4h-4zM114 391h4v4h-4zM258 391h4v4h-4zM270 391h4v4h-4zM314 391h4v4h-4zM102 395h4v4h-4zM178 395h4v4h-4zM226 395h4v4h-4zM234 395h4v4h-4zM106 399h4v4h-4zM274 399h4v4h-4zM278 399h4v4h-4zM238 403h4v4h-4zM246 403h4v4h-4zM250 403h4v4h-4zM206 407h4v4h-4zM186 411h4v4h-4zM126 415h4v4h-4zM150 415h4v4h-4zM258 415h4v4h-4zM274 415h4v4h-4zM278 415h4v4h-4zM258 419h4v4h-4zM318 419h4v4h-4zM366 419h4v4h-4zM242 423h4v4h-4zM322 423h4v4h-4zM190 427h4v4h-4zM90 431h4v4h-4zM162 431h4v4h-4zM326 431h4v4h-4zM330 431h4v4h-4zM278 435h4v4h-4zM334 435h4v4h-4zM118 439h4v4h-4zM138 439h4v4h-4zM202 439h4v4h-4zM222 439h4v4h-4zM246 439h4v4h-4zM258 439h4v4h-4zM354 439h4v4h-4zM110 443h4v4h-4zM190 443h4v4h-4zM366 443h4v4h-4zM146 447h4v4h-4zM246 447h4v4h-4zM374 447h4v4h-4zM134 451h4v4h-4zM242 451h4v4h-4zM326 451h4v4h-4zM374 451h4v4h-4zM114 455h4v4h-4zM218 455h4v4h-4zM378 455h4v4h-4zM110 459h4v4h-4zM166 459h4v4h-4zM174 459h4v4h-4zM270 459h4v4h-4zM326 459h4v4h-4zM338 459h4v4h-4zM342 459h4v4h-4zM374 459h4v4h-4zM378 459h4v4h-4zM274 463h4v4h-4zM342 463h4v4h-4zM110 467h4v4h-4zM202 467h4v4h-4zM274 467h4v4h-4zM370 467h4v4h-4zM146 471h4v4h-4zM218 471h4v4h-4zM234 471h4v4h-4zM370 471h4v4h-4zM202 475h4v4h-4zM102 479h4v4h-4zM118 479h4v4h-4zM378 479h4v4h-4zM106 483h4v4h-4zM214 483h4v4h-4zM298 483h4v4h-4zM314 483h4v4h-4zM378 483h4v4h-4zM218 487h4v4h-4zM366 487h4v4h-4zM370 487h4v4h-4zM194 491h4v4h-4zM342 491h4v4h-4zM222 495h4v4h-4zM254 495h4v4h-4zM294 495h4v4h-4zM330 495h4v4h-4zM342 495h4v4h-4zM174 499h4v4h-4zM330 499h4v4h-4zM90 503h4v4h-4zM126 503h4v4h-4zM254 503h4v4h-4zM262 503h4v4h-4zM326 503h4v4h-4zM86 507h4v4h-4zM134 507h4v4h-4zM346 507h4v4h-4zM94 511h4v4h-4zM106 511h4v4h-4zM114 511h4v4h-4zM110 519h4v4h-4zM206 519h4v4h-4zM214 519h4v4h-4zM218 519h4v4h-4zM354 519h4v4h-4zM306 523h4v4h-4zM354 523h4v4h-4zM94 527h4v4h-4zM130 527h4v4h-4zM354 527h4v4h-4zM206 531h4v4h-4zM194 535h4v4h-4zM210 535h4v4h-4zM374 535h4v4h-4zM90 539h4v4h-4zM98 539h4v4h-4zM314 539h4v4h-4zM326 539h4v4h-4zM138 543h4v4h-4zM250 543h4v4h-4zM282 543h4v4h-4zM310 543h4v4h-4zM370 543h4v4h-4zM122 547h4v4h-4zM218 547h4v4h-4zM378 547h4v4h-4zM222 551h4v4h-4zM226 551h4v4h-4zM322 551h4v4h-4zM370 551h4v4h-4zM266 555h4v4h-4zM274 555h4v4h-4zM294 555h4v4h-4zM318 555h4v4h-4zM374 555h4v4h-4zM154 559h4v4h-4zM246 559h4v4h-4zM278 559h4v4h-4zM294 559h4v4h-4zM174 563h4v4h-4zM202 563h4v4h-4zM222 563h4v4h-4zM226 563h4v4h-4zM278 563h4v4h-4zM310 563h4v4h-4zM314 563h4v4h-4zM338 563h4v4h-4zM374 563h4v4h-4zM338 567h4v4h-4zM374 567h4v4h-4zM122 571h4v4h-4zM158 571h4v4h-4zM186 571h4v4h-4zM290 571h4v4h-4zM306 571h4v4h-4zM86 575h4v4h-4zM206 575h4v4h-4zM166 579h4v4h-4zM230 579h4v4h-4zM262 579h4v4h-4zM306 579h4v4h-4zM326 579h4v4h-4zM170 583h4v4h-4zM210 583h4v4h-4zM234 583h4v4h-4zM114 587h4v4h-4zM130 587h4v4h-4zM142 587h4v4h-4zM166 587h4v4h-4zM226 587h4v4h-4zM362 587h4v4h-4zM226 591h4v4h-4zM318 591h4v4h-4zM346 591h4v4h-4zM126 595h4v4h-4zM378 595h4v4h-4zM146 599h4v4h-4zM198 599h4v4h-4zM262 599h4v4h-4zM314 599h4v4h-4zM86 603h4v4h-4zM106 603h4v4h-4zM110 603h4v4h-4zM170 603h4v4h-4zM174 603h4v4h-4zM290 603h4v4h-4zM242 607h4v4h-4zM138 611h4v4h-4zM142 611h4v4h-4zM214 611h4v4h-4zM246 611h4v4h-4zM282 611h4v4h-4zM370 611h4v4h-4zM378 611h4v4h-4zM150 615h4v4h-4zM190 615h4v4h-4zM130 619h4v4h-4zM154 619h4v4h-4zM210 619h4v4h-4zM298 619h4v4h-4zM378 619h4v4h-4zM90 623h4v4h-4zM102 623h4v4h-4zM102 627h4v4h-4zM274 627h4v4h-4zM286 627h4v4h-4zM306 627h4v4h-4zM322 627h4v4h-4zM374 627h4v4h-4zM150 631h4v4h-4zM206 631h4v4h-4zM218 631h4v4h-4zM226 631h4v4h-4zM322 631h4v4h-4zM326 631h4v4h-4zM362 631h4v4h-4zM370 631h4v4h-4zM158 635h4v4h-4zM166 635h4v4h-4zM178 635h4v4h-4zM210 635h4v4h-4zM218 635h4v4h-4zM266 635h4v4h-4zM274 635h4v4h-4zM290 635h4v4h-4zM342 635h4v4h-4zM346 635h4v4h-4zM94 639h4v4h-4zM98 639h4v4h-4zM170 639h4v4h-4zM194 639h4v4h-4zM230 639h4v4h-4zM98 643h4v4h-4zM102 643h4v4h-4zM150 643h4v4h-4zM190 643h4v4h-4zM230 643h4v4h-4zM266 643h4v4h-4zM90 647h4v4h-4zM110 647h4v4h-4zM310 647h4v4h-4zM202 651h4v4h-4zM270 651h4v4h-4zM338 651h4v4h-4z"/>
<path fill="rgb(24,24,24)" d="M162 363h4v4h-4zM170 363h4v4h-4zM238 363h4v4h-4zM270 363h4v4h-4zM362 363h4v4h-4zM162 367h4v4h-4zM238 367h4v4h-4zM350 367h4v4h-4zM186 371h4v4h-4zM326 371h4v4h-4zM154 375h4v4h-4zM294 375h4v4h-4zM98 379h4v4h-4zM114 379h4v4h-4zM134 379h4v4h-4zM146 379h4v4h-4zM154 379h4v4h-4zM274 379h4v4h-4zM322 379h4v4h-4zM354 379h4v4h-4zM302 383h4v4h-4zM94 391h4v4h-4zM170 391h4v4h-4zM190 391h4v4h-4zM194 391h4v4h-4zM226 391h4v4h-4zM246 391h4v4h-4zM110 395h4v4h-4zM146 395h4v4h-4zM150 395h4v4h-4zM218 395h4v4h-4zM282 395h4v4h-4zM146 399h4v4h-4zM150 399h4v4h-4zM166 399h4v4h-4zM234 399h4v4h-4zM258 399h4v4h-4zM98 403h4v4h-4zM106 403h4v4h-4zM122 403h4v4h-4zM170 403h4v4h-4zM206 403h4v4h-4zM274 403h4v4h-4zM130 407h4v4h-4zM154 407h4v4h-4zM162 407h4v4h-4zM202 407h4v4h-4zM366 407h4v4h-4zM118 411h4v4h-4zM302 411h4v4h-4zM370 411h4v4h-4zM246 415h4v4h-4zM270 415h4v4h-4zM370 415h4v4h-4zM150 419h4v4h-4zM214 419h4v4h-4zM242 419h4v4h-4zM370 419h4v4h-4zM138 423h4v4h-4zM170 423h4v4h-4zM218 423h4v4h-4zM366 423h4v4h-4zM106 427h4v4h-4zM110 427h4v4h-4zM262 427h4v4h-4zM286 427h4v4h-4zM338 427h4v4h-4zM282 431h4v4h-4zM294 431h4v4h-4zM338 431h4v4h-4zM370 431h4v4h-4zM114 435h4v4h-4zM214 435h4v4h-4zM258 435h4v4h-4zM294 435h4v4h-4zM310 435h4v4h-4zM370 435h4v4h-4zM266 439h4v4h-4zM298 439h4v4h-4zM302 439h4v4h-4zM318 439h4v4h-4zM346 439h4v4h-4zM122 443h4v4h-4zM162 443h4v4h-4zM174 443h4v4h-4zM202 443h4v4h-4zM238 443h4v4h-4zM270 443h4v4h-4zM134 447h4v4h-4zM222 447h4v4h-4zM330 447h4v4h-4zM346 447h4v4h-4zM350 447h4v4h-4zM366 447h4v4h-4zM146 451h4v4h-4zM294 451h4v4h-4zM350 451h4v4h-4zM110 455h4v4h-4zM194 455h4v4h-4zM290 455h4v4h-4zM318 455h4v4h-4zM334 455h4v4h-4zM370 455h4v4h-4zM94 459h4v4h-4zM190 459h4v4h-4zM194 459h4v4h-4zM214 459h4v4h-4zM274 459h4v4h-4zM298 459h4v4h-4zM94 463h4v4h-4zM114 463h4v4h-4zM134 463h4v4h-4zM154 463h4v4h-4zM230 463h4v4h-4zM366 463h4v4h-4zM98 467h4v4h-4zM174 467h4v4h-4zM330 467h4v4h-4zM246 471h4v4h-4zM350 471h4v4h-4zM146 475h4v4h-4zM354 475h4v4h-4zM358 475h4v4h-4zM314 479h4v4h-4zM354 479h4v4h-4zM358 479h4v4h-4zM374 479h4v4h-4zM130 483h4v4h-4zM162 483h4v4h-4zM186 483h4v4h-4zM302 483h4v4h-4zM198 487h4v4h-4zM202 487h4v4h-4zM338 487h4v4h-4zM362 487h4v4h-4zM218 491h4v4h-4zM222 491h4v4h-4zM238 491h4v4h-4zM366 491h4v4h-4zM102 495h4v4h-4zM178 495h4v4h-4zM194 495h4v4h-4zM298 495h4v4h-4zM346 495h4v4h-4zM338 499h4v4h-4zM266 503h4v4h-4zM334 503h4v4h-4zM142 507h4v4h-4zM194 507h4v4h-4zM198 507h4v4h-4zM238 507h4v4h-4zM310 507h4v4h-4zM318 507h4v4h-4zM326 507h4v4h-4zM134 511h4v4h-4zM194 511h4v4h-4zM198 511h4v4h-4zM210 511h4v4h-4zM350 511h4v4h-4zM154 515h4v4h-4zM166 515h4v4h-4zM194 515h4v4h-4zM210 515h4v4h-4zM222 515h4v4h-4zM230 515h4v4h-4zM370 515h4v4h-4zM142 519h4v4h-4zM358 519h4v4h-4zM134 523h4v4h-4zM290 523h4v4h-4zM90 527h4v4h-4zM98 527h4v4h-4zM106 527h4v4h-4zM190 527h4v4h-4zM290 527h4v4h-4zM326 527h4v4h-4zM162 531h4v4h-4zM178 531h4v4h-4zM202 531h4v4h-4zM362 531h4v4h-4zM94 535h4v4h-4zM190 535h4v4h-4zM266 535h4v4h-4zM338 535h4v4h-4zM114 539h4v4h-4zM126 539h4v4h-4zM162 539h4v4h-4zM230 539h4v4h-4zM282 539h4v4h-4zM318 539h4v4h-4zM338 539h4v4h-4zM122 543h4v4h-4zM166 543h4v4h-4zM170 543h4v4h-4zM218 543h4v4h-4zM242 543h4v4h-4zM318 543h4v4h-4zM330 543h4v4h-4zM342 543h4v4h-4zM366 543h4v4h-4zM174 547h4v4h-4zM238 547h4v4h-4zM262 547h4v4h-4zM274 547h4v4h-4zM246 551h4v4h-4zM262 551h4v4h-4zM286 551h4v4h-4zM306 551h4v4h-4zM314 551h4v4h-4zM90 555h4v4h-4zM250 555h4v4h-4zM270 555h4v4h-4zM322 555h4v4h-4zM150 559h4v4h-4zM166 559h4v4h-4zM186 559h4v4h-4zM202 559h4v4h-4zM210 559h4v4h-4zM86 563h4v4h-4zM154 563h4v4h-4zM182 563h4v4h-4zM206 563h4v4h-4zM318 563h4v4h-4zM310 567h4v4h-4zM322 567h4v4h-4zM150 571h4v4h-4zM206 571h4v4h-4zM310 571h4v4h-4zM334 571h4v4h-4zM90 575h4v4h-4zM162 575h4v4h-4zM174 575h4v4h-4zM214 575h4v4h-4zM258 575h4v4h-4zM306 575h4v4h-4zM334 575h4v4h-4zM370 575h4v4h-4zM126 579h4v4h-4zM194 579h4v4h-4zM126 583h4v4h-4zM142 583h4v4h-4zM186 583h4v4h-4zM206 583h4v4h-4zM242 583h4v4h-4zM358 583h4v4h-4zM110 587h4v4h-4zM122 587h4v4h-4zM238 587h4v4h-4zM326 587h4v4h-4zM90 591h4v4h-4zM118 591h4v4h-4zM198 591h4v4h-4zM246 591h4v4h-4zM294 591h4v4h-4zM298 591h4v4h-4zM326 591h4v4h-4zM366 591h4v4h-4zM154 595h4v4h-4zM206 595h4v4h-4zM222 595h4v4h-4zM226 595h4v4h-4zM246 595h4v4h-4zM258 595h4v4h-4zM262 595h4v4h-4zM294 595h4v4h-4zM334 595h4v4h-4zM98 599h4v4h-4zM154 599h4v4h-4zM230 599h4v4h-4zM242 599h4v4h-4zM294 599h4v4h-4zM318 599h4v4h-4zM322 599h4v4h-4zM182 603h4v4h-4zM338 603h4v4h-4zM178 607h4v4h-4zM206 607h4v4h-4zM250 607h4v4h-4zM302 607h4v4h-4zM306 607h4v4h-4zM146 611h4v4h-4zM194 611h4v4h-4zM278 611h4v4h-4zM322 611h4v4h-4zM362 611h4v4h-4zM210 615h4v4h-4zM250 615h4v4h-4zM102 619h4v4h-4zM118 623h4v4h-4zM214 623h4v4h-4zM270 623h4v4h-4zM278 623h4v4h-4zM310 623h4v4h-4zM354 623h4v4h-4zM370 623h4v4h-4zM374 623h4v4h-4zM118 627h4v4h-4zM222 627h4v4h-4zM226 627h4v4h-4zM230 627h4v4h-4zM250 627h4v4h-4zM254 627h4v4h-4zM326 627h4v4h-4zM378 627h4v4h-4zM114 631h4v4h-4zM198 631h4v4h-4zM258 631h4v4h-4zM270 631h4v4h-4zM334 631h4v4h-4zM358 631h4v4h-4zM86 635h4v4h-4zM182 635h4v4h-4zM190 635h4v4h-4zM226 635h4v4h-4zM378 635h4v4h-4zM158 639h4v4h-4zM202 639h4v4h-4zM262 639h4v4h-4zM334 639h4v4h-4zM246 643h4v4h-4zM310 643h4v4h-4zM314 643h4v4h-4zM354 643h4v4h-4zM138 647h4v4h-4zM154 647h4v4h-4zM162 647h4v4h-4zM270 647h4v4h-4zM330 647h4v4h-4zM354 647h4v4h-4zM86 651h4v4h-4zM114 651h4v4h-4zM198 651h4v4h-4zM250 651h4v4h-4zM258 651h4v4h-4zM274 651h4v4h-4zM342 651h4v4h-4zM378 651h4v4h-4z"/>
<path fill="rgb(28,28,28)" d="M154 359h4v4h-4zM238 359h4v4h-4zM338 359h4v4h-4zM150 363h4v4h-4zM242 363h4v4h-4zM242 367h4v4h-4zM286 367h4v4h-4zM354 367h4v4h-4zM154 371h4v4h-4zM234 371h4v4h-4zM338 371h4v4h-4zM98 375h4v4h-4zM106 375h4v4h-4zM222 375h4v4h-4zM234 375h4v4h-4zM94 379h4v4h-4zM130 379h4v4h-4zM150 379h4v4h-4zM166 379h4v4h-4zM234 379h4v4h-4zM266 379h4v4h-4zM298 379h4v4h-4zM118 383h4v4h-4zM126 383h4v4h-4zM170 383h4v4h-4zM270 383h4v4h-4zM310 383h4v4h-4zM314 387h4v4h-4zM374 387h4v4h-4zM110 391h4v4h-4zM130 391h4v4h-4zM166 391h4v4h-4zM262 391h4v4h-4zM282 391h4v4h-4zM290 391h4v4h-4zM106 395h4v4h-4zM130 395h4v4h-4zM298 395h4v4h-4zM346 395h4v4h-4zM354 395h4v4h-4zM378 395h4v4h-4zM110 399h4v4h-4zM138 403h4v4h-4zM142 403h4v4h-4zM146 403h4v4h-4zM242 403h4v4h-4zM370 403h4v4h-4zM374 403h4v4h-4zM298 407h4v4h-4zM378 407h4v4h-4zM242 411h4v4h-4zM246 411h4v4h-4zM306 411h4v4h-4zM330 411h4v4h-4zM94 415h4v4h-4zM214 415h4v4h-4zM302 419h4v4h-4zM142 423h4v4h-4zM174 423h4v4h-4zM190 423h4v4h-4zM222 423h4v4h-4zM250 423h4v4h-4zM290 423h4v4h-4zM302 423h4v4h-4zM362 423h4v4h-4zM290 427h4v4h-4zM358 427h4v4h-4zM362 427h4v4h-4zM126 431h4v4h-4zM290 431h4v4h-4zM358 431h4v4h-4zM362 431h4v4h-4zM374 431h4v4h-4zM146 435h4v4h-4zM222 435h4v4h-4zM298 435h4v4h-4zM350 435h4v4h-4zM354 435h4v4h-4zM198 439h4v4h-4zM254 443h4v4h-4zM258 443h4v4h-4zM290 443h4v4h-4zM346 443h4v4h-4zM354 443h4v4h-4zM110 447h4v4h-4zM122 447h4v4h-4zM334 447h4v4h-4zM342 447h4v4h-4zM138 451h4v4h-4zM118 455h4v4h-4zM134 455h4v4h-4zM150 455h4v4h-4zM266 455h4v4h-4zM354 455h4v4h-4zM90 459h4v4h-4zM122 459h4v4h-4zM294 459h4v4h-4zM354 459h4v4h-4zM366 459h4v4h-4zM110 463h4v4h-4zM150 463h4v4h-4zM174 463h4v4h-4zM290 463h4v4h-4zM318 463h4v4h-4zM326 463h4v4h-4zM354 463h4v4h-4zM362 463h4v4h-4zM378 463h4v4h-4zM86 467h4v4h-4zM94 467h4v4h-4zM198 467h4v4h-4zM270 467h4v4h-4zM342 467h4v4h-4zM358 467h4v4h-4zM114 471h4v4h-4zM134 471h4v4h-4zM194 471h4v4h-4zM214 471h4v4h-4zM274 471h4v4h-4zM354 471h4v4h-4zM194 475h4v4h-4zM314 475h4v4h-4zM322 475h4v4h-4zM190 479h4v4h-4zM282 479h4v4h-4zM202 483h4v4h-4zM338 483h4v4h-4zM106 487h4v4h-4zM134 487h4v4h-4zM166 487h4v4h-4zM210 487h4v4h-4zM310 487h4v4h-4zM198 491h4v4h-4zM214 491h4v4h-4zM258 491h4v4h-4zM354 491h4v4h-4zM374 491h4v4h-4zM98 495h4v4h-4zM266 495h4v4h-4zM278 495h4v4h-4zM90 499h4v4h-4zM166 499h4v4h-4zM258 499h4v4h-4zM94 503h4v4h-4zM114 507h4v4h-4zM302 507h4v4h-4zM86 511h4v4h-4zM110 511h4v4h-4zM162 511h4v4h-4zM286 511h4v4h-4zM334 511h4v4h-4zM342 511h4v4h-4zM102 515h4v4h-4zM118 515h4v4h-4zM162 515h4v4h-4zM202 515h4v4h-4zM362 515h4v4h-4zM366 515h4v4h-4zM126 519h4v4h-4zM194 519h4v4h-4zM318 519h4v4h-4zM266 523h4v4h-4zM198 527h4v4h-4zM306 527h4v4h-4zM174 531h4v4h-4zM110 535h4v4h-4zM186 535h4v4h-4zM258 535h4v4h-4zM290 535h4v4h-4zM310 535h4v4h-4zM318 535h4v4h-4zM102 539h4v4h-4zM142 539h4v4h-4zM166 539h4v4h-4zM170 539h4v4h-4zM182 539h4v4h-4zM206 539h4v4h-4zM226 539h4v4h-4zM258 539h4v4h-4zM290 539h4v4h-4zM310 539h4v4h-4zM362 539h4v4h-4zM110 543h4v4h-4zM262 543h4v4h-4zM274 543h4v4h-4zM278 543h4v4h-4zM338 543h4v4h-4zM170 547h4v4h-4zM290 547h4v4h-4zM258 551h4v4h-4zM274 551h4v4h-4zM278 551h4v4h-4zM282 551h4v4h-4zM294 551h4v4h-4zM346 551h4v4h-4zM278 555h4v4h-4zM282 555h4v4h-4zM290 555h4v4h-4zM170 559h4v4h-4zM218 559h4v4h-4zM254 559h4v4h-4zM306 559h4v4h-4zM318 559h4v4h-4zM130 563h4v4h-4zM166 563h4v4h-4zM90 567h4v4h-4zM154 567h4v4h-4zM190 567h4v4h-4zM194 567h4v4h-4zM206 567h4v4h-4zM210 567h4v4h-4zM262 567h4v4h-4zM302 567h4v4h-4zM118 571h4v4h-4zM170 571h4v4h-4zM194 571h4v4h-4zM242 571h4v4h-4zM322 571h4v4h-4zM330 571h4v4h-4zM346 571h4v4h-4zM366 571h4v4h-4zM130 575h4v4h-4zM178 575h4v4h-4zM194 575h4v4h-4zM298 575h4v4h-4zM322 575h4v4h-4zM326 575h4v4h-4zM110 579h4v4h-4zM138 579h4v4h-4zM170 579h4v4h-4zM338 579h4v4h-4zM94 583h4v4h-4zM214 583h4v4h-4zM246 583h4v4h-4zM258 583h4v4h-4zM282 583h4v4h-4zM306 583h4v4h-4zM106 587h4v4h-4zM150 587h4v4h-4zM246 587h4v4h-4zM282 587h4v4h-4zM294 587h4v4h-4zM302 587h4v4h-4zM342 587h4v4h-4zM138 591h4v4h-4zM162 591h4v4h-4zM202 591h4v4h-4zM230 591h4v4h-4zM254 591h4v4h-4zM290 591h4v4h-4zM342 591h4v4h-4zM362 591h4v4h-4zM90 595h4v4h-4zM94 595h4v4h-4zM138 595h4v4h-4zM242 595h4v4h-4zM298 595h4v4h-4zM342 595h4v4h-4zM138 599h4v4h-4zM222 599h4v4h-4zM246 599h4v4h-4zM298 599h4v4h-4zM314 603h4v4h-4zM90 607h4v4h-4zM190 607h4v4h-4zM362 607h4v4h-4zM178 611h4v4h-4zM250 611h4v4h-4zM102 615h4v4h-4zM206 615h4v4h-4zM214 615h4v4h-4zM218 615h4v4h-4zM262 615h4v4h-4zM306 615h4v4h-4zM362 615h4v4h-4zM90 619h4v4h-4zM98 619h4v4h-4zM182 619h4v4h-4zM186 619h4v4h-4zM254 619h4v4h-4zM318 619h4v4h-4zM366 619h4v4h-4zM218 623h4v4h-4zM254 623h4v4h-4zM314 623h4v4h-4zM322 623h4v4h-4zM326 623h4v4h-4zM358 623h4v4h-4zM142 627h4v4h-4zM198 627h4v4h-4zM318 627h4v4h-4zM178 631h4v4h-4zM266 631h4v4h-4zM274 631h4v4h-4zM330 631h4v4h-4zM170 635h4v4h-4zM174 635h4v4h-4zM186 635h4v4h-4zM238 635h4v4h-4zM174 639h4v4h-4zM198 639h4v4h-4zM294 639h4v4h-4zM338 639h4v4h-4zM94 643h4v4h-4zM110 643h4v4h-4zM162 643h4v4h-4zM218 643h4v4h-4zM290 643h4v4h-4zM330 643h4v4h-4zM94 647h4v4h-4zM118 647h4v4h-4zM234 647h4v4h-4zM266 647h4v4h-4zM286 647h4v4h-4zM290 647h4v4h-4zM378 647h4v4h-4zM222 651h4v4h-4zM314 651h4v4h-4zM346 651h4v4h-4z"/>
<path fill="rgb(32,32,32)" d="M374 359h4v4h-4zM90 363h4v4h-4zM246 363h4v4h-4zM266 363h4v4h-4zM282 363h4v4h-4zM330 363h4v4h-4zM90 367h4v4h-4zM94 367h4v4h-4zM254 367h4v4h-4zM274 367h4v4h-4zM294 367h4v4h-4zM362 367h4v4h-4zM162 371h4v4h-4zM366 371h4v4h-4zM102 375h4v4h-4zM158 375h4v4h-4zM242 375h4v4h-4zM262 375h4v4h-4zM278 375h4v4h-4zM122 379h4v4h-4zM194 379h4v4h-4zM226 379h4v4h-4zM302 379h4v4h-4zM310 379h4v4h-4zM314 379h4v4h-4zM358 379h4v4h-4zM234 383h4v4h-4zM102 387h4v4h-4zM238 387h4v4h-4zM242 387h4v4h-4zM286 387h4v4h-4zM302 387h4v4h-4zM342 387h4v4h-4zM126 391h4v4h-4zM134 391h4v4h-4zM138 391h4v4h-4zM162 391h4v4h-4zM178 391h4v4h-4zM318 391h4v4h-4zM378 391h4v4h-4zM138 395h4v4h-4zM186 395h4v4h-4zM246 395h4v4h-4zM350 395h4v4h-4zM126 399h4v4h-4zM162 399h4v4h-4zM174 399h4v4h-4zM134 403h4v4h-4zM150 403h4v4h-4zM174 403h4v4h-4zM194 403h4v4h-4zM314 403h4v4h-4zM170 407h4v4h-4zM230 407h4v4h-4zM270 407h4v4h-4zM374 407h4v4h-4zM86 411h4v4h-4zM110 411h4v4h-4zM270 411h4v4h-4zM274 411h4v4h-4zM286 411h4v4h-4zM166 415h4v4h-4zM286 415h4v4h-4zM366 415h4v4h-4zM174 419h4v4h-4zM294 419h4v4h-4zM314 419h4v4h-4zM146 423h4v4h-4zM206 423h4v4h-4zM258 423h4v4h-4zM126 427h4v4h-4zM130 427h4v4h-4zM258 427h4v4h-4zM366 427h4v4h-4zM86 431h4v4h-4zM118 431h4v4h-4zM138 431h4v4h-4zM186 431h4v4h-4zM354 431h4v4h-4zM242 435h4v4h-4zM314 435h4v4h-4zM342 435h4v4h-4zM346 435h4v4h-4zM358 435h4v4h-4zM374 435h4v4h-4zM250 439h4v4h-4zM330 439h4v4h-4zM186 443h4v4h-4zM194 443h4v4h-4zM322 443h4v4h-4zM370 443h4v4h-4zM186 447h4v4h-4zM234 447h4v4h-4zM254 447h4v4h-4zM262 447h4v4h-4zM314 447h4v4h-4zM326 447h4v4h-4zM338 447h4v4h-4zM286 451h4v4h-4zM338 455h4v4h-4zM158 459h4v4h-4zM162 459h4v4h-4zM98 463h4v4h-4zM202 463h4v4h-4zM314 463h4v4h-4zM374 463h4v4h-4zM166 467h4v4h-4zM170 467h4v4h-4zM218 467h4v4h-4zM278 467h4v4h-4zM86 471h4v4h-4zM130 471h4v4h-4zM170 471h4v4h-4zM174 471h4v4h-4zM186 471h4v4h-4zM190 471h4v4h-4zM198 471h4v4h-4zM230 471h4v4h-4zM278 471h4v4h-4zM282 471h4v4h-4zM306 471h4v4h-4zM318 471h4v4h-4zM346 471h4v4h-4zM358 471h4v4h-4zM150 475h4v4h-4zM186 475h4v4h-4zM350 475h4v4h-4zM374 475h4v4h-4zM254 479h4v4h-4zM286 479h4v4h-4zM362 479h4v4h-4zM242 483h4v4h-4zM274 483h4v4h-4zM282 483h4v4h-4zM290 483h4v4h-4zM294 483h4v4h-4zM362 483h4v4h-4zM186 487h4v4h-4zM194 487h4v4h-4zM242 487h4v4h-4zM246 487h4v4h-4zM270 487h4v4h-4zM326 487h4v4h-4zM170 491h4v4h-4zM246 491h4v4h-4zM274 491h4v4h-4zM278 491h4v4h-4zM298 491h4v4h-4zM326 491h4v4h-4zM174 495h4v4h-4zM258 495h4v4h-4zM370 495h4v4h-4zM110 503h4v4h-4zM170 503h4v4h-4zM282 503h4v4h-4zM322 503h4v4h-4zM138 507h4v4h-4zM330 507h4v4h-4zM338 507h4v4h-4zM138 511h4v4h-4zM250 511h4v4h-4zM190 515h4v4h-4zM198 515h4v4h-4zM214 515h4v4h-4zM358 515h4v4h-4zM374 515h4v4h-4zM106 523h4v4h-4zM194 523h4v4h-4zM214 523h4v4h-4zM218 523h4v4h-4zM222 523h4v4h-4zM230 523h4v4h-4zM102 527h4v4h-4zM110 527h4v4h-4zM250 527h4v4h-4zM302 527h4v4h-4zM346 527h4v4h-4zM350 527h4v4h-4zM358 527h4v4h-4zM130 531h4v4h-4zM250 531h4v4h-4zM258 531h4v4h-4zM310 531h4v4h-4zM354 531h4v4h-4zM170 535h4v4h-4zM182 535h4v4h-4zM202 535h4v4h-4zM262 535h4v4h-4zM294 535h4v4h-4zM334 535h4v4h-4zM342 535h4v4h-4zM138 539h4v4h-4zM222 539h4v4h-4zM270 539h4v4h-4zM302 539h4v4h-4zM366 539h4v4h-4zM162 543h4v4h-4zM294 543h4v4h-4zM302 543h4v4h-4zM314 543h4v4h-4zM358 543h4v4h-4zM130 547h4v4h-4zM134 547h4v4h-4zM266 547h4v4h-4zM282 547h4v4h-4zM102 551h4v4h-4zM326 551h4v4h-4zM86 555h4v4h-4zM174 555h4v4h-4zM190 555h4v4h-4zM194 555h4v4h-4zM258 555h4v4h-4zM286 555h4v4h-4zM298 555h4v4h-4zM306 555h4v4h-4zM358 555h4v4h-4zM366 555h4v4h-4zM378 555h4v4h-4zM134 559h4v4h-4zM198 559h4v4h-4zM302 559h4v4h-4zM310 559h4v4h-4zM322 559h4v4h-4zM326 559h4v4h-4zM354 559h4v4h-4zM90 563h4v4h-4zM186 563h4v4h-4zM198 563h4v4h-4zM294 563h4v4h-4zM322 563h4v4h-4zM122 567h4v4h-4zM150 567h4v4h-4zM274 567h4v4h-4zM306 567h4v4h-4zM90 571h4v4h-4zM146 571h4v4h-4zM106 575h4v4h-4zM150 575h4v4h-4zM170 575h4v4h-4zM210 575h4v4h-4zM266 575h4v4h-4zM362 575h4v4h-4zM366 575h4v4h-4zM94 579h4v4h-4zM162 579h4v4h-4zM178 579h4v4h-4zM210 579h4v4h-4zM254 579h4v4h-4zM266 579h4v4h-4zM322 579h4v4h-4zM330 579h4v4h-4zM358 579h4v4h-4zM370 579h4v4h-4zM110 583h4v4h-4zM174 583h4v4h-4zM274 583h4v4h-4zM286 583h4v4h-4zM338 583h4v4h-4zM118 587h4v4h-4zM146 587h4v4h-4zM186 587h4v4h-4zM210 587h4v4h-4zM242 587h4v4h-4zM274 587h4v4h-4zM374 587h4v4h-4zM250 591h4v4h-4zM258 591h4v4h-4zM338 591h4v4h-4zM330 595h4v4h-4zM126 599h4v4h-4zM142 599h4v4h-4zM170 599h4v4h-4zM174 599h4v4h-4zM306 599h4v4h-4zM334 599h4v4h-4zM342 599h4v4h-4zM134 603h4v4h-4zM262 603h4v4h-4zM342 603h4v4h-4zM362 603h4v4h-4zM94 607h4v4h-4zM234 607h4v4h-4zM278 607h4v4h-4zM298 607h4v4h-4zM134 611h4v4h-4zM202 611h4v4h-4zM274 611h4v4h-4zM290 611h4v4h-4zM294 611h4v4h-4zM154 615h4v4h-4zM198 615h4v4h-4zM86 619h4v4h-4zM130 623h4v4h-4zM158 623h4v4h-4zM186 623h4v4h-4zM214 627h4v4h-4zM270 627h4v4h-4zM330 627h4v4h-4zM250 631h4v4h-4zM262 631h4v4h-4zM286 631h4v4h-4zM338 635h4v4h-4zM134 639h4v4h-4zM250 639h4v4h-4zM370 639h4v4h-4zM154 643h4v4h-4zM186 643h4v4h-4zM338 643h4v4h-4zM98 647h4v4h-4zM150 647h4v4h-4zM170 647h4v4h-4zM194 647h4v4h-4zM246 647h4v4h-4zM338 647h4v4h-4zM374 647h4v4h-4zM110 651h4v4h-4zM190 651h4v4h-4zM286 651h4v4h-4z"/>
<path fill="rgb(36,36,36)" d="M94 359h4v4h-4zM138 359h4v4h-4zM258 359h4v4h-4zM354 359h4v4h-4zM134 363h4v4h-4zM138 363h4v4h-4zM250 363h4v4h-4zM142 367h4v4h-4zM158 367h4v4h-4zM186 367h4v4h-4zM226 367h4v4h-4zM246 367h4v4h-4zM326 367h4v4h-4zM142 371h4v4h-4zM278 371h4v4h-4zM294 371h4v4h-4zM362 371h4v4h-4zM114 375h4v4h-4zM282 375h4v4h-4zM322 375h4v4h-4zM334 375h4v4h-4zM106 379h4v4h-4zM110 379h4v4h-4zM210 379h4v4h-4zM262 379h4v4h-4zM350 379h4v4h-4zM94 383h4v4h-4zM98 383h4v4h-4zM238 383h4v4h-4zM262 383h4v4h-4zM266 383h4v4h-4zM298 383h4v4h-4zM322 383h4v4h-4zM126 387h4v4h-4zM154 387h4v4h-4zM222 387h4v4h-4zM102 391h4v4h-4zM118 391h4v4h-4zM214 391h4v4h-4zM266 391h4v4h-4zM302 391h4v4h-4zM126 395h4v4h-4zM114 399h4v4h-4zM134 399h4v4h-4zM190 399h4v4h-4zM162 403h4v4h-4zM98 407h4v4h-4zM110 407h4v4h-4zM134 407h4v4h-4zM174 407h4v4h-4zM178 407h4v4h-4zM186 407h4v4h-4zM194 407h4v4h-4zM98 411h4v4h-4zM178 411h4v4h-4zM238 411h4v4h-4zM326 411h4v4h-4zM354 411h4v4h-4zM362 411h4v4h-4zM98 415h4v4h-4zM162 415h4v4h-4zM186 415h4v4h-4zM298 415h4v4h-4zM302 415h4v4h-4zM318 415h4v4h-4zM354 415h4v4h-4zM142 419h4v4h-4zM146 419h4v4h-4zM206 419h4v4h-4zM210 419h4v4h-4zM106 423h4v4h-4zM202 423h4v4h-4zM214 423h4v4h-4zM294 423h4v4h-4zM318 423h4v4h-4zM114 427h4v4h-4zM194 427h4v4h-4zM202 427h4v4h-4zM242 427h4v4h-4zM310 427h4v4h-4zM318 427h4v4h-4zM322 427h4v4h-4zM102 431h4v4h-4zM110 431h4v4h-4zM130 431h4v4h-4zM194 431h4v4h-4zM198 431h4v4h-4zM362 435h4v4h-4zM194 439h4v4h-4zM226 439h4v4h-4zM262 439h4v4h-4zM278 439h4v4h-4zM106 443h4v4h-4zM210 443h4v4h-4zM286 443h4v4h-4zM326 443h4v4h-4zM174 447h4v4h-4zM258 447h4v4h-4zM294 447h4v4h-4zM310 447h4v4h-4zM114 451h4v4h-4zM182 451h4v4h-4zM218 451h4v4h-4zM222 451h4v4h-4zM354 451h4v4h-4zM366 451h4v4h-4zM90 455h4v4h-4zM182 455h4v4h-4zM214 455h4v4h-4zM366 455h4v4h-4zM234 459h4v4h-4zM310 459h4v4h-4zM90 463h4v4h-4zM118 463h4v4h-4zM190 463h4v4h-4zM198 463h4v4h-4zM218 463h4v4h-4zM226 463h4v4h-4zM322 463h4v4h-4zM162 467h4v4h-4zM178 467h4v4h-4zM182 467h4v4h-4zM190 467h4v4h-4zM210 467h4v4h-4zM214 467h4v4h-4zM346 467h4v4h-4zM98 471h4v4h-4zM122 471h4v4h-4zM126 471h4v4h-4zM150 471h4v4h-4zM222 471h4v4h-4zM286 471h4v4h-4zM310 471h4v4h-4zM118 475h4v4h-4zM254 475h4v4h-4zM370 475h4v4h-4zM134 479h4v4h-4zM142 479h4v4h-4zM198 479h4v4h-4zM218 479h4v4h-4zM242 479h4v4h-4zM262 479h4v4h-4zM270 479h4v4h-4zM274 479h4v4h-4zM334 479h4v4h-4zM338 479h4v4h-4zM342 479h4v4h-4zM118 483h4v4h-4zM306 483h4v4h-4zM322 483h4v4h-4zM330 483h4v4h-4zM366 483h4v4h-4zM162 487h4v4h-4zM206 487h4v4h-4zM250 487h4v4h-4zM266 487h4v4h-4zM162 491h4v4h-4zM346 491h4v4h-4zM94 495h4v4h-4zM106 495h4v4h-4zM110 495h4v4h-4zM118 495h4v4h-4zM318 495h4v4h-4zM94 499h4v4h-4zM102 499h4v4h-4zM110 499h4v4h-4zM254 499h4v4h-4zM346 499h4v4h-4zM358 499h4v4h-4zM154 503h4v4h-4zM174 503h4v4h-4zM318 503h4v4h-4zM338 503h4v4h-4zM90 507h4v4h-4zM130 507h4v4h-4zM146 507h4v4h-4zM206 507h4v4h-4zM258 507h4v4h-4zM270 507h4v4h-4zM334 507h4v4h-4zM90 511h4v4h-4zM130 511h4v4h-4zM146 511h4v4h-4zM246 511h4v4h-4zM262 511h4v4h-4zM114 515h4v4h-4zM130 515h4v4h-4zM150 515h4v4h-4zM226 515h4v4h-4zM246 515h4v4h-4zM270 515h4v4h-4zM278 515h4v4h-4zM134 519h4v4h-4zM154 519h4v4h-4zM190 519h4v4h-4zM282 519h4v4h-4zM298 519h4v4h-4zM326 519h4v4h-4zM334 519h4v4h-4zM94 523h4v4h-4zM142 523h4v4h-4zM210 523h4v4h-4zM286 523h4v4h-4zM294 523h4v4h-4zM314 523h4v4h-4zM358 523h4v4h-4zM126 527h4v4h-4zM158 527h4v4h-4zM190 531h4v4h-4zM306 531h4v4h-4zM358 531h4v4h-4zM142 535h4v4h-4zM198 535h4v4h-4zM246 535h4v4h-4zM370 535h4v4h-4zM122 539h4v4h-4zM150 539h4v4h-4zM246 539h4v4h-4zM266 539h4v4h-4zM94 543h4v4h-4zM178 543h4v4h-4zM246 543h4v4h-4zM298 543h4v4h-4zM106 547h4v4h-4zM166 547h4v4h-4zM234 547h4v4h-4zM342 547h4v4h-4zM218 551h4v4h-4zM242 551h4v4h-4zM290 551h4v4h-4zM134 555h4v4h-4zM178 555h4v4h-4zM254 555h4v4h-4zM354 555h4v4h-4zM102 559h4v4h-4zM138 559h4v4h-4zM182 559h4v4h-4zM286 559h4v4h-4zM158 563h4v4h-4zM170 563h4v4h-4zM210 563h4v4h-4zM266 563h4v4h-4zM286 563h4v4h-4zM306 563h4v4h-4zM346 563h4v4h-4zM86 567h4v4h-4zM238 567h4v4h-4zM286 567h4v4h-4zM298 567h4v4h-4zM314 567h4v4h-4zM362 567h4v4h-4zM326 571h4v4h-4zM358 571h4v4h-4zM222 575h4v4h-4zM262 575h4v4h-4zM314 575h4v4h-4zM318 575h4v4h-4zM330 575h4v4h-4zM174 579h4v4h-4zM226 579h4v4h-4zM258 579h4v4h-4zM130 583h4v4h-4zM182 583h4v4h-4zM238 583h4v4h-4zM326 583h4v4h-4zM102 587h4v4h-4zM206 587h4v4h-4zM286 587h4v4h-4zM98 591h4v4h-4zM182 591h4v4h-4zM186 591h4v4h-4zM242 591h4v4h-4zM266 591h4v4h-4zM358 591h4v4h-4zM102 595h4v4h-4zM146 595h4v4h-4zM250 595h4v4h-4zM254 595h4v4h-4zM362 595h4v4h-4zM226 599h4v4h-4zM362 599h4v4h-4zM374 599h4v4h-4zM154 603h4v4h-4zM206 603h4v4h-4zM266 603h4v4h-4zM270 603h4v4h-4zM118 607h4v4h-4zM130 607h4v4h-4zM246 607h4v4h-4zM262 607h4v4h-4zM266 607h4v4h-4zM350 607h4v4h-4zM110 611h4v4h-4zM118 611h4v4h-4zM122 611h4v4h-4zM222 611h4v4h-4zM330 611h4v4h-4zM354 611h4v4h-4zM358 611h4v4h-4zM98 615h4v4h-4zM202 615h4v4h-4zM238 615h4v4h-4zM318 615h4v4h-4zM330 615h4v4h-4zM110 619h4v4h-4zM134 619h4v4h-4zM206 619h4v4h-4zM302 619h4v4h-4zM306 619h4v4h-4zM314 619h4v4h-4zM326 619h4v4h-4zM346 619h4v4h-4zM362 619h4v4h-4zM106 623h4v4h-4zM182 623h4v4h-4zM226 623h4v4h-4zM302 623h4v4h-4zM318 623h4v4h-4zM106 627h4v4h-4zM202 627h4v4h-4zM334 627h4v4h-4zM362 627h4v4h-4zM154 631h4v4h-4zM182 631h4v4h-4zM230 631h4v4h-4zM238 631h4v4h-4zM246 631h4v4h-4zM254 631h4v4h-4zM282 631h4v4h-4zM354 631h4v4h-4zM250 635h4v4h-4zM102 639h4v4h-4zM182 639h4v4h-4zM226 639h4v4h-4zM282 639h4v4h-4zM314 639h4v4h-4zM322 639h4v4h-4zM350 639h4v4h-4zM378 639h4v4h-4zM170 643h4v4h-4zM194 643h4v4h-4zM258 643h4v4h-4zM262 643h4v4h-4zM294 643h4v4h-4zM318 643h4v4h-4zM350 643h4v4h-4zM114 647h4v4h-4zM206 647h4v4h-4zM210 647h4v4h-4zM218 647h4v4h-4zM350 647h4v4h-4zM166 651h4v4h-4zM210 651h4v4h-4zM230 651h4v4h-4z"/>
<path fill="rgb(40,40,40)" d="M110 359h4v4h-4zM158 359h4v4h-4zM242 359h4v4h-4zM326 359h4v4h-4zM330 359h4v4h-4zM358 359h4v4h-4zM370 359h4v4h-4zM98 363h4v4h-4zM146 363h4v4h-4zM274 363h4v4h-4zM334 363h4v4h-4zM374 363h4v4h-4zM166 367h4v4h-4zM346 367h4v4h-4zM378 367h4v4h-4zM94 371h4v4h-4zM146 371h4v4h-4zM242 371h4v4h-4zM282 371h4v4h-4zM310 371h4v4h-4zM342 371h4v4h-4zM90 375h4v4h-4zM110 375h4v4h-4zM266 375h4v4h-4zM338 375h4v4h-4zM342 375h4v4h-4zM102 379h4v4h-4zM118 379h4v4h-4zM174 379h4v4h-4zM230 379h4v4h-4zM286 379h4v4h-4zM362 379h4v4h-4zM142 383h4v4h-4zM154 383h4v4h-4zM318 383h4v4h-4zM334 383h4v4h-4zM350 383h4v4h-4zM90 387h4v4h-4zM110 387h4v4h-4zM158 387h4v4h-4zM162 387h4v4h-4zM278 387h4v4h-4zM282 387h4v4h-4zM318 387h4v4h-4zM142 391h4v4h-4zM114 395h4v4h-4zM190 395h4v4h-4zM194 395h4v4h-4zM230 395h4v4h-4zM222 399h4v4h-4zM242 399h4v4h-4zM290 399h4v4h-4zM166 403h4v4h-4zM182 403h4v4h-4zM202 403h4v4h-4zM198 407h4v4h-4zM210 407h4v4h-4zM218 407h4v4h-4zM350 407h4v4h-4zM114 411h4v4h-4zM258 411h4v4h-4zM146 415h4v4h-4zM154 415h4v4h-4zM190 415h4v4h-4zM250 415h4v4h-4zM350 415h4v4h-4zM130 419h4v4h-4zM218 419h4v4h-4zM378 419h4v4h-4zM134 423h4v4h-4zM178 423h4v4h-4zM326 423h4v4h-4zM102 427h4v4h-4zM206 427h4v4h-4zM226 427h4v4h-4zM306 427h4v4h-4zM134 431h4v4h-4zM146 431h4v4h-4zM202 431h4v4h-4zM286 431h4v4h-4zM366 431h4v4h-4zM90 435h4v4h-4zM118 435h4v4h-4zM134 435h4v4h-4zM198 435h4v4h-4zM366 435h4v4h-4zM378 435h4v4h-4zM238 439h4v4h-4zM314 439h4v4h-4zM334 439h4v4h-4zM366 439h4v4h-4zM158 443h4v4h-4zM294 443h4v4h-4zM374 443h4v4h-4zM98 447h4v4h-4zM102 447h4v4h-4zM170 447h4v4h-4zM86 451h4v4h-4zM142 451h4v4h-4zM150 451h4v4h-4zM190 451h4v4h-4zM170 455h4v4h-4zM186 455h4v4h-4zM222 455h4v4h-4zM262 455h4v4h-4zM86 459h4v4h-4zM130 459h4v4h-4zM134 459h4v4h-4zM290 459h4v4h-4zM330 459h4v4h-4zM362 459h4v4h-4zM86 463h4v4h-4zM294 463h4v4h-4zM158 467h4v4h-4zM318 467h4v4h-4zM354 467h4v4h-4zM138 471h4v4h-4zM182 471h4v4h-4zM270 471h4v4h-4zM322 471h4v4h-4zM342 471h4v4h-4zM98 475h4v4h-4zM218 475h4v4h-4zM226 475h4v4h-4zM266 475h4v4h-4zM270 475h4v4h-4zM306 475h4v4h-4zM366 475h4v4h-4zM162 479h4v4h-4zM214 479h4v4h-4zM222 479h4v4h-4zM258 479h4v4h-4zM266 479h4v4h-4zM278 479h4v4h-4zM298 479h4v4h-4zM302 479h4v4h-4zM322 479h4v4h-4zM122 483h4v4h-4zM138 483h4v4h-4zM142 483h4v4h-4zM146 483h4v4h-4zM270 483h4v4h-4zM278 483h4v4h-4zM370 483h4v4h-4zM130 487h4v4h-4zM254 487h4v4h-4zM282 487h4v4h-4zM94 491h4v4h-4zM106 491h4v4h-4zM210 491h4v4h-4zM86 495h4v4h-4zM138 495h4v4h-4zM266 499h4v4h-4zM270 499h4v4h-4zM342 499h4v4h-4zM350 499h4v4h-4zM354 499h4v4h-4zM362 499h4v4h-4zM118 503h4v4h-4zM130 503h4v4h-4zM190 503h4v4h-4zM246 503h4v4h-4zM250 503h4v4h-4zM270 503h4v4h-4zM342 503h4v4h-4zM94 507h4v4h-4zM106 507h4v4h-4zM190 507h4v4h-4zM166 511h4v4h-4zM302 511h4v4h-4zM322 511h4v4h-4zM338 511h4v4h-4zM358 511h4v4h-4zM106 515h4v4h-4zM110 515h4v4h-4zM134 515h4v4h-4zM234 515h4v4h-4zM250 515h4v4h-4zM274 515h4v4h-4zM282 515h4v4h-4zM314 515h4v4h-4zM98 519h4v4h-4zM106 519h4v4h-4zM202 519h4v4h-4zM270 519h4v4h-4zM274 519h4v4h-4zM278 519h4v4h-4zM286 519h4v4h-4zM98 523h4v4h-4zM130 523h4v4h-4zM154 523h4v4h-4zM226 523h4v4h-4zM322 523h4v4h-4zM350 523h4v4h-4zM86 527h4v4h-4zM134 527h4v4h-4zM310 527h4v4h-4zM126 531h4v4h-4zM254 531h4v4h-4zM262 531h4v4h-4zM270 531h4v4h-4zM290 531h4v4h-4zM338 531h4v4h-4zM374 531h4v4h-4zM162 535h4v4h-4zM166 535h4v4h-4zM282 535h4v4h-4zM286 535h4v4h-4zM330 535h4v4h-4zM362 535h4v4h-4zM118 539h4v4h-4zM218 539h4v4h-4zM262 539h4v4h-4zM330 539h4v4h-4zM334 539h4v4h-4zM370 539h4v4h-4zM114 543h4v4h-4zM150 543h4v4h-4zM186 543h4v4h-4zM286 543h4v4h-4zM334 543h4v4h-4zM118 547h4v4h-4zM270 547h4v4h-4zM278 547h4v4h-4zM354 551h4v4h-4zM122 555h4v4h-4zM142 555h4v4h-4zM154 555h4v4h-4zM186 555h4v4h-4zM206 555h4v4h-4zM218 555h4v4h-4zM230 555h4v4h-4zM238 555h4v4h-4zM246 555h4v4h-4zM302 555h4v4h-4zM310 555h4v4h-4zM326 555h4v4h-4zM350 555h4v4h-4zM90 559h4v4h-4zM130 559h4v4h-4zM214 559h4v4h-4zM282 559h4v4h-4zM298 559h4v4h-4zM314 559h4v4h-4zM374 559h4v4h-4zM106 563h4v4h-4zM114 563h4v4h-4zM302 563h4v4h-4zM334 563h4v4h-4zM354 563h4v4h-4zM114 567h4v4h-4zM146 567h4v4h-4zM162 567h4v4h-4zM318 567h4v4h-4zM174 571h4v4h-4zM258 571h4v4h-4zM350 571h4v4h-4zM362 571h4v4h-4zM146 575h4v4h-4zM310 575h4v4h-4zM98 579h4v4h-4zM214 579h4v4h-4zM242 579h4v4h-4zM246 579h4v4h-4zM298 579h4v4h-4zM150 583h4v4h-4zM190 583h4v4h-4zM302 583h4v4h-4zM310 583h4v4h-4zM178 587h4v4h-4zM182 587h4v4h-4zM198 587h4v4h-4zM202 587h4v4h-4zM230 587h4v4h-4zM258 587h4v4h-4zM278 587h4v4h-4zM378 587h4v4h-4zM146 591h4v4h-4zM178 591h4v4h-4zM306 591h4v4h-4zM374 591h4v4h-4zM118 595h4v4h-4zM158 595h4v4h-4zM198 595h4v4h-4zM266 595h4v4h-4zM306 595h4v4h-4zM314 595h4v4h-4zM106 599h4v4h-4zM110 599h4v4h-4zM258 599h4v4h-4zM114 603h4v4h-4zM274 603h4v4h-4zM294 603h4v4h-4zM334 603h4v4h-4zM350 603h4v4h-4zM374 603h4v4h-4zM114 607h4v4h-4zM122 607h4v4h-4zM170 607h4v4h-4zM186 607h4v4h-4zM218 607h4v4h-4zM230 607h4v4h-4zM282 607h4v4h-4zM290 607h4v4h-4zM354 607h4v4h-4zM358 607h4v4h-4zM374 607h4v4h-4zM378 607h4v4h-4zM158 611h4v4h-4zM198 611h4v4h-4zM122 615h4v4h-4zM130 615h4v4h-4zM178 615h4v4h-4zM230 615h4v4h-4zM234 615h4v4h-4zM242 615h4v4h-4zM274 615h4v4h-4zM346 615h4v4h-4zM94 619h4v4h-4zM270 619h4v4h-4zM342 619h4v4h-4zM350 619h4v4h-4zM178 623h4v4h-4zM198 623h4v4h-4zM210 623h4v4h-4zM290 623h4v4h-4zM378 623h4v4h-4zM158 627h4v4h-4zM182 627h4v4h-4zM266 627h4v4h-4zM278 627h4v4h-4zM290 627h4v4h-4zM294 627h4v4h-4zM174 631h4v4h-4zM318 631h4v4h-4zM338 631h4v4h-4zM138 635h4v4h-4zM230 635h4v4h-4zM246 635h4v4h-4zM258 635h4v4h-4zM262 635h4v4h-4zM318 635h4v4h-4zM334 635h4v4h-4zM362 635h4v4h-4zM106 639h4v4h-4zM142 639h4v4h-4zM374 639h4v4h-4zM174 643h4v4h-4zM222 643h4v4h-4zM226 643h4v4h-4zM326 643h4v4h-4zM158 647h4v4h-4zM222 647h4v4h-4zM250 647h4v4h-4zM326 647h4v4h-4zM94 651h4v4h-4zM102 651h4v4h-4zM146 651h4v4h-4zM162 651h4v4h-4zM226 651h4v4h-4zM266 651h4v4h-4zM334 651h4v4h-4zM354 651h4v4h-4zM362 651h4v4h-4z"/>
<path fill="rgb(44,44,44)" d="M86 359h4v4h-4zM118 359h4v4h-4zM334 359h4v4h-4zM142 363h4v4h-4zM154 363h4v4h-4zM202 363h4v4h-4zM226 363h4v4h-4zM230 363h4v4h-4zM262 363h4v4h-4zM310 363h4v4h-4zM322 363h4v4h-4zM354 363h4v4h-4zM370 363h4v4h-4zM146 367h4v4h-4zM154 367h4v4h-4zM358 367h4v4h-4zM218 371h4v4h-4zM238 371h4v4h-4zM306 375h4v4h-4zM86 379h4v4h-4zM182 379h4v4h-4zM242 379h4v4h-4zM318 379h4v4h-4zM334 379h4v4h-4zM338 379h4v4h-4zM342 379h4v4h-4zM90 383h4v4h-4zM106 383h4v4h-4zM110 383h4v4h-4zM130 383h4v4h-4zM286 383h4v4h-4zM326 383h4v4h-4zM338 383h4v4h-4zM366 383h4v4h-4zM166 387h4v4h-4zM190 387h4v4h-4zM218 387h4v4h-4zM234 387h4v4h-4zM274 387h4v4h-4zM298 387h4v4h-4zM122 391h4v4h-4zM150 391h4v4h-4zM234 391h4v4h-4zM274 391h4v4h-4zM278 391h4v4h-4zM362 391h4v4h-4zM154 395h4v4h-4zM318 395h4v4h-4zM358 395h4v4h-4zM226 399h4v4h-4zM246 399h4v4h-4zM94 403h4v4h-4zM222 403h4v4h-4zM142 407h4v4h-4zM214 407h4v4h-4zM330 407h4v4h-4zM354 407h4v4h-4zM90 411h4v4h-4zM162 411h4v4h-4zM230 411h4v4h-4zM234 411h4v4h-4zM250 411h4v4h-4zM298 411h4v4h-4zM350 411h4v4h-4zM222 415h4v4h-4zM242 415h4v4h-4zM338 415h4v4h-4zM358 415h4v4h-4zM126 419h4v4h-4zM158 419h4v4h-4zM170 419h4v4h-4zM254 419h4v4h-4zM350 419h4v4h-4zM130 423h4v4h-4zM194 423h4v4h-4zM306 423h4v4h-4zM310 423h4v4h-4zM370 423h4v4h-4zM378 423h4v4h-4zM158 427h4v4h-4zM166 427h4v4h-4zM174 427h4v4h-4zM314 427h4v4h-4zM330 427h4v4h-4zM370 427h4v4h-4zM106 431h4v4h-4zM122 431h4v4h-4zM182 431h4v4h-4zM210 431h4v4h-4zM242 431h4v4h-4zM258 431h4v4h-4zM190 435h4v4h-4zM194 435h4v4h-4zM282 435h4v4h-4zM290 435h4v4h-4zM94 439h4v4h-4zM110 439h4v4h-4zM150 439h4v4h-4zM154 439h4v4h-4zM174 439h4v4h-4zM286 439h4v4h-4zM310 439h4v4h-4zM102 443h4v4h-4zM198 443h4v4h-4zM250 443h4v4h-4zM298 443h4v4h-4zM90 447h4v4h-4zM90 451h4v4h-4zM110 451h4v4h-4zM170 451h4v4h-4zM210 451h4v4h-4zM234 451h4v4h-4zM298 451h4v4h-4zM318 451h4v4h-4zM338 451h4v4h-4zM146 455h4v4h-4zM278 455h4v4h-4zM342 455h4v4h-4zM350 455h4v4h-4zM358 455h4v4h-4zM126 459h4v4h-4zM146 459h4v4h-4zM266 459h4v4h-4zM278 459h4v4h-4zM334 459h4v4h-4zM90 467h4v4h-4zM186 467h4v4h-4zM226 467h4v4h-4zM282 467h4v4h-4zM290 467h4v4h-4zM294 467h4v4h-4zM322 467h4v4h-4zM122 475h4v4h-4zM126 475h4v4h-4zM142 475h4v4h-4zM154 475h4v4h-4zM222 475h4v4h-4zM246 475h4v4h-4zM250 475h4v4h-4zM258 475h4v4h-4zM302 475h4v4h-4zM310 475h4v4h-4zM130 479h4v4h-4zM138 479h4v4h-4zM146 479h4v4h-4zM186 479h4v4h-4zM250 479h4v4h-4zM330 479h4v4h-4zM102 483h4v4h-4zM126 483h4v4h-4zM182 483h4v4h-4zM198 483h4v4h-4zM206 483h4v4h-4zM374 483h4v4h-4zM182 487h4v4h-4zM302 487h4v4h-4zM374 487h4v4h-4zM118 491h4v4h-4zM262 491h4v4h-4zM350 491h4v4h-4zM358 491h4v4h-4zM142 495h4v4h-4zM162 495h4v4h-4zM326 495h4v4h-4zM350 495h4v4h-4zM98 499h4v4h-4zM114 499h4v4h-4zM138 499h4v4h-4zM318 499h4v4h-4zM326 499h4v4h-4zM366 499h4v4h-4zM370 499h4v4h-4zM142 503h4v4h-4zM166 503h4v4h-4zM198 503h4v4h-4zM278 503h4v4h-4zM314 503h4v4h-4zM346 503h4v4h-4zM102 507h4v4h-4zM154 507h4v4h-4zM162 507h4v4h-4zM166 507h4v4h-4zM174 507h4v4h-4zM230 507h4v4h-4zM234 507h4v4h-4zM246 507h4v4h-4zM350 507h4v4h-4zM154 511h4v4h-4zM186 511h4v4h-4zM202 511h4v4h-4zM214 511h4v4h-4zM218 511h4v4h-4zM354 511h4v4h-4zM158 515h4v4h-4zM170 515h4v4h-4zM186 515h4v4h-4zM298 515h4v4h-4zM322 515h4v4h-4zM338 515h4v4h-4zM102 519h4v4h-4zM158 519h4v4h-4zM166 519h4v4h-4zM170 519h4v4h-4zM234 519h4v4h-4zM246 523h4v4h-4zM298 523h4v4h-4zM178 527h4v4h-4zM186 527h4v4h-4zM202 527h4v4h-4zM294 527h4v4h-4zM342 527h4v4h-4zM110 531h4v4h-4zM166 531h4v4h-4zM186 531h4v4h-4zM330 531h4v4h-4zM342 531h4v4h-4zM126 535h4v4h-4zM138 535h4v4h-4zM250 535h4v4h-4zM158 539h4v4h-4zM234 539h4v4h-4zM254 539h4v4h-4zM286 539h4v4h-4zM306 539h4v4h-4zM346 539h4v4h-4zM358 539h4v4h-4zM90 543h4v4h-4zM118 543h4v4h-4zM266 543h4v4h-4zM290 543h4v4h-4zM90 547h4v4h-4zM94 547h4v4h-4zM114 547h4v4h-4zM146 547h4v4h-4zM366 547h4v4h-4zM118 551h4v4h-4zM142 551h4v4h-4zM234 551h4v4h-4zM266 551h4v4h-4zM106 555h4v4h-4zM126 555h4v4h-4zM182 555h4v4h-4zM242 555h4v4h-4zM190 559h4v4h-4zM162 563h4v4h-4zM326 563h4v4h-4zM134 567h4v4h-4zM174 567h4v4h-4zM186 567h4v4h-4zM326 567h4v4h-4zM358 567h4v4h-4zM182 571h4v4h-4zM270 571h4v4h-4zM314 571h4v4h-4zM318 571h4v4h-4zM374 571h4v4h-4zM246 575h4v4h-4zM270 575h4v4h-4zM366 579h4v4h-4zM178 583h4v4h-4zM278 583h4v4h-4zM322 583h4v4h-4zM330 583h4v4h-4zM154 587h4v4h-4zM174 587h4v4h-4zM190 587h4v4h-4zM250 587h4v4h-4zM306 587h4v4h-4zM322 587h4v4h-4zM330 587h4v4h-4zM114 591h4v4h-4zM142 591h4v4h-4zM150 591h4v4h-4zM166 591h4v4h-4zM210 591h4v4h-4zM274 591h4v4h-4zM278 591h4v4h-4zM142 595h4v4h-4zM162 595h4v4h-4zM174 595h4v4h-4zM286 595h4v4h-4zM118 599h4v4h-4zM122 599h4v4h-4zM186 599h4v4h-4zM326 599h4v4h-4zM378 599h4v4h-4zM98 603h4v4h-4zM102 603h4v4h-4zM126 603h4v4h-4zM138 603h4v4h-4zM150 603h4v4h-4zM198 603h4v4h-4zM250 603h4v4h-4zM318 603h4v4h-4zM154 607h4v4h-4zM158 607h4v4h-4zM286 607h4v4h-4zM294 607h4v4h-4zM310 607h4v4h-4zM154 611h4v4h-4zM94 615h4v4h-4zM106 615h4v4h-4zM134 615h4v4h-4zM246 615h4v4h-4zM342 615h4v4h-4zM106 619h4v4h-4zM218 619h4v4h-4zM226 619h4v4h-4zM310 619h4v4h-4zM358 619h4v4h-4zM286 623h4v4h-4zM342 623h4v4h-4zM350 623h4v4h-4zM86 627h4v4h-4zM178 627h4v4h-4zM370 627h4v4h-4zM306 631h4v4h-4zM254 635h4v4h-4zM306 635h4v4h-4zM322 635h4v4h-4zM326 635h4v4h-4zM350 635h4v4h-4zM178 639h4v4h-4zM258 639h4v4h-4zM298 639h4v4h-4zM310 639h4v4h-4zM330 639h4v4h-4zM366 639h4v4h-4zM206 643h4v4h-4zM190 647h4v4h-4zM254 647h4v4h-4zM218 651h4v4h-4z"/>
<path fill="rgb(48,48,48)" d="M130 363h4v4h-4zM158 363h4v4h-4zM186 363h4v4h-4zM234 363h4v4h-4zM290 363h4v4h-4zM326 363h4v4h-4zM278 367h4v4h-4zM90 371h4v4h-4zM254 371h4v4h-4zM314 371h4v4h-4zM322 371h4v4h-4zM122 375h4v4h-4zM130 375h4v4h-4zM246 375h4v4h-4zM258 375h4v4h-4zM222 379h4v4h-4zM330 379h4v4h-4zM346 379h4v4h-4zM374 379h4v4h-4zM86 383h4v4h-4zM102 383h4v4h-4zM290 383h4v4h-4zM358 383h4v4h-4zM106 387h4v4h-4zM226 387h4v4h-4zM270 387h4v4h-4zM366 387h4v4h-4zM90 391h4v4h-4zM106 391h4v4h-4zM146 391h4v4h-4zM298 391h4v4h-4zM134 395h4v4h-4zM274 395h4v4h-4zM294 395h4v4h-4zM310 395h4v4h-4zM158 399h4v4h-4zM178 399h4v4h-4zM294 399h4v4h-4zM318 399h4v4h-4zM342 399h4v4h-4zM130 403h4v4h-4zM158 403h4v4h-4zM330 403h4v4h-4zM378 403h4v4h-4zM86 407h4v4h-4zM182 407h4v4h-4zM274 407h4v4h-4zM286 407h4v4h-4zM346 407h4v4h-4zM130 411h4v4h-4zM154 411h4v4h-4zM202 411h4v4h-4zM334 411h4v4h-4zM378 411h4v4h-4zM210 415h4v4h-4zM218 415h4v4h-4zM226 415h4v4h-4zM230 415h4v4h-4zM234 415h4v4h-4zM314 415h4v4h-4zM334 415h4v4h-4zM362 415h4v4h-4zM122 419h4v4h-4zM166 419h4v4h-4zM202 419h4v4h-4zM222 419h4v4h-4zM290 419h4v4h-4zM346 419h4v4h-4zM362 419h4v4h-4zM110 423h4v4h-4zM126 423h4v4h-4zM158 423h4v4h-4zM226 423h4v4h-4zM254 423h4v4h-4zM338 423h4v4h-4zM358 423h4v4h-4zM122 427h4v4h-4zM214 427h4v4h-4zM294 427h4v4h-4zM354 427h4v4h-4zM302 431h4v4h-4zM102 435h4v4h-4zM126 435h4v4h-4zM206 435h4v4h-4zM262 435h4v4h-4zM266 435h4v4h-4zM286 435h4v4h-4zM90 439h4v4h-4zM190 439h4v4h-4zM218 439h4v4h-4zM282 439h4v4h-4zM294 439h4v4h-4zM306 439h4v4h-4zM90 443h4v4h-4zM334 443h4v4h-4zM106 447h4v4h-4zM130 447h4v4h-4zM182 447h4v4h-4zM194 447h4v4h-4zM274 447h4v4h-4zM354 447h4v4h-4zM174 451h4v4h-4zM178 451h4v4h-4zM194 451h4v4h-4zM206 451h4v4h-4zM346 451h4v4h-4zM106 455h4v4h-4zM154 455h4v4h-4zM174 455h4v4h-4zM178 455h4v4h-4zM210 455h4v4h-4zM310 455h4v4h-4zM98 459h4v4h-4zM222 459h4v4h-4zM210 463h4v4h-4zM266 463h4v4h-4zM122 467h4v4h-4zM126 467h4v4h-4zM286 467h4v4h-4zM306 467h4v4h-4zM350 467h4v4h-4zM374 467h4v4h-4zM102 471h4v4h-4zM106 471h4v4h-4zM142 471h4v4h-4zM202 471h4v4h-4zM226 471h4v4h-4zM314 471h4v4h-4zM374 471h4v4h-4zM158 475h4v4h-4zM274 475h4v4h-4zM342 475h4v4h-4zM346 475h4v4h-4zM378 475h4v4h-4zM126 479h4v4h-4zM166 479h4v4h-4zM350 479h4v4h-4zM370 479h4v4h-4zM210 483h4v4h-4zM310 483h4v4h-4zM342 483h4v4h-4zM122 487h4v4h-4zM126 487h4v4h-4zM258 487h4v4h-4zM274 487h4v4h-4zM306 487h4v4h-4zM322 487h4v4h-4zM342 487h4v4h-4zM350 487h4v4h-4zM378 487h4v4h-4zM86 491h4v4h-4zM90 491h4v4h-4zM134 491h4v4h-4zM178 491h4v4h-4zM306 491h4v4h-4zM318 491h4v4h-4zM114 495h4v4h-4zM134 495h4v4h-4zM198 495h4v4h-4zM250 495h4v4h-4zM262 495h4v4h-4zM274 495h4v4h-4zM354 495h4v4h-4zM378 495h4v4h-4zM106 499h4v4h-4zM186 499h4v4h-4zM262 499h4v4h-4zM282 499h4v4h-4zM374 499h4v4h-4zM378 499h4v4h-4zM138 503h4v4h-4zM158 503h4v4h-4zM162 503h4v4h-4zM186 503h4v4h-4zM374 503h4v4h-4zM98 507h4v4h-4zM210 507h4v4h-4zM254 507h4v4h-4zM150 511h4v4h-4zM234 511h4v4h-4zM238 511h4v4h-4zM266 511h4v4h-4zM270 511h4v4h-4zM294 511h4v4h-4zM362 511h4v4h-4zM378 511h4v4h-4zM90 515h4v4h-4zM146 515h4v4h-4zM354 515h4v4h-4zM94 519h4v4h-4zM114 519h4v4h-4zM130 519h4v4h-4zM198 519h4v4h-4zM246 519h4v4h-4zM262 519h4v4h-4zM310 519h4v4h-4zM126 523h4v4h-4zM190 523h4v4h-4zM234 523h4v4h-4zM250 523h4v4h-4zM174 527h4v4h-4zM210 527h4v4h-4zM134 531h4v4h-4zM246 531h4v4h-4zM334 531h4v4h-4zM370 531h4v4h-4zM226 535h4v4h-4zM274 535h4v4h-4zM194 539h4v4h-4zM210 539h4v4h-4zM250 539h4v4h-4zM350 539h4v4h-4zM86 543h4v4h-4zM190 543h4v4h-4zM270 543h4v4h-4zM162 547h4v4h-4zM294 547h4v4h-4zM302 547h4v4h-4zM134 551h4v4h-4zM162 551h4v4h-4zM174 551h4v4h-4zM194 551h4v4h-4zM350 551h4v4h-4zM198 555h4v4h-4zM202 555h4v4h-4zM106 559h4v4h-4zM230 559h4v4h-4zM110 563h4v4h-4zM118 563h4v4h-4zM126 563h4v4h-4zM150 563h4v4h-4zM190 563h4v4h-4zM218 563h4v4h-4zM330 563h4v4h-4zM102 567h4v4h-4zM278 567h4v4h-4zM334 567h4v4h-4zM134 571h4v4h-4zM154 571h4v4h-4zM166 571h4v4h-4zM238 571h4v4h-4zM274 571h4v4h-4zM142 575h4v4h-4zM166 575h4v4h-4zM142 579h4v4h-4zM146 579h4v4h-4zM150 579h4v4h-4zM234 579h4v4h-4zM274 579h4v4h-4zM278 579h4v4h-4zM286 579h4v4h-4zM310 579h4v4h-4zM98 583h4v4h-4zM146 583h4v4h-4zM194 583h4v4h-4zM298 583h4v4h-4zM98 587h4v4h-4zM194 587h4v4h-4zM262 587h4v4h-4zM338 587h4v4h-4zM110 591h4v4h-4zM154 591h4v4h-4zM262 591h4v4h-4zM270 591h4v4h-4zM370 591h4v4h-4zM102 599h4v4h-4zM310 599h4v4h-4zM366 599h4v4h-4zM118 603h4v4h-4zM166 603h4v4h-4zM194 603h4v4h-4zM218 603h4v4h-4zM226 603h4v4h-4zM242 603h4v4h-4zM246 603h4v4h-4zM258 603h4v4h-4zM306 603h4v4h-4zM346 603h4v4h-4zM138 607h4v4h-4zM182 607h4v4h-4zM326 607h4v4h-4zM330 607h4v4h-4zM114 611h4v4h-4zM126 611h4v4h-4zM130 611h4v4h-4zM174 611h4v4h-4zM262 611h4v4h-4zM350 611h4v4h-4zM110 615h4v4h-4zM358 615h4v4h-4zM114 619h4v4h-4zM178 619h4v4h-4zM198 619h4v4h-4zM246 619h4v4h-4zM266 619h4v4h-4zM138 623h4v4h-4zM222 623h4v4h-4zM230 623h4v4h-4zM266 623h4v4h-4zM298 623h4v4h-4zM362 623h4v4h-4zM90 627h4v4h-4zM186 627h4v4h-4zM194 627h4v4h-4zM246 627h4v4h-4zM86 631h4v4h-4zM98 631h4v4h-4zM102 631h4v4h-4zM110 631h4v4h-4zM138 631h4v4h-4zM310 631h4v4h-4zM314 631h4v4h-4zM94 635h4v4h-4zM98 635h4v4h-4zM314 635h4v4h-4zM358 635h4v4h-4zM366 635h4v4h-4zM86 639h4v4h-4zM90 639h4v4h-4zM86 643h4v4h-4zM250 643h4v4h-4zM342 643h4v4h-4zM358 643h4v4h-4zM362 643h4v4h-4zM366 643h4v4h-4zM374 643h4v4h-4zM214 647h4v4h-4zM230 647h4v4h-4zM358 647h4v4h-4zM362 647h4v4h-4zM306 651h4v4h-4zM330 651h4v4h-4z"/>
<path fill="rgb(52,52,52)" d="M146 359h4v4h-4zM186 359h4v4h-4zM266 359h4v4h-4zM270 359h4v4h-4zM306 359h4v4h-4zM318 359h4v4h-4zM134 367h4v4h-4zM174 367h4v4h-4zM266 367h4v4h-4zM282 367h4v4h-4zM322 367h4v4h-4zM106 371h4v4h-4zM182 371h4v4h-4zM210 371h4v4h-4zM250 371h4v4h-4zM258 371h4v4h-4zM86 375h4v4h-4zM118 375h4v4h-4zM162 375h4v4h-4zM182 375h4v4h-4zM206 375h4v4h-4zM346 375h4v4h-4zM186 379h4v4h-4zM222 383h4v4h-4zM230 383h4v4h-4zM294 383h4v4h-4zM314 383h4v4h-4zM354 383h4v4h-4zM130 387h4v4h-4zM142 387h4v4h-4zM178 387h4v4h-4zM290 387h4v4h-4zM338 387h4v4h-4zM154 391h4v4h-4zM186 391h4v4h-4zM158 395h4v4h-4zM214 395h4v4h-4zM122 399h4v4h-4zM130 399h4v4h-4zM154 399h4v4h-4zM254 399h4v4h-4zM370 399h4v4h-4zM378 399h4v4h-4zM110 403h4v4h-4zM118 403h4v4h-4zM154 403h4v4h-4zM198 403h4v4h-4zM210 403h4v4h-4zM218 403h4v4h-4zM226 403h4v4h-4zM230 403h4v4h-4zM294 403h4v4h-4zM118 407h4v4h-4zM158 407h4v4h-4zM314 407h4v4h-4zM362 407h4v4h-4zM182 411h4v4h-4zM310 411h4v4h-4zM322 411h4v4h-4zM338 411h4v4h-4zM130 415h4v4h-4zM158 415h4v4h-4zM206 415h4v4h-4zM306 415h4v4h-4zM94 419h4v4h-4zM186 419h4v4h-4zM310 419h4v4h-4zM334 419h4v4h-4zM338 419h4v4h-4zM358 419h4v4h-4zM102 423h4v4h-4zM334 423h4v4h-4zM346 423h4v4h-4zM134 427h4v4h-4zM146 427h4v4h-4zM182 427h4v4h-4zM186 427h4v4h-4zM326 427h4v4h-4zM342 427h4v4h-4zM374 427h4v4h-4zM142 431h4v4h-4zM266 431h4v4h-4zM342 431h4v4h-4zM130 435h4v4h-4zM86 439h4v4h-4zM98 439h4v4h-4zM102 439h4v4h-4zM106 439h4v4h-4zM370 439h4v4h-4zM226 443h4v4h-4zM234 443h4v4h-4zM250 447h4v4h-4zM306 447h4v4h-4zM118 451h4v4h-4zM186 451h4v4h-4zM214 451h4v4h-4zM226 451h4v4h-4zM262 451h4v4h-4zM378 451h4v4h-4zM86 455h4v4h-4zM130 455h4v4h-4zM166 455h4v4h-4zM206 455h4v4h-4zM302 455h4v4h-4zM186 459h4v4h-4zM198 459h4v4h-4zM210 459h4v4h-4zM262 459h4v4h-4zM282 459h4v4h-4zM302 459h4v4h-4zM122 463h4v4h-4zM126 463h4v4h-4zM214 463h4v4h-4zM222 463h4v4h-4zM250 463h4v4h-4zM150 467h4v4h-4zM310 467h4v4h-4zM110 471h4v4h-4zM338 471h4v4h-4zM286 475h4v4h-4zM98 479h4v4h-4zM122 479h4v4h-4zM194 479h4v4h-4zM346 479h4v4h-4zM110 487h4v4h-4zM278 487h4v4h-4zM102 491h4v4h-4zM90 495h4v4h-4zM218 495h4v4h-4zM366 495h4v4h-4zM118 499h4v4h-4zM122 499h4v4h-4zM162 499h4v4h-4zM182 499h4v4h-4zM194 499h4v4h-4zM198 499h4v4h-4zM222 499h4v4h-4zM242 499h4v4h-4zM114 503h4v4h-4zM134 503h4v4h-4zM146 503h4v4h-4zM150 507h4v4h-4zM158 507h4v4h-4zM186 507h4v4h-4zM202 507h4v4h-4zM250 507h4v4h-4zM274 507h4v4h-4zM158 511h4v4h-4zM182 511h4v4h-4zM190 511h4v4h-4zM230 511h4v4h-4zM242 511h4v4h-4zM254 511h4v4h-4zM258 511h4v4h-4zM290 511h4v4h-4zM314 511h4v4h-4zM238 515h4v4h-4zM346 515h4v4h-4zM350 515h4v4h-4zM314 519h4v4h-4zM102 523h4v4h-4zM158 523h4v4h-4zM198 523h4v4h-4zM206 523h4v4h-4zM274 523h4v4h-4zM326 523h4v4h-4zM346 523h4v4h-4zM206 527h4v4h-4zM230 527h4v4h-4zM246 527h4v4h-4zM254 527h4v4h-4zM262 527h4v4h-4zM142 531h4v4h-4zM170 531h4v4h-4zM182 531h4v4h-4zM274 531h4v4h-4zM350 531h4v4h-4zM230 535h4v4h-4zM306 535h4v4h-4zM202 539h4v4h-4zM354 539h4v4h-4zM182 543h4v4h-4zM110 547h4v4h-4zM106 551h4v4h-4zM130 551h4v4h-4zM166 551h4v4h-4zM170 551h4v4h-4zM190 551h4v4h-4zM298 551h4v4h-4zM166 555h4v4h-4zM170 555h4v4h-4zM314 555h4v4h-4zM362 555h4v4h-4zM98 559h4v4h-4zM142 559h4v4h-4zM146 559h4v4h-4zM162 559h4v4h-4zM194 559h4v4h-4zM350 559h4v4h-4zM134 563h4v4h-4zM118 567h4v4h-4zM170 567h4v4h-4zM202 567h4v4h-4zM330 567h4v4h-4zM138 575h4v4h-4zM158 575h4v4h-4zM202 575h4v4h-4zM242 575h4v4h-4zM250 575h4v4h-4zM290 575h4v4h-4zM202 579h4v4h-4zM250 579h4v4h-4zM282 579h4v4h-4zM334 579h4v4h-4zM250 583h4v4h-4zM362 583h4v4h-4zM94 587h4v4h-4zM170 587h4v4h-4zM290 587h4v4h-4zM318 587h4v4h-4zM94 591h4v4h-4zM102 591h4v4h-4zM206 591h4v4h-4zM330 591h4v4h-4zM334 591h4v4h-4zM186 595h4v4h-4zM346 595h4v4h-4zM350 595h4v4h-4zM358 595h4v4h-4zM374 595h4v4h-4zM266 599h4v4h-4zM286 599h4v4h-4zM142 603h4v4h-4zM146 603h4v4h-4zM202 603h4v4h-4zM302 603h4v4h-4zM322 603h4v4h-4zM126 607h4v4h-4zM314 607h4v4h-4zM334 607h4v4h-4zM150 611h4v4h-4zM158 615h4v4h-4zM222 615h4v4h-4zM226 615h4v4h-4zM350 615h4v4h-4zM122 619h4v4h-4zM158 619h4v4h-4zM170 619h4v4h-4zM230 619h4v4h-4zM354 619h4v4h-4zM86 623h4v4h-4zM134 623h4v4h-4zM162 631h4v4h-4zM194 631h4v4h-4zM298 631h4v4h-4zM302 631h4v4h-4zM342 631h4v4h-4zM350 631h4v4h-4zM366 631h4v4h-4zM122 635h4v4h-4zM282 635h4v4h-4zM330 635h4v4h-4zM146 639h4v4h-4zM278 639h4v4h-4zM326 639h4v4h-4zM90 643h4v4h-4zM158 643h4v4h-4zM182 643h4v4h-4zM302 643h4v4h-4zM346 643h4v4h-4zM370 643h4v4h-4zM378 643h4v4h-4zM174 647h4v4h-4zM306 647h4v4h-4zM342 647h4v4h-4zM186 651h4v4h-4zM298 651h4v4h-4zM326 651h4v4h-4zM358 651h4v4h-4zM374 651h4v4h-4z"/>
<path fill="rgb(56,56,56)" d="M90 359h4v4h-4zM274 359h4v4h-4zM314 359h4v4h-4zM86 363h4v4h-4zM110 363h4v4h-4zM114 363h4v4h-4zM254 363h4v4h-4zM258 363h4v4h-4zM278 363h4v4h-4zM318 363h4v4h-4zM98 367h4v4h-4zM202 367h4v4h-4zM222 367h4v4h-4zM258 367h4v4h-4zM318 367h4v4h-4zM370 367h4v4h-4zM102 371h4v4h-4zM206 371h4v4h-4zM214 375h4v4h-4zM250 375h4v4h-4zM298 375h4v4h-4zM318 375h4v4h-4zM362 375h4v4h-4zM90 379h4v4h-4zM206 379h4v4h-4zM190 383h4v4h-4zM206 383h4v4h-4zM210 383h4v4h-4zM226 383h4v4h-4zM274 383h4v4h-4zM330 383h4v4h-4zM370 383h4v4h-4zM194 387h4v4h-4zM246 387h4v4h-4zM258 387h4v4h-4zM262 387h4v4h-4zM330 387h4v4h-4zM334 387h4v4h-4zM182 391h4v4h-4zM210 391h4v4h-4zM230 391h4v4h-4zM294 391h4v4h-4zM86 395h4v4h-4zM278 395h4v4h-4zM338 395h4v4h-4zM118 399h4v4h-4zM206 399h4v4h-4zM230 399h4v4h-4zM358 399h4v4h-4zM374 399h4v4h-4zM90 403h4v4h-4zM178 403h4v4h-4zM214 403h4v4h-4zM318 403h4v4h-4zM138 407h4v4h-4zM222 407h4v4h-4zM226 407h4v4h-4zM326 407h4v4h-4zM170 411h4v4h-4zM194 411h4v4h-4zM206 411h4v4h-4zM374 411h4v4h-4zM110 415h4v4h-4zM114 415h4v4h-4zM118 415h4v4h-4zM134 415h4v4h-4zM238 415h4v4h-4zM342 415h4v4h-4zM378 415h4v4h-4zM110 419h4v4h-4zM178 419h4v4h-4zM342 419h4v4h-4zM182 423h4v4h-4zM186 423h4v4h-4zM314 423h4v4h-4zM94 427h4v4h-4zM138 427h4v4h-4zM298 427h4v4h-4zM302 427h4v4h-4zM206 431h4v4h-4zM262 431h4v4h-4zM298 431h4v4h-4zM350 431h4v4h-4zM378 431h4v4h-4zM122 435h4v4h-4zM218 435h4v4h-4zM226 435h4v4h-4zM238 435h4v4h-4zM122 439h4v4h-4zM214 439h4v4h-4zM290 439h4v4h-4zM358 439h4v4h-4zM362 439h4v4h-4zM374 439h4v4h-4zM98 443h4v4h-4zM134 443h4v4h-4zM178 443h4v4h-4zM214 443h4v4h-4zM318 443h4v4h-4zM330 443h4v4h-4zM362 443h4v4h-4zM378 443h4v4h-4zM166 447h4v4h-4zM178 447h4v4h-4zM206 447h4v4h-4zM282 447h4v4h-4zM362 447h4v4h-4zM98 451h4v4h-4zM130 451h4v4h-4zM154 451h4v4h-4zM282 451h4v4h-4zM302 451h4v4h-4zM94 455h4v4h-4zM234 455h4v4h-4zM106 459h4v4h-4zM206 459h4v4h-4zM186 463h4v4h-4zM278 463h4v4h-4zM106 467h4v4h-4zM142 467h4v4h-4zM146 467h4v4h-4zM222 467h4v4h-4zM302 467h4v4h-4zM326 467h4v4h-4zM378 467h4v4h-4zM158 471h4v4h-4zM210 471h4v4h-4zM302 471h4v4h-4zM86 475h4v4h-4zM134 475h4v4h-4zM138 475h4v4h-4zM262 475h4v4h-4zM326 475h4v4h-4zM338 475h4v4h-4zM158 479h4v4h-4zM206 479h4v4h-4zM294 479h4v4h-4zM326 479h4v4h-4zM366 479h4v4h-4zM194 483h4v4h-4zM266 483h4v4h-4zM326 483h4v4h-4zM350 483h4v4h-4zM102 487h4v4h-4zM114 487h4v4h-4zM262 487h4v4h-4zM110 491h4v4h-4zM202 491h4v4h-4zM378 491h4v4h-4zM98 503h4v4h-4zM102 503h4v4h-4zM106 503h4v4h-4zM150 503h4v4h-4zM194 503h4v4h-4zM370 503h4v4h-4zM170 507h4v4h-4zM314 507h4v4h-4zM274 511h4v4h-4zM298 511h4v4h-4zM182 515h4v4h-4zM342 515h4v4h-4zM250 519h4v4h-4zM266 519h4v4h-4zM322 519h4v4h-4zM146 523h4v4h-4zM202 523h4v4h-4zM242 523h4v4h-4zM310 523h4v4h-4zM342 523h4v4h-4zM142 527h4v4h-4zM222 527h4v4h-4zM234 527h4v4h-4zM242 527h4v4h-4zM274 527h4v4h-4zM266 531h4v4h-4zM302 531h4v4h-4zM122 535h4v4h-4zM302 535h4v4h-4zM350 535h4v4h-4zM154 539h4v4h-4zM242 539h4v4h-4zM274 539h4v4h-4zM278 539h4v4h-4zM98 543h4v4h-4zM214 543h4v4h-4zM354 543h4v4h-4zM154 547h4v4h-4zM86 551h4v4h-4zM158 551h4v4h-4zM238 551h4v4h-4zM270 551h4v4h-4zM302 551h4v4h-4zM358 551h4v4h-4zM130 555h4v4h-4zM150 555h4v4h-4zM102 563h4v4h-4zM194 563h4v4h-4zM378 563h4v4h-4zM178 567h4v4h-4zM182 567h4v4h-4zM214 567h4v4h-4zM270 567h4v4h-4zM378 567h4v4h-4zM218 571h4v4h-4zM266 571h4v4h-4zM286 571h4v4h-4zM154 575h4v4h-4zM226 575h4v4h-4zM230 575h4v4h-4zM274 575h4v4h-4zM294 575h4v4h-4zM102 579h4v4h-4zM130 579h4v4h-4zM134 579h4v4h-4zM290 579h4v4h-4zM318 579h4v4h-4zM154 583h4v4h-4zM202 583h4v4h-4zM254 583h4v4h-4zM266 583h4v4h-4zM318 583h4v4h-4zM374 583h4v4h-4zM254 587h4v4h-4zM270 587h4v4h-4zM106 591h4v4h-4zM158 591h4v4h-4zM286 591h4v4h-4zM110 595h4v4h-4zM366 595h4v4h-4zM94 599h4v4h-4zM114 599h4v4h-4zM158 599h4v4h-4zM250 599h4v4h-4zM330 599h4v4h-4zM190 603h4v4h-4zM278 603h4v4h-4zM298 603h4v4h-4zM310 603h4v4h-4zM354 603h4v4h-4zM358 603h4v4h-4zM366 603h4v4h-4zM378 603h4v4h-4zM134 607h4v4h-4zM142 607h4v4h-4zM194 607h4v4h-4zM226 607h4v4h-4zM318 607h4v4h-4zM322 607h4v4h-4zM346 607h4v4h-4zM366 607h4v4h-4zM226 611h4v4h-4zM270 611h4v4h-4zM334 611h4v4h-4zM114 615h4v4h-4zM170 615h4v4h-4zM314 615h4v4h-4zM354 615h4v4h-4zM118 619h4v4h-4zM166 619h4v4h-4zM126 623h4v4h-4zM234 623h4v4h-4zM330 623h4v4h-4zM346 623h4v4h-4zM94 627h4v4h-4zM238 627h4v4h-4zM302 627h4v4h-4zM118 631h4v4h-4zM126 631h4v4h-4zM170 631h4v4h-4zM90 635h4v4h-4zM114 635h4v4h-4zM310 635h4v4h-4zM354 635h4v4h-4zM130 639h4v4h-4zM362 639h4v4h-4zM122 643h4v4h-4zM130 643h4v4h-4zM178 643h4v4h-4zM198 643h4v4h-4zM322 643h4v4h-4zM198 647h4v4h-4zM226 647h4v4h-4zM298 647h4v4h-4zM346 647h4v4h-4zM142 651h4v4h-4z"/>
<path fill="rgb(60,60,60)" d="M106 359h4v4h-4zM190 359h4v4h-4zM234 359h4v4h-4zM246 359h4v4h-4zM198 363h4v4h-4zM222 363h4v4h-4zM306 363h4v4h-4zM358 363h4v4h-4zM190 367h4v4h-4zM206 367h4v4h-4zM126 371h4v4h-4zM134 371h4v4h-4zM246 371h4v4h-4zM346 371h4v4h-4zM174 375h4v4h-4zM254 375h4v4h-4zM378 375h4v4h-4zM170 379h4v4h-4zM218 383h4v4h-4zM346 383h4v4h-4zM86 387h4v4h-4zM206 387h4v4h-4zM210 387h4v4h-4zM230 387h4v4h-4zM370 387h4v4h-4zM206 395h4v4h-4zM210 395h4v4h-4zM218 399h4v4h-4zM250 399h4v4h-4zM310 399h4v4h-4zM286 403h4v4h-4zM326 403h4v4h-4zM342 403h4v4h-4zM358 403h4v4h-4zM90 407h4v4h-4zM334 407h4v4h-4zM358 407h4v4h-4zM198 411h4v4h-4zM214 411h4v4h-4zM254 411h4v4h-4zM358 411h4v4h-4zM102 415h4v4h-4zM190 419h4v4h-4zM354 419h4v4h-4zM122 423h4v4h-4zM210 423h4v4h-4zM330 423h4v4h-4zM342 423h4v4h-4zM350 423h4v4h-4zM118 427h4v4h-4zM230 427h4v4h-4zM174 435h4v4h-4zM202 435h4v4h-4zM230 439h4v4h-4zM378 439h4v4h-4zM230 443h4v4h-4zM282 443h4v4h-4zM302 443h4v4h-4zM314 443h4v4h-4zM94 447h4v4h-4zM126 447h4v4h-4zM226 447h4v4h-4zM230 447h4v4h-4zM94 451h4v4h-4zM102 451h4v4h-4zM306 451h4v4h-4zM342 451h4v4h-4zM122 455h4v4h-4zM138 455h4v4h-4zM198 455h4v4h-4zM226 455h4v4h-4zM282 455h4v4h-4zM346 455h4v4h-4zM178 459h4v4h-4zM202 459h4v4h-4zM230 459h4v4h-4zM178 463h4v4h-4zM286 463h4v4h-4zM298 463h4v4h-4zM310 463h4v4h-4zM346 463h4v4h-4zM154 467h4v4h-4zM266 467h4v4h-4zM298 467h4v4h-4zM314 467h4v4h-4zM166 471h4v4h-4zM178 471h4v4h-4zM334 471h4v4h-4zM378 471h4v4h-4zM214 475h4v4h-4zM290 475h4v4h-4zM298 475h4v4h-4zM150 479h4v4h-4zM246 479h4v4h-4zM306 479h4v4h-4zM246 483h4v4h-4zM250 483h4v4h-4zM262 483h4v4h-4zM170 487h4v4h-4zM114 491h4v4h-4zM138 491h4v4h-4zM206 491h4v4h-4zM242 491h4v4h-4zM302 491h4v4h-4zM362 491h4v4h-4zM210 495h4v4h-4zM358 495h4v4h-4zM374 495h4v4h-4zM142 499h4v4h-4zM154 499h4v4h-4zM178 499h4v4h-4zM214 499h4v4h-4zM202 503h4v4h-4zM206 503h4v4h-4zM214 503h4v4h-4zM178 507h4v4h-4zM226 507h4v4h-4zM358 507h4v4h-4zM174 515h4v4h-4zM242 515h4v4h-4zM286 515h4v4h-4zM318 515h4v4h-4zM162 519h4v4h-4zM174 519h4v4h-4zM350 519h4v4h-4zM270 523h4v4h-4zM338 523h4v4h-4zM138 527h4v4h-4zM162 527h4v4h-4zM214 527h4v4h-4zM218 527h4v4h-4zM238 527h4v4h-4zM258 527h4v4h-4zM338 527h4v4h-4zM214 531h4v4h-4zM222 531h4v4h-4zM346 531h4v4h-4zM254 535h4v4h-4zM298 535h4v4h-4zM346 535h4v4h-4zM354 535h4v4h-4zM214 539h4v4h-4zM102 543h4v4h-4zM202 543h4v4h-4zM206 543h4v4h-4zM98 547h4v4h-4zM102 547h4v4h-4zM150 547h4v4h-4zM158 547h4v4h-4zM214 547h4v4h-4zM298 547h4v4h-4zM354 547h4v4h-4zM362 547h4v4h-4zM110 551h4v4h-4zM114 551h4v4h-4zM154 551h4v4h-4zM182 551h4v4h-4zM162 555h4v4h-4zM210 555h4v4h-4zM158 559h4v4h-4zM234 559h4v4h-4zM122 563h4v4h-4zM214 563h4v4h-4zM166 567h4v4h-4zM198 567h4v4h-4zM266 567h4v4h-4zM282 567h4v4h-4zM354 567h4v4h-4zM102 571h4v4h-4zM142 571h4v4h-4zM94 575h4v4h-4zM134 575h4v4h-4zM234 575h4v4h-4zM106 579h4v4h-4zM270 579h4v4h-4zM374 579h4v4h-4zM334 583h4v4h-4zM378 583h4v4h-4zM158 587h4v4h-4zM310 587h4v4h-4zM314 587h4v4h-4zM174 591h4v4h-4zM190 591h4v4h-4zM194 591h4v4h-4zM314 591h4v4h-4zM106 595h4v4h-4zM90 599h4v4h-4zM358 599h4v4h-4zM370 599h4v4h-4zM186 603h4v4h-4zM254 603h4v4h-4zM202 607h4v4h-4zM222 607h4v4h-4zM338 607h4v4h-4zM234 611h4v4h-4zM266 611h4v4h-4zM310 611h4v4h-4zM318 611h4v4h-4zM338 611h4v4h-4zM342 611h4v4h-4zM346 611h4v4h-4zM118 615h4v4h-4zM174 615h4v4h-4zM202 619h4v4h-4zM222 619h4v4h-4zM206 623h4v4h-4zM246 623h4v4h-4zM126 627h4v4h-4zM138 627h4v4h-4zM210 627h4v4h-4zM342 627h4v4h-4zM350 627h4v4h-4zM158 631h4v4h-4zM278 631h4v4h-4zM290 631h4v4h-4zM294 631h4v4h-4zM126 635h4v4h-4zM214 635h4v4h-4zM242 635h4v4h-4zM110 639h4v4h-4zM254 639h4v4h-4zM354 639h4v4h-4zM254 643h4v4h-4zM126 647h4v4h-4zM258 647h4v4h-4zM366 647h4v4h-4zM130 651h4v4h-4zM170 651h4v4h-4zM214 651h4v4h-4z"/>
<path fill="rgb(64,64,64)" d="M194 359h4v4h-4zM102 363h4v4h-4zM194 367h4v4h-4zM310 367h4v4h-4zM314 367h4v4h-4zM98 371h4v4h-4zM114 371h4v4h-4zM174 371h4v4h-4zM266 371h4v4h-4zM318 371h4v4h-4zM378 371h4v4h-4zM134 375h4v4h-4zM218 375h4v4h-4zM302 375h4v4h-4zM366 375h4v4h-4zM246 379h4v4h-4zM258 379h4v4h-4zM194 383h4v4h-4zM242 383h4v4h-4zM258 383h4v4h-4zM342 383h4v4h-4zM150 387h4v4h-4zM214 387h4v4h-4zM294 387h4v4h-4zM322 387h4v4h-4zM326 387h4v4h-4zM206 391h4v4h-4zM254 395h4v4h-4zM314 395h4v4h-4zM86 399h4v4h-4zM194 399h4v4h-4zM354 399h4v4h-4zM114 403h4v4h-4zM334 403h4v4h-4zM346 403h4v4h-4zM362 403h4v4h-4zM366 403h4v4h-4zM294 407h4v4h-4zM342 407h4v4h-4zM94 411h4v4h-4zM174 411h4v4h-4zM178 415h4v4h-4zM254 415h4v4h-4zM310 415h4v4h-4zM162 419h4v4h-4zM226 419h4v4h-4zM306 419h4v4h-4zM230 423h4v4h-4zM198 427h4v4h-4zM174 431h4v4h-4zM226 431h4v4h-4zM186 435h4v4h-4zM234 439h4v4h-4zM94 443h4v4h-4zM182 443h4v4h-4zM274 443h4v4h-4zM154 447h4v4h-4zM158 447h4v4h-4zM210 447h4v4h-4zM378 447h4v4h-4zM106 451h4v4h-4zM166 451h4v4h-4zM198 451h4v4h-4zM278 451h4v4h-4zM322 451h4v4h-4zM230 455h4v4h-4zM286 455h4v4h-4zM226 459h4v4h-4zM106 463h4v4h-4zM146 463h4v4h-4zM182 463h4v4h-4zM302 463h4v4h-4zM102 467h4v4h-4zM94 471h4v4h-4zM154 471h4v4h-4zM206 471h4v4h-4zM250 471h4v4h-4zM266 471h4v4h-4zM130 475h4v4h-4zM182 475h4v4h-4zM206 475h4v4h-4zM278 475h4v4h-4zM334 475h4v4h-4zM290 479h4v4h-4zM98 483h4v4h-4zM254 483h4v4h-4zM118 487h4v4h-4zM138 487h4v4h-4zM98 491h4v4h-4zM122 491h4v4h-4zM158 495h4v4h-4zM134 499h4v4h-4zM158 499h4v4h-4zM190 499h4v4h-4zM250 499h4v4h-4zM210 503h4v4h-4zM274 503h4v4h-4zM378 507h4v4h-4zM178 515h4v4h-4zM122 519h4v4h-4zM150 519h4v4h-4zM178 519h4v4h-4zM238 519h4v4h-4zM290 519h4v4h-4zM338 519h4v4h-4zM342 519h4v4h-4zM90 523h4v4h-4zM114 523h4v4h-4zM150 523h4v4h-4zM178 523h4v4h-4zM270 527h4v4h-4zM286 527h4v4h-4zM114 535h4v4h-4zM278 535h4v4h-4zM178 547h4v4h-4zM186 551h4v4h-4zM366 551h4v4h-4zM158 555h4v4h-4zM234 555h4v4h-4zM94 559h4v4h-4zM94 563h4v4h-4zM146 563h4v4h-4zM234 563h4v4h-4zM222 567h4v4h-4zM346 567h4v4h-4zM138 571h4v4h-4zM178 571h4v4h-4zM262 571h4v4h-4zM278 571h4v4h-4zM282 571h4v4h-4zM102 575h4v4h-4zM278 575h4v4h-4zM374 575h4v4h-4zM154 579h4v4h-4zM314 579h4v4h-4zM158 583h4v4h-4zM290 583h4v4h-4zM314 583h4v4h-4zM266 587h4v4h-4zM282 591h4v4h-4zM166 595h4v4h-4zM170 595h4v4h-4zM270 595h4v4h-4zM274 595h4v4h-4zM278 595h4v4h-4zM194 599h4v4h-4zM122 603h4v4h-4zM326 603h4v4h-4zM162 607h4v4h-4zM166 607h4v4h-4zM338 615h4v4h-4zM234 619h4v4h-4zM338 619h4v4h-4zM202 623h4v4h-4zM366 623h4v4h-4zM130 627h4v4h-4zM170 627h4v4h-4zM174 627h4v4h-4zM190 627h4v4h-4zM338 627h4v4h-4zM106 631h4v4h-4zM210 631h4v4h-4zM346 631h4v4h-4zM118 635h4v4h-4zM202 643h4v4h-4zM130 647h4v4h-4zM202 647h4v4h-4zM370 647h4v4h-4zM138 651h4v4h-4z"/>
<path fill="rgb(68,68,68)" d="M198 359h4v4h-4zM210 359h4v4h-4zM290 359h4v4h-4zM106 363h4v4h-4zM190 363h4v4h-4zM294 363h4v4h-4zM314 363h4v4h-4zM198 367h4v4h-4zM218 367h4v4h-4zM262 367h4v4h-4zM214 371h4v4h-4zM262 371h4v4h-4zM298 371h4v4h-4zM178 375h4v4h-4zM374 375h4v4h-4zM278 379h4v4h-4zM282 379h4v4h-4zM366 379h4v4h-4zM146 383h4v4h-4zM266 387h4v4h-4zM158 391h4v4h-4zM198 391h4v4h-4zM366 391h4v4h-4zM250 395h4v4h-4zM322 395h4v4h-4zM366 395h4v4h-4zM214 399h4v4h-4zM314 399h4v4h-4zM322 399h4v4h-4zM338 399h4v4h-4zM366 399h4v4h-4zM86 403h4v4h-4zM322 403h4v4h-4zM114 407h4v4h-4zM142 411h4v4h-4zM218 411h4v4h-4zM226 411h4v4h-4zM106 415h4v4h-4zM138 415h4v4h-4zM142 415h4v4h-4zM202 415h4v4h-4zM346 415h4v4h-4zM374 415h4v4h-4zM238 419h4v4h-4zM166 423h4v4h-4zM354 423h4v4h-4zM178 427h4v4h-4zM178 431h4v4h-4zM238 431h4v4h-4zM110 435h4v4h-4zM134 439h4v4h-4zM186 439h4v4h-4zM126 443h4v4h-4zM154 443h4v4h-4zM310 443h4v4h-4zM358 443h4v4h-4zM150 447h4v4h-4zM214 447h4v4h-4zM298 447h4v4h-4zM318 447h4v4h-4zM358 447h4v4h-4zM122 451h4v4h-4zM230 451h4v4h-4zM358 451h4v4h-4zM98 455h4v4h-4zM142 455h4v4h-4zM362 455h4v4h-4zM182 459h4v4h-4zM286 459h4v4h-4zM306 459h4v4h-4zM102 463h4v4h-4zM138 463h4v4h-4zM254 463h4v4h-4zM258 463h4v4h-4zM250 467h4v4h-4zM282 475h4v4h-4zM294 475h4v4h-4zM154 479h4v4h-4zM310 479h4v4h-4zM170 483h4v4h-4zM258 483h4v4h-4zM142 491h4v4h-4zM174 491h4v4h-4zM146 495h4v4h-4zM214 495h4v4h-4zM242 495h4v4h-4zM210 499h4v4h-4zM350 503h4v4h-4zM378 503h4v4h-4zM214 507h4v4h-4zM354 507h4v4h-4zM170 511h4v4h-4zM178 511h4v4h-4zM222 511h4v4h-4zM318 511h4v4h-4zM186 519h4v4h-4zM242 519h4v4h-4zM258 519h4v4h-4zM170 523h4v4h-4zM174 523h4v4h-4zM238 523h4v4h-4zM278 523h4v4h-4zM282 523h4v4h-4zM330 523h4v4h-4zM182 527h4v4h-4zM266 527h4v4h-4zM298 527h4v4h-4zM330 527h4v4h-4zM218 531h4v4h-4zM238 531h4v4h-4zM242 531h4v4h-4zM118 535h4v4h-4zM214 535h4v4h-4zM222 535h4v4h-4zM238 539h4v4h-4zM154 543h4v4h-4zM158 543h4v4h-4zM190 547h4v4h-4zM194 547h4v4h-4zM358 547h4v4h-4zM214 551h4v4h-4zM110 555h4v4h-4zM214 555h4v4h-4zM114 559h4v4h-4zM118 559h4v4h-4zM378 559h4v4h-4zM282 563h4v4h-4zM94 567h4v4h-4zM202 571h4v4h-4zM234 571h4v4h-4zM98 575h4v4h-4zM238 575h4v4h-4zM238 579h4v4h-4zM102 583h4v4h-4zM106 583h4v4h-4zM270 583h4v4h-4zM170 591h4v4h-4zM310 595h4v4h-4zM354 595h4v4h-4zM162 599h4v4h-4zM166 599h4v4h-4zM346 599h4v4h-4zM370 603h4v4h-4zM150 607h4v4h-4zM198 607h4v4h-4zM342 607h4v4h-4zM230 611h4v4h-4zM166 615h4v4h-4zM310 615h4v4h-4zM334 615h4v4h-4zM162 619h4v4h-4zM238 619h4v4h-4zM170 623h4v4h-4zM338 623h4v4h-4zM206 627h4v4h-4zM298 627h4v4h-4zM122 631h4v4h-4zM166 631h4v4h-4zM186 631h4v4h-4zM122 639h4v4h-4zM126 639h4v4h-4zM114 643h4v4h-4zM178 647h4v4h-4zM134 651h4v4h-4zM262 651h4v4h-4z"/>
<path fill="rgb(72,72,72)" d="M206 363h4v4h-4zM86 367h4v4h-4zM106 367h4v4h-4zM130 367h4v4h-4zM170 367h4v4h-4zM210 367h4v4h-4zM374 367h4v4h-4zM118 371h4v4h-4zM130 371h4v4h-4zM178 371h4v4h-4zM198 371h4v4h-4zM202 371h4v4h-4zM198 375h4v4h-4zM250 379h4v4h-4zM150 383h4v4h-4zM246 383h4v4h-4zM202 391h4v4h-4zM254 391h4v4h-4zM322 391h4v4h-4zM374 391h4v4h-4zM118 395h4v4h-4zM210 399h4v4h-4zM94 407h4v4h-4zM338 407h4v4h-4zM210 411h4v4h-4zM342 411h4v4h-4zM170 415h4v4h-4zM174 415h4v4h-4zM106 419h4v4h-4zM198 423h4v4h-4zM238 423h4v4h-4zM98 427h4v4h-4zM142 427h4v4h-4zM238 427h4v4h-4zM346 431h4v4h-4zM106 435h4v4h-4zM126 439h4v4h-4zM150 443h4v4h-4zM278 443h4v4h-4zM162 447h4v4h-4zM302 447h4v4h-4zM322 447h4v4h-4zM202 451h4v4h-4zM126 455h4v4h-4zM158 455h4v4h-4zM202 455h4v4h-4zM142 459h4v4h-4zM346 459h4v4h-4zM350 463h4v4h-4zM90 471h4v4h-4zM254 471h4v4h-4zM290 471h4v4h-4zM174 475h4v4h-4zM330 475h4v4h-4zM86 479h4v4h-4zM182 479h4v4h-4zM210 479h4v4h-4zM90 487h4v4h-4zM94 487h4v4h-4zM146 487h4v4h-4zM178 487h4v4h-4zM346 487h4v4h-4zM158 491h4v4h-4zM122 495h4v4h-4zM150 495h4v4h-4zM154 495h4v4h-4zM130 499h4v4h-4zM150 499h4v4h-4zM218 499h4v4h-4zM274 499h4v4h-4zM366 503h4v4h-4zM182 507h4v4h-4zM374 507h4v4h-4zM174 511h4v4h-4zM366 511h4v4h-4zM370 511h4v4h-4zM254 515h4v4h-4zM258 515h4v4h-4zM262 515h4v4h-4zM146 519h4v4h-4zM182 519h4v4h-4zM294 519h4v4h-4zM346 519h4v4h-4zM258 523h4v4h-4zM334 523h4v4h-4zM170 527h4v4h-4zM226 527h4v4h-4zM138 531h4v4h-4zM278 531h4v4h-4zM286 531h4v4h-4zM294 531h4v4h-4zM218 535h4v4h-4zM242 535h4v4h-4zM358 535h4v4h-4zM194 543h4v4h-4zM346 543h4v4h-4zM350 543h4v4h-4zM182 547h4v4h-4zM346 547h4v4h-4zM350 547h4v4h-4zM178 551h4v4h-4zM206 551h4v4h-4zM126 559h4v4h-4zM230 563h4v4h-4zM298 563h4v4h-4zM138 567h4v4h-4zM218 567h4v4h-4zM226 567h4v4h-4zM222 571h4v4h-4zM226 571h4v4h-4zM378 571h4v4h-4zM158 579h4v4h-4zM294 583h4v4h-4zM334 587h4v4h-4zM310 591h4v4h-4zM114 595h4v4h-4zM254 599h4v4h-4zM274 599h4v4h-4zM350 599h4v4h-4zM90 603h4v4h-4zM94 603h4v4h-4zM158 603h4v4h-4zM162 603h4v4h-4zM222 603h4v4h-4zM286 603h4v4h-4zM330 603h4v4h-4zM170 611h4v4h-4zM266 615h4v4h-4zM174 619h4v4h-4zM162 623h4v4h-4zM238 623h4v4h-4zM134 627h4v4h-4zM214 631h4v4h-4zM102 635h4v4h-4zM130 635h4v4h-4zM134 635h4v4h-4zM118 643h4v4h-4zM142 643h4v4h-4zM146 643h4v4h-4zM142 647h4v4h-4zM186 647h4v4h-4zM262 647h4v4h-4zM302 647h4v4h-4zM318 647h4v4h-4zM98 651h4v4h-4zM174 651h4v4h-4zM182 651h4v4h-4zM302 651h4v4h-4zM322 651h4v4h-4z"/>
<path fill="rgb(76,76,76)" d="M142 359h4v4h-4zM250 359h4v4h-4zM254 359h4v4h-4zM118 363h4v4h-4zM194 363h4v4h-4zM210 363h4v4h-4zM102 367h4v4h-4zM298 367h4v4h-4zM110 371h4v4h-4zM166 371h4v4h-4zM370 371h4v4h-4zM166 375h4v4h-4zM170 375h4v4h-4zM370 375h4v4h-4zM214 379h4v4h-4zM182 383h4v4h-4zM282 383h4v4h-4zM146 387h4v4h-4zM186 387h4v4h-4zM338 391h4v4h-4zM370 391h4v4h-4zM198 395h4v4h-4zM362 395h4v4h-4zM370 395h4v4h-4zM346 399h4v4h-4zM362 399h4v4h-4zM354 403h4v4h-4zM322 407h4v4h-4zM134 411h4v4h-4zM158 411h4v4h-4zM314 411h4v4h-4zM318 411h4v4h-4zM346 411h4v4h-4zM294 415h4v4h-4zM94 423h4v4h-4zM114 423h4v4h-4zM374 423h4v4h-4zM162 427h4v4h-4zM210 427h4v4h-4zM346 427h4v4h-4zM350 427h4v4h-4zM86 435h4v4h-4zM130 439h4v4h-4zM306 443h4v4h-4zM198 447h4v4h-4zM158 451h4v4h-4zM102 455h4v4h-4zM162 455h4v4h-4zM102 459h4v4h-4zM142 463h4v4h-4zM262 463h4v4h-4zM282 463h4v4h-4zM306 463h4v4h-4zM162 471h4v4h-4zM298 471h4v4h-4zM170 475h4v4h-4zM150 483h4v4h-4zM158 483h4v4h-4zM178 483h4v4h-4zM346 483h4v4h-4zM142 487h4v4h-4zM130 491h4v4h-4zM206 495h4v4h-4zM246 495h4v4h-4zM322 495h4v4h-4zM362 495h4v4h-4zM126 499h4v4h-4zM146 499h4v4h-4zM278 499h4v4h-4zM222 503h4v4h-4zM358 503h4v4h-4zM362 503h4v4h-4zM226 511h4v4h-4zM374 511h4v4h-4zM86 515h4v4h-4zM266 515h4v4h-4zM166 527h4v4h-4zM334 527h4v4h-4zM226 531h4v4h-4zM198 539h4v4h-4zM86 547h4v4h-4zM186 547h4v4h-4zM206 547h4v4h-4zM210 551h4v4h-4zM118 555h4v4h-4zM110 559h4v4h-4zM234 567h4v4h-4zM282 575h4v4h-4zM286 575h4v4h-4zM198 579h4v4h-4zM362 579h4v4h-4zM378 579h4v4h-4zM370 595h4v4h-4zM190 599h4v4h-4zM270 599h4v4h-4zM278 599h4v4h-4zM146 607h4v4h-4zM370 607h4v4h-4zM314 611h4v4h-4zM270 615h4v4h-4zM242 619h4v4h-4zM330 619h4v4h-4zM174 623h4v4h-4zM334 623h4v4h-4zM242 627h4v4h-4zM366 627h4v4h-4zM130 631h4v4h-4zM358 639h4v4h-4zM126 643h4v4h-4zM298 643h4v4h-4zM182 647h4v4h-4zM178 651h4v4h-4zM318 651h4v4h-4z"/>
<path fill="rgb(80,80,80)" d="M122 359h4v4h-4zM126 359h4v4h-4zM206 359h4v4h-4zM230 359h4v4h-4zM278 359h4v4h-4zM218 363h4v4h-4zM114 367h4v4h-4zM86 371h4v4h-4zM374 371h4v4h-4zM218 379h4v4h-4zM254 379h4v4h-4zM182 387h4v4h-4zM250 391h4v4h-4zM326 391h4v4h-4zM330 391h4v4h-4zM122 395h4v4h-4zM374 395h4v4h-4zM334 399h4v4h-4zM338 403h4v4h-4zM290 407h4v4h-4zM318 407h4v4h-4zM290 411h4v4h-4zM114 419h4v4h-4zM182 419h4v4h-4zM230 419h4v4h-4zM234 427h4v4h-4zM378 427h4v4h-4zM178 435h4v4h-4zM182 435h4v4h-4zM178 439h4v4h-4zM130 443h4v4h-4zM202 447h4v4h-4zM362 451h4v4h-4zM326 471h4v4h-4zM330 471h4v4h-4zM90 475h4v4h-4zM162 475h4v4h-4zM170 479h4v4h-4zM86 487h4v4h-4zM158 487h4v4h-4zM126 491h4v4h-4zM146 491h4v4h-4zM322 491h4v4h-4zM130 495h4v4h-4zM246 499h4v4h-4zM322 499h4v4h-4zM218 507h4v4h-4zM362 507h4v4h-4zM90 519h4v4h-4zM166 523h4v4h-4zM230 531h4v4h-4zM198 543h4v4h-4zM210 543h4v4h-4zM198 551h4v4h-4zM362 551h4v4h-4zM122 559h4v4h-4zM350 563h4v4h-4zM142 567h4v4h-4zM198 575h4v4h-4zM198 583h4v4h-4zM162 615h4v4h-4zM122 623h4v4h-4zM166 623h4v4h-4zM122 627h4v4h-4zM162 627h4v4h-4zM346 627h4v4h-4zM94 631h4v4h-4zM110 635h4v4h-4zM278 635h4v4h-4zM114 639h4v4h-4zM146 647h4v4h-4zM322 647h4v4h-4z"/>
<path fill="rgb(84,84,84)" d="M302 359h4v4h-4zM110 367h4v4h-4zM118 367h4v4h-4zM214 367h4v4h-4zM122 371h4v4h-4zM202 375h4v4h-4zM198 379h4v4h-4zM370 379h4v4h-4zM202 387h4v4h-4zM350 403h4v4h-4zM222 411h4v4h-4zM182 415h4v4h-4zM290 415h4v4h-4zM98 419h4v4h-4zM234 419h4v4h-4zM374 419h4v4h-4zM278 447h4v4h-4zM126 451h4v4h-4zM306 455h4v4h-4zM138 459h4v4h-4zM350 459h4v4h-4zM94 475h4v4h-4zM210 475h4v4h-4zM98 487h4v4h-4zM202 495h4v4h-4zM178 503h4v4h-4zM218 503h4v4h-4zM354 503h4v4h-4zM222 507h4v4h-4zM290 515h4v4h-4zM294 515h4v4h-4zM118 519h4v4h-4zM254 519h4v4h-4zM162 523h4v4h-4zM278 527h4v4h-4zM122 531h4v4h-4zM282 531h4v4h-4zM202 547h4v4h-4zM210 547h4v4h-4zM150 551h4v4h-4zM98 563h4v4h-4zM138 563h4v4h-4zM294 579h4v4h-4zM194 595h4v4h-4zM282 603h4v4h-4zM162 611h4v4h-4zM242 623h4v4h-4zM242 631h4v4h-4zM118 639h4v4h-4zM366 651h4v4h-4z"/>
<path fill="rgb(88,88,88)" d="M202 359h4v4h-4zM226 359h4v4h-4zM122 363h4v4h-4zM214 363h4v4h-4zM298 363h4v4h-4zM126 367h4v4h-4zM170 371h4v4h-4zM306 371h4v4h-4zM214 383h4v4h-4zM250 383h4v4h-4zM86 391h4v4h-4zM202 395h4v4h-4zM350 399h4v4h-4zM290 403h4v4h-4zM294 411h4v4h-4zM102 419h4v4h-4zM118 419h4v4h-4zM234 423h4v4h-4zM234 435h4v4h-4zM90 479h4v4h-4zM206 499h4v4h-4zM370 507h4v4h-4zM186 523h4v4h-4zM234 531h4v4h-4zM234 535h4v4h-4zM198 547h4v4h-4zM202 551h4v4h-4zM114 555h4v4h-4zM146 555h4v4h-4zM142 563h4v4h-4zM198 571h4v4h-4zM230 571h4v4h-4zM378 575h4v4h-4zM354 599h4v4h-4zM334 619h4v4h-4zM166 627h4v4h-4zM90 631h4v4h-4zM134 631h4v4h-4zM190 631h4v4h-4z"/>
<path fill="rgb(92,92,92)" d="M214 359h4v4h-4zM298 359h4v4h-4zM302 363h4v4h-4zM302 371h4v4h-4zM202 379h4v4h-4zM186 383h4v4h-4zM278 383h4v4h-4zM202 399h4v4h-4zM330 399h4v4h-4zM118 423h4v4h-4zM182 439h4v4h-4zM162 451h4v4h-4zM294 471h4v4h-4zM166 475h4v4h-4zM86 523h4v4h-4zM254 523h4v4h-4zM238 535h4v4h-4zM98 567h4v4h-4zM190 595h4v4h-4zM282 595h4v4h-4zM106 635h4v4h-4z"/>
<path fill="rgb(96,96,96)" d="M222 359h4v4h-4zM294 359h4v4h-4zM126 363h4v4h-4zM122 367h4v4h-4zM306 367h4v4h-4zM254 383h4v4h-4zM326 395h4v4h-4zM326 399h4v4h-4zM138 411h4v4h-4zM194 415h4v4h-4zM162 423h4v4h-4zM230 435h4v4h-4zM178 475h4v4h-4zM86 483h4v4h-4zM154 483h4v4h-4zM150 491h4v4h-4zM126 495h4v4h-4zM202 499h4v4h-4zM182 523h4v4h-4zM350 567h4v4h-4zM94 571h4v4h-4zM166 611h4v4h-4z"/>
<path fill="rgb(100,100,100)" d="M218 359h4v4h-4zM198 387h4v4h-4zM334 391h4v4h-4zM330 395h4v4h-4zM334 395h4v4h-4zM198 399h4v4h-4zM194 419h4v4h-4zM98 423h4v4h-4zM234 431h4v4h-4zM258 471h4v4h-4zM174 479h4v4h-4zM178 479h4v4h-4zM150 487h4v4h-4zM174 487h4v4h-4zM154 491h4v4h-4zM182 503h4v4h-4zM282 527h4v4h-4zM298 531h4v4h-4zM230 567h4v4h-4zM370 651h4v4h-4z"/>
<path fill="rgb(104,104,104)" d="M198 419h4v4h-4zM230 431h4v4h-4zM254 467h4v4h-4zM262 467h4v4h-4zM262 471h4v4h-4zM94 479h4v4h-4zM90 483h4v4h-4zM366 507h4v4h-4zM122 523h4v4h-4zM118 531h4v4h-4z"/>
<path fill="rgb(108,108,108)" d="M302 367h4v4h-4zM202 383h4v4h-4zM254 387h4v4h-4zM198 415h4v4h-4zM94 483h4v4h-4zM154 487h4v4h-4zM114 527h4v4h-4zM122 527h4v4h-4zM146 551h4v4h-4zM282 599h4v4h-4z"/>
<path fill="rgb(112,112,112)" d="M250 387h4v4h-4zM174 483h4v4h-4zM114 531h4v4h-4zM98 571h4v4h-4z"/>
<path fill="rgb(116,116,116)" d="M198 383h4v4h-4z"/>
<path fill="rgb(120,120,120)" d="M86 519h4v4h-4z"/>
<path fill="rgb(124,124,124)" d="M258 467h4v4h-4zM118 523h4v4h-4z"/>
<path fill="rgb(136,136,136)" d="M118 527h4v4h-4z"/>
</g>
<ellipse cx="153.6" cy="417.2" rx="15.1" ry="14.3" fill="#000" fill-opacity="0.55" filter="url(#b3)"/>
<ellipse cx="106.6" cy="451.5" rx="16.0" ry="14.7" fill="#000" fill-opacity="0.55" filter="url(#b3)"/>
<ellipse cx="174.3" cy="483.8" rx="11.9" ry="10.8" fill="#000" fill-opacity="0.55" filter="url(#b3)"/>
<ellipse cx="225.7" cy="506.9" rx="16.1" ry="15.5" fill="#000" fill-opacity="0.55" filter="url(#b3)"/>
<ellipse cx="192.6" cy="610.5" rx="13.1" ry="12.7" fill="#000" fill-opacity="0.55" filter="url(#b3)"/>
<ellipse cx="342.4" cy="394.2" rx="11.7" ry="11.3" fill="#000" fill-opacity="0.55" filter="url(#b3)"/>
<ellipse cx="355.5" cy="423.2" rx="12.0" ry="11.5" fill="#000" fill-opacity="0.55" filter="url(#b3)"/>
<ellipse cx="336.2" cy="545.8" rx="10.5" ry="10.3" fill="#000" fill-opacity="0.55" filter="url(#b3)"/>
<ellipse cx="322.3" cy="563.2" rx="10.9" ry="10.9" fill="#000" fill-opacity="0.55" filter="url(#b3)"/>
<ellipse cx="117.8" cy="642.5" rx="12.0" ry="11.0" fill="#000" fill-opacity="0.55" filter="url(#b3)"/>
<ellipse cx="153.6" cy="417.2" rx="10.049999999999999" ry="9.25" transform="rotate(0 153.6 417.2)" fill="rgb(255,255,255)" fill-opacity="1" filter="url(#b4)"/>
<ellipse cx="106.6" cy="451.5" rx="10.95" ry="9.649999999999999" transform="rotate(0 106.6 451.5)" fill="rgb(255,255,255)" fill-opacity="1" filter="url(#b4)"/>
<ellipse cx="174.3" cy="483.8" rx="6.8500000000000005" ry="5.75" transform="rotate(-5 174.3 483.8)" fill="rgb(255,255,255)" fill-opacity="1" filter="url(#b1)"/>
<ellipse cx="225.7" cy="506.9" rx="11.049999999999999" ry="10.45" transform="rotate(0 225.7 506.9)" fill="rgb(255,255,255)" fill-opacity="1" filter="url(#b4)"/>
<ellipse cx="192.6" cy="610.5" rx="8.049999999999999" ry="7.65" transform="rotate(0 192.6 610.5)" fill="rgb(255,255,255)" fill-opacity="1" filter="url(#b4)"/>
<ellipse cx="342.4" cy="394.2" rx="6.65" ry="6.25" transform="rotate(0 342.4 394.2)" fill="rgb(255,255,255)" fill-opacity="1" filter="url(#b1)"/>
<ellipse cx="355.5" cy="423.2" rx="6.95" ry="6.45" transform="rotate(0 355.5 423.2)" fill="rgb(255,255,255)" fill-opacity="1" filter="url(#b1)"/>
<ellipse cx="336.2" cy="545.8" rx="5.45" ry="5.25" transform="rotate(0 336.2 545.8)" fill="rgb(255,255,255)" fill-opacity="1" filter="url(#b1)"/>
<ellipse cx="322.3" cy="563.2" rx="5.8500000000000005" ry="5.8500000000000005" transform="rotate(0 322.3 563.2)" fill="rgb(255,255,255)" fill-opacity="1" filter="url(#b1)"/>
<ellipse cx="326.4" cy="536.4" rx="4.6" ry="4.4" transform="rotate(0 326.4 536.4)" fill="rgb(255,255,255)" fill-opacity="0.7" filter="url(#b2)"/>
<ellipse cx="245.3" cy="388.4" rx="8.8" ry="5.0" transform="rotate(45 245.3 388.4)" fill="rgb(255,255,255)" fill-opacity="0.85" filter="url(#b2)"/>
<ellipse cx="293" cy="408.6" rx="8.3" ry="4.0" transform="rotate(30 293 408.6)" fill="rgb(255,255,255)" fill-opacity="0.6" filter="url(#b2)"/>
<ellipse cx="198" cy="519.7" rx="8.5" ry="3.8" transform="rotate(-5 198 519.7)" fill="rgb(255,255,255)" fill-opacity="0.65" filter="url(#b2)"/>
<ellipse cx="218.3" cy="573.3" rx="5.0" ry="4.2" transform="rotate(-15 218.3 573.3)" fill="rgb(255,255,255)" fill-opacity="0.85" filter="url(#b2)"/>
<ellipse cx="231.5" cy="568.5" rx="6.0" ry="3.2" transform="rotate(-20 231.5 568.5)" fill="rgb(255,255,255)" fill-opacity="0.5" filter="url(#b2)"/>
<ellipse cx="117.8" cy="642.5" rx="6.95" ry="5.95" transform="rotate(-15 117.8 642.5)" fill="rgb(255,255,255)" fill-opacity="0.9" filter="url(#b1)"/>
<ellipse cx="250" cy="484.8" rx="4.5" ry="4.5" transform="rotate(0 250 484.8)" fill="rgb(255,255,255)" fill-opacity="0.45" filter="url(#b2)"/>
<ellipse cx="159" cy="437.3" rx="5" ry="4.6" transform="rotate(0 159 437.3)" fill="rgb(255,255,255)" fill-opacity="0.5" filter="url(#b2)"/>
<ellipse cx="175.5" cy="432" rx="4.5" ry="4.0" transform="rotate(0 175.5 432)" fill="rgb(255,255,255)" fill-opacity="0.2" filter="url(#b2)"/>
<ellipse cx="356.2" cy="439.7" rx="7" ry="3.2" transform="rotate(0 356.2 439.7)" fill="rgb(255,255,255)" fill-opacity="0.3" filter="url(#b2)"/>
<ellipse cx="349.8" cy="381.8" rx="4.5" ry="4.5" transform="rotate(0 349.8 381.8)" fill="rgb(255,255,255)" fill-opacity="0.3" filter="url(#b2)"/>
<ellipse cx="282.2" cy="391.5" rx="4.5" ry="5" transform="rotate(0 282.2 391.5)" fill="rgb(255,255,255)" fill-opacity="0.25" filter="url(#b2)"/>
<ellipse cx="312.2" cy="437.6" rx="4.5" ry="4.5" transform="rotate(0 312.2 437.6)" fill="rgb(255,255,255)" fill-opacity="0.22" filter="url(#b2)"/>
<ellipse cx="170.4" cy="505.3" rx="4.5" ry="4" transform="rotate(0 170.4 505.3)" fill="rgb(255,255,255)" fill-opacity="0.3" filter="url(#b2)"/>
<ellipse cx="105.2" cy="517.9" rx="7" ry="4" transform="rotate(-30 105.2 517.9)" fill="rgb(255,255,255)" fill-opacity="0.2" filter="url(#b2)"/>
<ellipse cx="315" cy="581.5" rx="4.5" ry="4" transform="rotate(0 315 581.5)" fill="rgb(255,255,255)" fill-opacity="0.3" filter="url(#b2)"/>
<ellipse cx="319.6" cy="641" rx="7" ry="3.5" transform="rotate(-10 319.6 641)" fill="rgb(255,255,255)" fill-opacity="0.35" filter="url(#b2)"/>
<ellipse cx="344.7" cy="571.7" rx="4" ry="5" transform="rotate(0 344.7 571.7)" fill="rgb(255,255,255)" fill-opacity="0.2" filter="url(#b2)"/>
<ellipse cx="330.5" cy="438.7" rx="8" ry="4.5" transform="rotate(0 330.5 438.7)" fill="rgb(0,0,0)" fill-opacity="0.8" filter="url(#b2)"/>
<ellipse cx="252.2" cy="465.5" rx="5" ry="4.5" transform="rotate(0 252.2 465.5)" fill="rgb(0,0,0)" fill-opacity="0.7" filter="url(#b2)"/>
<ellipse cx="279" cy="485.9" rx="5" ry="5" transform="rotate(0 279 485.9)" fill="rgb(0,0,0)" fill-opacity="0.7" filter="url(#b2)"/>
<ellipse cx="346.6" cy="466.6" rx="5" ry="5.5" transform="rotate(0 346.6 466.6)" fill="rgb(0,0,0)" fill-opacity="0.7" filter="url(#b2)"/>
<rect x="91" y="364" width="280" height="1.2" fill="#000"/>
</g>
<rect x="91.5" y="365.5" width="280.00" height="280.00" fill="none" stroke="#000" stroke-width="1.0"/>
<text x="0" y="0" font-size="16.67" text-anchor="middle" transform="translate(231.4 355.9) scale(1 1.09)">GLEAM</text>
<text x="21.0" y="507.3" font-size="13.89" text-anchor="middle" transform="rotate(-90 21.0 507.3)">Dec</text>
<line x1="97.50" y1="365.00" x2="97.70" y2="359.10" stroke="#000" stroke-width="1.0"/>
<line x1="150.50" y1="365.00" x2="150.70" y2="359.10" stroke="#000" stroke-width="1.0"/>
<line x1="204.50" y1="365.00" x2="204.70" y2="359.10" stroke="#000" stroke-width="1.0"/>
<line x1="257.50" y1="365.00" x2="257.70" y2="359.10" stroke="#000" stroke-width="1.0"/>
<line x1="311.50" y1="365.00" x2="311.70" y2="359.10" stroke="#000" stroke-width="1.0"/>
<line x1="364.50" y1="365.00" x2="364.70" y2="359.10" stroke="#000" stroke-width="1.0"/>
<line x1="99.50" y1="646.00" x2="99.50" y2="650.90" stroke="#000" stroke-width="1.0"/>
<text x="99.0" y="665.1" font-size="13.89" text-anchor="middle"><tspan letter-spacing="0.2">4</tspan><tspan dy="-5.3" font-size="9.72" letter-spacing="-0.9">h</tspan><tspan dy="5.3" letter-spacing="0.5">1</tspan><tspan letter-spacing="0.9">3</tspan><tspan dy="-5.3" font-size="9.72">m</tspan></text>
<line x1="152.50" y1="646.00" x2="152.50" y2="650.90" stroke="#000" stroke-width="1.0"/>
<text x="152.0" y="665.1" font-size="13.89" text-anchor="middle"><tspan letter-spacing="-0.8">1</tspan><tspan letter-spacing="0.4">2</tspan><tspan dy="-5.3" font-size="9.72">m</tspan></text>
<line x1="204.50" y1="646.00" x2="204.50" y2="650.90" stroke="#000" stroke-width="1.0"/>
<text x="204.0" y="665.1" font-size="13.89" text-anchor="middle"><tspan letter-spacing="-0.8">1</tspan><tspan letter-spacing="0.4">1</tspan><tspan dy="-5.3" font-size="9.72">m</tspan></text>
<line x1="257.50" y1="646.00" x2="257.50" y2="650.90" stroke="#000" stroke-width="1.0"/>
<text x="257.0" y="665.1" font-size="13.89" text-anchor="middle"><tspan letter-spacing="-0.8">1</tspan><tspan letter-spacing="0.4">0</tspan><tspan dy="-5.3" font-size="9.72">m</tspan></text>
<line x1="310.50" y1="646.00" x2="310.50" y2="650.90" stroke="#000" stroke-width="1.0"/>
<text x="310.0" y="665.1" font-size="13.89" text-anchor="middle"><tspan letter-spacing="-0.8">0</tspan><tspan letter-spacing="0.4">9</tspan><tspan dy="-5.3" font-size="9.72">m</tspan></text>
<line x1="363.50" y1="646.00" x2="363.50" y2="650.90" stroke="#000" stroke-width="1.0"/>
<text x="362.4" y="665.1" font-size="13.89" text-anchor="middle"><tspan letter-spacing="-0.8">0</tspan><tspan letter-spacing="0.4">8</tspan><tspan dy="-5.3" font-size="9.72">m</tspan></text>
<line x1="92.00" y1="401.40" x2="86.60" y2="401.50" stroke="#000" stroke-width="1.0"/>
<line x1="371.00" y1="401.40" x2="376.60" y2="401.30" stroke="#000" stroke-width="1.0"/>
<text x="82.1" y="405.09999999999997" font-size="13.89" text-anchor="end" letter-spacing="-0.25">-40°15'</text>
<line x1="92.00" y1="471.30" x2="86.60" y2="471.40" stroke="#000" stroke-width="1.0"/>
<line x1="371.00" y1="471.30" x2="376.60" y2="471.20" stroke="#000" stroke-width="1.0"/>
<text x="80.8" y="475.0" font-size="13.89" text-anchor="end" letter-spacing="-0.4">30'</text>
<line x1="92.00" y1="541.20" x2="86.60" y2="541.30" stroke="#000" stroke-width="1.0"/>
<line x1="371.00" y1="541.20" x2="376.60" y2="541.10" stroke="#000" stroke-width="1.0"/>
<text x="81.5" y="544.9000000000001" font-size="13.89" text-anchor="end" letter-spacing="-0.4">45'</text>
<line x1="92.00" y1="611.10" x2="86.60" y2="611.20" stroke="#000" stroke-width="1.0"/>
<line x1="371.00" y1="611.10" x2="376.60" y2="611.00" stroke="#000" stroke-width="1.0"/>
<text x="82.1" y="614.8000000000001" font-size="13.89" text-anchor="end" letter-spacing="-0.25">-41°00'</text>
<text x="231.8" y="685.6" font-size="13.89" text-anchor="middle">RA</text>
<path d="M227.6 500.5L235.4 508.29999999999995M227.6 508.29999999999995L235.4 500.5" stroke="#f00" stroke-width="1.25" fill="none"/>
<path d="M221.4 504.70000000000005L229.20000000000002 512.5M221.4 512.5L229.20000000000002 504.70000000000005" stroke="#00f" stroke-width="1.25" fill="none"/>
<rect x="380.5" y="365.5" width="9.00" height="280.00" fill="url(#gg)" stroke="#000" stroke-width="1"/>
<line x1="390.00" y1="412.50" x2="394.90" y2="412.50" stroke="#000" stroke-width="1.0"/>
<text x="399.3" y="417.8" font-size="13.89" text-anchor="start" letter-spacing="-0.15">80</text>
<line x1="390.00" y1="461.20" x2="394.90" y2="461.20" stroke="#000" stroke-width="1.0"/>
<text x="399.3" y="466.5" font-size="13.89" text-anchor="start" letter-spacing="-0.15">60</text>
<line x1="390.00" y1="509.90" x2="394.90" y2="509.90" stroke="#000" stroke-width="1.0"/>
<text x="399.3" y="515.1999999999999" font-size="13.89" text-anchor="start" letter-spacing="-0.15">40</text>
<line x1="390.00" y1="558.60" x2="394.90" y2="558.60" stroke="#000" stroke-width="1.0"/>
<text x="399.3" y="563.9" font-size="13.89" text-anchor="start" letter-spacing="-0.15">20</text>
<line x1="390.00" y1="607.30" x2="394.90" y2="607.30" stroke="#000" stroke-width="1.0"/>
<text x="399.3" y="612.5999999999999" font-size="13.89" text-anchor="start" letter-spacing="-0.15">0</text>
<text x="431.9" y="505.5" font-size="13.89" text-anchor="middle" transform="rotate(-90 431.9 505.5)">Brightness (mJy/beam)</text>
<g shape-rendering="crispEdges">
<rect x="473.85" y="563.0" width="4.05" height="82.50" fill="#00f" fill-opacity="0.3"/>
<rect x="477.90" y="617.0" width="4.05" height="28.50" fill="#00f" fill-opacity="0.3"/>
<rect x="481.95" y="632.0" width="4.05" height="13.50" fill="#00f" fill-opacity="0.3"/>
<rect x="486.00" y="637.0" width="4.05" height="8.50" fill="#00f" fill-opacity="0.3"/>
<rect x="490.05" y="640.0" width="4.05" height="5.50" fill="#00f" fill-opacity="0.3"/>
<rect x="494.10" y="641.5" width="4.05" height="4.00" fill="#00f" fill-opacity="0.3"/>
<rect x="498.15" y="642.4" width="4.05" height="3.10" fill="#00f" fill-opacity="0.3"/>
<rect x="502.20" y="643.0" width="4.05" height="2.50" fill="#00f" fill-opacity="0.3"/>
<rect x="506.25" y="643" width="11.75" height="2.5" fill="#00f" fill-opacity="0.3"/>
<rect x="518" y="644" width="59.20" height="1.5" fill="#00f" fill-opacity="0.3"/>
<rect x="581" y="644" width="8.00" height="1.5" fill="#00f" fill-opacity="0.3"/>
<rect x="601" y="644" width="7.80" height="1.5" fill="#00f" fill-opacity="0.3"/>
<rect x="619.6" y="644" width="4.40" height="1.5" fill="#00f" fill-opacity="0.3"/>
<rect x="664" y="644" width="4.00" height="1.5" fill="#00f" fill-opacity="0.3"/>
<rect x="470.10" y="378.0" width="6.87" height="267.50" fill="#f00" fill-opacity="0.3"/>
<rect x="476.97" y="569.0" width="6.87" height="76.50" fill="#f00" fill-opacity="0.3"/>
<rect x="483.84" y="618.0" width="6.87" height="27.50" fill="#f00" fill-opacity="0.3"/>
<rect x="490.71" y="632.0" width="6.87" height="13.50" fill="#f00" fill-opacity="0.3"/>
<rect x="497.58" y="638.0" width="6.87" height="7.50" fill="#f00" fill-opacity="0.3"/>
<rect x="504.45" y="640.0" width="6.87" height="5.50" fill="#f00" fill-opacity="0.3"/>
<rect x="511.32" y="642.0" width="6.87" height="3.50" fill="#f00" fill-opacity="0.3"/>
<rect x="518.19" y="643.0" width="6.87" height="2.50" fill="#f00" fill-opacity="0.3"/>
<rect x="525.0600000000001" y="643" width="6.74" height="2.5" fill="#f00" fill-opacity="0.3"/>
<rect x="531.8" y="644" width="116.00" height="1.5" fill="#f00" fill-opacity="0.3"/>
<rect x="655" y="644" width="7.00" height="1.5" fill="#f00" fill-opacity="0.3"/>
<rect x="669" y="644" width="13.70" height="1.5" fill="#f00" fill-opacity="0.3"/>
<rect x="709.8" y="644" width="7.20" height="1.5" fill="#f00" fill-opacity="0.3"/>
<rect x="751" y="644" width="7.00" height="1.5" fill="#f00" fill-opacity="0.3"/>
<rect x="806.2" y="644" width="7.00" height="1.5" fill="#f00" fill-opacity="0.3"/>
</g>
<rect x="470" y="365" width="3" height="281" fill="#000"/>
<rect x="470.5" y="365.5" width="360.00" height="280.00" fill="none" stroke="#000" stroke-width="1.0"/>
<line x1="470.50" y1="646.00" x2="470.50" y2="650.90" stroke="#000" stroke-width="1.0"/>
<text x="470.5" y="666.2" font-size="13.89" text-anchor="middle" letter-spacing="-0.2">0</text>
<line x1="540.90" y1="646.00" x2="540.90" y2="650.90" stroke="#000" stroke-width="1.0"/>
<text x="540.9" y="666.2" font-size="13.89" text-anchor="middle" letter-spacing="-0.2">50</text>
<line x1="611.30" y1="646.00" x2="611.30" y2="650.90" stroke="#000" stroke-width="1.0"/>
<text x="611.3" y="666.2" font-size="13.89" text-anchor="middle" letter-spacing="-0.2">100</text>
<line x1="681.70" y1="646.00" x2="681.70" y2="650.90" stroke="#000" stroke-width="1.0"/>
<text x="681.7" y="666.2" font-size="13.89" text-anchor="middle" letter-spacing="-0.2">150</text>
<line x1="752.10" y1="646.00" x2="752.10" y2="650.90" stroke="#000" stroke-width="1.0"/>
<text x="752.0999999999999" y="666.2" font-size="13.89" text-anchor="middle" letter-spacing="-0.2">200</text>
<line x1="822.50" y1="646.00" x2="822.50" y2="650.90" stroke="#000" stroke-width="1.0"/>
<text x="822.5" y="666.2" font-size="13.89" text-anchor="middle" letter-spacing="-0.2">250</text>
<line x1="831.00" y1="399.50" x2="835.90" y2="399.50" stroke="#000" stroke-width="1.0"/>
<text x="839.6" y="405.2" font-size="13.89" text-anchor="start" letter-spacing="-0.25">12000</text>
<line x1="831.00" y1="440.50" x2="835.90" y2="440.50" stroke="#000" stroke-width="1.0"/>
<text x="839.6" y="446.2" font-size="13.89" text-anchor="start" letter-spacing="-0.25">10000</text>
<line x1="831.00" y1="481.50" x2="835.90" y2="481.50" stroke="#000" stroke-width="1.0"/>
<text x="839.6" y="487.2" font-size="13.89" text-anchor="start" letter-spacing="-0.25">8000</text>
<line x1="831.00" y1="522.50" x2="835.90" y2="522.50" stroke="#000" stroke-width="1.0"/>
<text x="839.6" y="528.2" font-size="13.89" text-anchor="start" letter-spacing="-0.25">6000</text>
<line x1="831.00" y1="563.50" x2="835.90" y2="563.50" stroke="#000" stroke-width="1.0"/>
<text x="839.6" y="569.2" font-size="13.89" text-anchor="start" letter-spacing="-0.25">4000</text>
<line x1="831.00" y1="604.50" x2="835.90" y2="604.50" stroke="#000" stroke-width="1.0"/>
<text x="839.6" y="610.2" font-size="13.89" text-anchor="start" letter-spacing="-0.25">2000</text>
<line x1="831.00" y1="645.50" x2="835.90" y2="645.50" stroke="#000" stroke-width="1.0"/>
<text x="839.6" y="651.2" font-size="13.89" text-anchor="start" letter-spacing="-0.25">0</text>
<text x="650.1" y="684.9" font-size="13.89" text-anchor="middle">Normalised stdev or detection statistics</text>
<text x="899.5" y="506" font-size="13.89" text-anchor="middle" transform="rotate(-90 899.5 506)">Number of Sources</text>
<rect x="618.5" y="370.5" width="206.2" height="65.8" rx="2.2" fill="#fff" fill-opacity="0.8" stroke="#ccc" stroke-opacity="0.8" stroke-width="1"/>
<rect x="622.2" y="375.2" width="22.7" height="7.6" fill="#b2b2ff"/>
<rect x="622.2" y="390.1" width="22.7" height="7.7" fill="#ffb2b2"/>
<line x1="622.20" y1="410.00" x2="645.00" y2="410.00" stroke="#000" stroke-width="2.08" stroke-dasharray="7.71 3.33"/>
<line x1="622.20" y1="425.00" x2="644.90" y2="425.00" stroke="#000" stroke-width="2.08" stroke-linecap="square"/>
<text x="653.2" y="383.0" font-size="11.11" text-anchor="start">Known srcs residual</text>
<text x="653.2" y="398.2" font-size="11.11" text-anchor="start">Known srcs detection statistic</text>
<text x="653.2" y="414.0" font-size="11.11" text-anchor="start">Candidate residual</text>
<text x="653.2" y="428.7" font-size="11.11" text-anchor="start">Candidate detection statistic</text>
</svg></body></html>
